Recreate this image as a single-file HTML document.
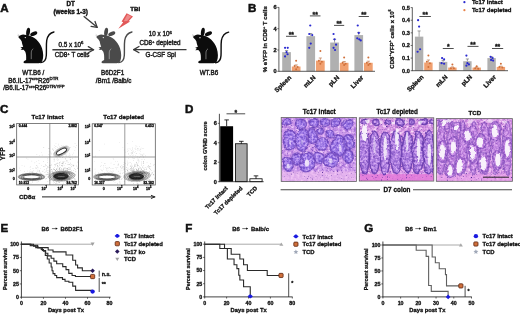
<!DOCTYPE html>
<html><head><meta charset="utf-8"><style>
html,body{margin:0;padding:0;background:#fff;width:520px;height:314px;overflow:hidden}
svg{display:block;filter:blur(0.3px)}
text{font-family:"Liberation Sans", sans-serif}
</style></head><body>
<svg width="520" height="314" viewBox="0 0 520 314">
<defs><filter id="blur05" x="-30%" y="-30%" width="160%" height="160%"><feGaussianBlur stdDeviation="0.6"/></filter><filter id="blur1" x="-20%" y="-20%" width="140%" height="140%"><feGaussianBlur stdDeviation="0.7"/></filter><filter id="blur2" x="-30%" y="-30%" width="160%" height="160%"><feGaussianBlur stdDeviation="0.9"/></filter><clipPath id="clip1"><rect x="281.2" y="117.5" width="75.30" height="63.90"/></clipPath><mask id="mask1" maskUnits="userSpaceOnUse" x="281.2" y="117.5" width="75.30" height="63.90"><g filter="url(#warp1)"><ellipse cx="287.00" cy="122.00" rx="4.59" ry="4.25" fill="#fff" fill-opacity="0.95"/><ellipse cx="301.00" cy="124.00" rx="5.94" ry="5.50" fill="#fff" fill-opacity="0.95"/><ellipse cx="314.00" cy="123.00" rx="5.40" ry="5.00" fill="#fff" fill-opacity="0.95"/><ellipse cx="325.00" cy="122.00" rx="5.40" ry="5.00" fill="#fff" fill-opacity="0.95"/><ellipse cx="336.00" cy="123.00" rx="5.40" ry="5.00" fill="#fff" fill-opacity="0.95"/><ellipse cx="348.00" cy="124.00" rx="5.94" ry="5.50" fill="#fff" fill-opacity="0.95"/><ellipse cx="290.00" cy="140.00" rx="7.29" ry="10.50" fill="#fff" fill-opacity="0.95"/><ellipse cx="302.00" cy="140.00" rx="7.29" ry="11.75" fill="#fff" fill-opacity="0.95"/><ellipse cx="312.00" cy="136.00" rx="5.94" ry="8.00" fill="#fff" fill-opacity="0.95"/><ellipse cx="322.00" cy="144.00" rx="7.29" ry="6.75" fill="#fff" fill-opacity="0.95"/><ellipse cx="339.00" cy="146.00" rx="8.64" ry="11.75" fill="#fff" fill-opacity="0.95"/><ellipse cx="349.00" cy="142.00" rx="5.94" ry="8.00" fill="#fff" fill-opacity="0.95"/><ellipse cx="288.00" cy="165.00" rx="5.94" ry="8.00" fill="#fff" fill-opacity="0.95"/><ellipse cx="297.00" cy="159.00" rx="5.94" ry="6.75" fill="#fff" fill-opacity="0.95"/><ellipse cx="307.00" cy="162.00" rx="8.64" ry="10.50" fill="#fff" fill-opacity="0.95"/><ellipse cx="319.00" cy="158.00" rx="5.94" ry="5.50" fill="#fff" fill-opacity="0.95"/><ellipse cx="331.00" cy="160.00" rx="7.29" ry="8.00" fill="#fff" fill-opacity="0.95"/><ellipse cx="348.00" cy="157.00" rx="5.94" ry="8.00" fill="#fff" fill-opacity="0.95"/><ellipse cx="320.00" cy="131.00" rx="4.05" ry="3.75" fill="#fff" fill-opacity="0.95"/><ellipse cx="330.00" cy="134.00" rx="4.59" ry="4.25" fill="#fff" fill-opacity="0.95"/></g></mask><filter id="warp1" x="-10%" y="-10%" width="120%" height="120%" color-interpolation-filters="sRGB"><feTurbulence type="fractalNoise" baseFrequency="0.09" numOctaves="2" seed="10" result="t"/><feDisplacementMap in="SourceGraphic" in2="t" scale="4.5" xChannelSelector="R" yChannelSelector="G"/><feGaussianBlur stdDeviation="0.55"/></filter><filter id="lwarp1" x="-30%" y="-30%" width="160%" height="160%" color-interpolation-filters="sRGB"><feTurbulence type="fractalNoise" baseFrequency="0.25" numOctaves="2" seed="14" result="t"/><feDisplacementMap in="SourceGraphic" in2="t" scale="2.5" xChannelSelector="R" yChannelSelector="G"/><feGaussianBlur stdDeviation="0.7"/></filter><filter id="hL1" x="0" y="0" width="100%" height="100%" color-interpolation-filters="sRGB"><feTurbulence type="fractalNoise" baseFrequency="0.35" numOctaves="3" seed="3"/><feColorMatrix type="matrix" values="1.7 0 0 0 -0.35  1.7 0 0 0 -0.35  1.7 0 0 0 -0.35  0 0 0 0 1"/><feComponentTransfer><feFuncR type="table" tableValues="0.64 0.73 0.80 0.87 0.94"/><feFuncG type="table" tableValues="0.44 0.52 0.60 0.69 0.82"/><feFuncB type="table" tableValues="0.84 0.88 0.92 0.95 0.98"/></feComponentTransfer></filter><filter id="hD1" x="0" y="0" width="100%" height="100%" color-interpolation-filters="sRGB"><feTurbulence type="fractalNoise" baseFrequency="0.45499999999999996" numOctaves="3" seed="23"/><feColorMatrix type="matrix" values="2.2 0 0 0 -0.6000000000000001  2.2 0 0 0 -0.6000000000000001  2.2 0 0 0 -0.6000000000000001  0 0 0 0 1"/><feComponentTransfer><feFuncR type="table" tableValues="0.46 0.54 0.62 0.70 0.80"/><feFuncG type="table" tableValues="0.32 0.40 0.48 0.56 0.66"/><feFuncB type="table" tableValues="0.80 0.86 0.90 0.94 0.97"/></feComponentTransfer></filter><filter id="hDots1" x="0" y="0" width="100%" height="100%" color-interpolation-filters="sRGB"><feTurbulence type="fractalNoise" baseFrequency="0.8" numOctaves="1" seed="53"/><feColorMatrix type="matrix" values="0 0 0 0 0.30  0 0 0 0 0.14  0 0 0 0 0.60  -5 0 0 0 1.75"/></filter><clipPath id="clip2"><rect x="359.3" y="117.8" width="74.50" height="63.30"/></clipPath><mask id="mask2" maskUnits="userSpaceOnUse" x="359.3" y="117.8" width="74.50" height="63.30"><g filter="url(#warp2)"><ellipse cx="364.00" cy="152.50" rx="6.20" ry="22.00" fill="#fff" fill-opacity="0.95"/><ellipse cx="374.50" cy="152.50" rx="6.20" ry="22.00" fill="#fff" fill-opacity="0.95"/><ellipse cx="385.00" cy="152.50" rx="6.20" ry="22.00" fill="#fff" fill-opacity="0.95"/><ellipse cx="396.00" cy="152.50" rx="6.20" ry="22.00" fill="#fff" fill-opacity="0.95"/><ellipse cx="407.00" cy="152.50" rx="6.20" ry="22.00" fill="#fff" fill-opacity="0.95"/><ellipse cx="418.00" cy="152.50" rx="6.20" ry="22.00" fill="#fff" fill-opacity="0.95"/><ellipse cx="428.50" cy="152.50" rx="6.20" ry="22.00" fill="#fff" fill-opacity="0.95"/><ellipse cx="364.00" cy="122.00" rx="4.00" ry="3.20" fill="#fff" fill-opacity="0.95"/><ellipse cx="376.00" cy="122.00" rx="4.00" ry="3.20" fill="#fff" fill-opacity="0.95"/><ellipse cx="388.00" cy="122.00" rx="4.00" ry="3.20" fill="#fff" fill-opacity="0.95"/><ellipse cx="400.00" cy="122.00" rx="4.00" ry="3.20" fill="#fff" fill-opacity="0.95"/><ellipse cx="412.00" cy="122.00" rx="4.00" ry="3.20" fill="#fff" fill-opacity="0.95"/><ellipse cx="424.00" cy="122.00" rx="4.00" ry="3.20" fill="#fff" fill-opacity="0.95"/><ellipse cx="433.00" cy="122.00" rx="4.00" ry="3.20" fill="#fff" fill-opacity="0.95"/></g></mask><filter id="warp2" x="-10%" y="-10%" width="120%" height="120%" color-interpolation-filters="sRGB"><feTurbulence type="fractalNoise" baseFrequency="0.09" numOctaves="2" seed="12" result="t"/><feDisplacementMap in="SourceGraphic" in2="t" scale="4.5" xChannelSelector="R" yChannelSelector="G"/><feGaussianBlur stdDeviation="0.55"/></filter><filter id="lwarp2" x="-30%" y="-30%" width="160%" height="160%" color-interpolation-filters="sRGB"><feTurbulence type="fractalNoise" baseFrequency="0.25" numOctaves="2" seed="16" result="t"/><feDisplacementMap in="SourceGraphic" in2="t" scale="2.5" xChannelSelector="R" yChannelSelector="G"/><feGaussianBlur stdDeviation="0.7"/></filter><filter id="hL2" x="0" y="0" width="100%" height="100%" color-interpolation-filters="sRGB"><feTurbulence type="fractalNoise" baseFrequency="0.35" numOctaves="3" seed="5"/><feColorMatrix type="matrix" values="1.7 0 0 0 -0.35  1.7 0 0 0 -0.35  1.7 0 0 0 -0.35  0 0 0 0 1"/><feComponentTransfer><feFuncR type="table" tableValues="0.68 0.78 0.85 0.92 0.97"/><feFuncG type="table" tableValues="0.42 0.52 0.61 0.72 0.86"/><feFuncB type="table" tableValues="0.80 0.86 0.90 0.94 0.98"/></feComponentTransfer></filter><filter id="hD2" x="0" y="0" width="100%" height="100%" color-interpolation-filters="sRGB"><feTurbulence type="fractalNoise" baseFrequency="0.45499999999999996" numOctaves="3" seed="25"/><feColorMatrix type="matrix" values="2.2 0 0 0 -0.6000000000000001  2.2 0 0 0 -0.6000000000000001  2.2 0 0 0 -0.6000000000000001  0 0 0 0 1"/><feComponentTransfer><feFuncR type="table" tableValues="0.52 0.60 0.68 0.76 0.84"/><feFuncG type="table" tableValues="0.34 0.42 0.50 0.58 0.68"/><feFuncB type="table" tableValues="0.76 0.83 0.88 0.92 0.95"/></feComponentTransfer></filter><filter id="hDots2" x="0" y="0" width="100%" height="100%" color-interpolation-filters="sRGB"><feTurbulence type="fractalNoise" baseFrequency="0.8" numOctaves="1" seed="55"/><feColorMatrix type="matrix" values="0 0 0 0 0.30  0 0 0 0 0.14  0 0 0 0 0.60  -5 0 0 0 1.85"/></filter><clipPath id="clip3"><rect x="436.3" y="118.6" width="76.20" height="62.70"/></clipPath><mask id="mask3" maskUnits="userSpaceOnUse" x="436.3" y="118.6" width="76.20" height="62.70"><g filter="url(#warp3)"><ellipse cx="443.90" cy="123.00" rx="6.10" ry="6.40" fill="#fff" fill-opacity="0.85"/><ellipse cx="456.60" cy="127.90" rx="5.60" ry="5.90" fill="#fff" fill-opacity="0.85"/><ellipse cx="467.70" cy="135.80" rx="6.40" ry="8.40" fill="#fff" fill-opacity="0.85"/><ellipse cx="480.40" cy="142.20" rx="6.20" ry="8.40" fill="#fff" fill-opacity="0.85"/><ellipse cx="494.70" cy="131.00" rx="6.40" ry="9.90" fill="#fff" fill-opacity="0.85"/><ellipse cx="442.30" cy="151.60" rx="6.20" ry="11.40" fill="#fff" fill-opacity="0.85"/><ellipse cx="453.40" cy="147.00" rx="6.10" ry="9.90" fill="#fff" fill-opacity="0.85"/><ellipse cx="472.50" cy="153.30" rx="6.10" ry="9.90" fill="#fff" fill-opacity="0.85"/><ellipse cx="459.80" cy="166.00" rx="6.40" ry="9.90" fill="#fff" fill-opacity="0.85"/><ellipse cx="483.60" cy="162.70" rx="6.40" ry="9.90" fill="#fff" fill-opacity="0.85"/><ellipse cx="497.90" cy="159.60" rx="6.20" ry="9.90" fill="#fff" fill-opacity="0.85"/><ellipse cx="507.40" cy="148.50" rx="6.00" ry="11.40" fill="#fff" fill-opacity="0.85"/><ellipse cx="450.20" cy="170.70" rx="5.80" ry="7.90" fill="#fff" fill-opacity="0.85"/><ellipse cx="441.00" cy="148.00" rx="5.20" ry="27.00" fill="#fff" fill-opacity="0.85"/><ellipse cx="452.00" cy="148.00" rx="5.20" ry="27.00" fill="#fff" fill-opacity="0.85"/><ellipse cx="463.00" cy="148.00" rx="5.20" ry="27.00" fill="#fff" fill-opacity="0.85"/><ellipse cx="474.00" cy="148.00" rx="5.20" ry="27.00" fill="#fff" fill-opacity="0.85"/><ellipse cx="485.00" cy="148.00" rx="5.20" ry="27.00" fill="#fff" fill-opacity="0.85"/><ellipse cx="496.00" cy="148.00" rx="5.20" ry="27.00" fill="#fff" fill-opacity="0.85"/><ellipse cx="507.00" cy="148.00" rx="5.20" ry="27.00" fill="#fff" fill-opacity="0.85"/></g></mask><filter id="warp3" x="-10%" y="-10%" width="120%" height="120%" color-interpolation-filters="sRGB"><feTurbulence type="fractalNoise" baseFrequency="0.09" numOctaves="2" seed="16" result="t"/><feDisplacementMap in="SourceGraphic" in2="t" scale="4.5" xChannelSelector="R" yChannelSelector="G"/><feGaussianBlur stdDeviation="0.55"/></filter><filter id="lwarp3" x="-30%" y="-30%" width="160%" height="160%" color-interpolation-filters="sRGB"><feTurbulence type="fractalNoise" baseFrequency="0.25" numOctaves="2" seed="20" result="t"/><feDisplacementMap in="SourceGraphic" in2="t" scale="3.5" xChannelSelector="R" yChannelSelector="G"/><feGaussianBlur stdDeviation="0.7"/></filter><filter id="hL3" x="0" y="0" width="100%" height="100%" color-interpolation-filters="sRGB"><feTurbulence type="fractalNoise" baseFrequency="0.35" numOctaves="3" seed="9"/><feColorMatrix type="matrix" values="1.7 0 0 0 -0.35  1.7 0 0 0 -0.35  1.7 0 0 0 -0.35  0 0 0 0 1"/><feComponentTransfer><feFuncR type="table" tableValues="0.68 0.78 0.85 0.92 0.97"/><feFuncG type="table" tableValues="0.42 0.52 0.61 0.72 0.86"/><feFuncB type="table" tableValues="0.80 0.86 0.90 0.94 0.98"/></feComponentTransfer></filter><filter id="hD3" x="0" y="0" width="100%" height="100%" color-interpolation-filters="sRGB"><feTurbulence type="fractalNoise" baseFrequency="0.45499999999999996" numOctaves="3" seed="29"/><feColorMatrix type="matrix" values="2.2 0 0 0 -0.6000000000000001  2.2 0 0 0 -0.6000000000000001  2.2 0 0 0 -0.6000000000000001  0 0 0 0 1"/><feComponentTransfer><feFuncR type="table" tableValues="0.60 0.68 0.75 0.82 0.89"/><feFuncG type="table" tableValues="0.36 0.44 0.52 0.60 0.70"/><feFuncB type="table" tableValues="0.77 0.83 0.88 0.92 0.95"/></feComponentTransfer></filter><filter id="hDots3" x="0" y="0" width="100%" height="100%" color-interpolation-filters="sRGB"><feTurbulence type="fractalNoise" baseFrequency="0.8" numOctaves="1" seed="59"/><feColorMatrix type="matrix" values="0 0 0 0 0.30  0 0 0 0 0.14  0 0 0 0 0.60  -5 0 0 0 1.85"/></filter></defs>
<rect width="520" height="314" fill="#fff"/>
<text x="0.20" y="11.80" font-size="11.6" font-weight="bold" text-anchor="start" fill="#111" stroke="#111" stroke-width="0.5">A</text>
<text x="70.60" y="6.10" font-size="6.3" font-weight="bold" text-anchor="middle" fill="#111" stroke="#111" stroke-width="0.4">DT</text>
<text x="70.70" y="14.00" font-size="6.4" font-weight="bold" text-anchor="middle" fill="#111" stroke="#111" stroke-width="0.4">(weeks 1-3)</text>
<line x1="83.70" y1="16.20" x2="96.90" y2="27.10" stroke="#3a3a3a" stroke-width="1.35" />
<line x1="91.07" y1="26.31" x2="97.13" y2="27.29" stroke="#3a3a3a" stroke-width="1.2825" stroke-linecap="round"/>
<line x1="95.02" y1="21.53" x2="97.13" y2="27.29" stroke="#3a3a3a" stroke-width="1.2825" stroke-linecap="round"/>
<text x="130.30" y="10.90" font-size="6.1" font-weight="bold" text-anchor="start" fill="#111" stroke="#111" stroke-width="0.4">TBI</text>
<polygon points="126.6,13.2 133,16.4 128.6,21.2 130.2,21.6 118.3,28.8 123.2,22.2 121.6,21.6" fill="#e25858"/>
<polygon points="127.4,14.4 131.2,16.4 127.2,21 123.8,21.2" fill="#f4a0a0" opacity="0.7"/>
<g transform="translate(18.4,36.7) scale(1.045)" fill="#0c0c0c">
<path d="M0,0 C1.2,-1 2.8,-2 4.6,-2.2 L8.7,-1.4 C15,-0.3 20.5,4.5 22.6,11 C24,15.5 24.2,20 22.8,23.4 C22,24.6 20.8,25.2 19.5,25.3 L6.2,25.3 C4.8,25.3 4.4,24 5.6,23.2 L7.4,22.4 C7.6,19 7.4,16.5 6.6,14.5 L5,12.6 L2,12.8 L3.6,11.5 L2,10.4 L4.6,9.6 C3.8,7.5 3.3,5.5 3.1,4.3 C2.5,3 1.6,2 0.8,1.4 C0.2,1 0,0.5 0,0 Z"/>
<ellipse cx="9.3" cy="-4.6" rx="1.8" ry="4.0" transform="rotate(9 9.3 -4.6)"/>
<ellipse cx="14.7" cy="-2.9" rx="3.6" ry="1.8" transform="rotate(-24 14.7 -2.9)"/>
<path d="M21.5,24.8 C24.6,24.5 26.4,22.5 26.7,18 C27,13 26.5,8 27.1,3.5 C27.9,-0.5 30.5,-3.8 34,-4.5" fill="none" stroke="#0c0c0c" stroke-width="1.35" stroke-linecap="round"/>
<circle cx="6.6" cy="0.8" r="0.6" fill="#fff"/>
<path d="M14.2,11.5 C12.8,12.5 12.3,14 12.3,15.5 L12.3,21.5" fill="none" stroke="#fff" stroke-width="0.5" opacity="0.8"/>
<path d="M1.5,-0.5 L-0.6,-2.2 M1.5,-0.2 L-0.8,-1" stroke="#0c0c0c" stroke-width="0.3" opacity="0.7"/>
</g>
<g transform="translate(96.4,36.7) scale(1.045)" fill="#4a4a4a">
<path d="M0,0 C1.2,-1 2.8,-2 4.6,-2.2 L8.7,-1.4 C15,-0.3 20.5,4.5 22.6,11 C24,15.5 24.2,20 22.8,23.4 C22,24.6 20.8,25.2 19.5,25.3 L6.2,25.3 C4.8,25.3 4.4,24 5.6,23.2 L7.4,22.4 C7.6,19 7.4,16.5 6.6,14.5 L5,12.6 L2,12.8 L3.6,11.5 L2,10.4 L4.6,9.6 C3.8,7.5 3.3,5.5 3.1,4.3 C2.5,3 1.6,2 0.8,1.4 C0.2,1 0,0.5 0,0 Z"/>
<ellipse cx="9.3" cy="-4.6" rx="1.8" ry="4.0" transform="rotate(9 9.3 -4.6)"/>
<ellipse cx="14.7" cy="-2.9" rx="3.6" ry="1.8" transform="rotate(-24 14.7 -2.9)"/>
<path d="M21.5,24.8 C24.6,24.5 26.4,22.5 26.7,18 C27,13 26.5,8 27.1,3.5 C27.9,-0.5 30.5,-3.8 34,-4.5" fill="none" stroke="#4a4a4a" stroke-width="1.35" stroke-linecap="round"/>
<circle cx="6.6" cy="0.8" r="0.6" fill="#fff"/>
<path d="M14.2,11.5 C12.8,12.5 12.3,14 12.3,15.5 L12.3,21.5" fill="none" stroke="#fff" stroke-width="0.5" opacity="0.8"/>
<path d="M1.5,-0.5 L-0.6,-2.2 M1.5,-0.2 L-0.8,-1" stroke="#4a4a4a" stroke-width="0.3" opacity="0.7"/>
</g>
<g transform="translate(193.1,36.8) scale(1.045)" fill="#0c0c0c">
<path d="M0,0 C1.2,-1 2.8,-2 4.6,-2.2 L8.7,-1.4 C15,-0.3 20.5,4.5 22.6,11 C24,15.5 24.2,20 22.8,23.4 C22,24.6 20.8,25.2 19.5,25.3 L6.2,25.3 C4.8,25.3 4.4,24 5.6,23.2 L7.4,22.4 C7.6,19 7.4,16.5 6.6,14.5 L5,12.6 L2,12.8 L3.6,11.5 L2,10.4 L4.6,9.6 C3.8,7.5 3.3,5.5 3.1,4.3 C2.5,3 1.6,2 0.8,1.4 C0.2,1 0,0.5 0,0 Z"/>
<ellipse cx="9.3" cy="-4.6" rx="1.8" ry="4.0" transform="rotate(9 9.3 -4.6)"/>
<ellipse cx="14.7" cy="-2.9" rx="3.6" ry="1.8" transform="rotate(-24 14.7 -2.9)"/>
<path d="M21.5,24.8 C24.6,24.5 26.4,22.5 26.7,18 C27,13 26.5,8 27.1,3.5 C27.9,-0.5 30.5,-3.8 34,-4.5" fill="none" stroke="#0c0c0c" stroke-width="1.35" stroke-linecap="round"/>
<circle cx="6.6" cy="0.8" r="0.6" fill="#fff"/>
<path d="M14.2,11.5 C12.8,12.5 12.3,14 12.3,15.5 L12.3,21.5" fill="none" stroke="#fff" stroke-width="0.5" opacity="0.8"/>
<path d="M1.5,-0.5 L-0.6,-2.2 M1.5,-0.2 L-0.8,-1" stroke="#0c0c0c" stroke-width="0.3" opacity="0.7"/>
</g>
<line x1="52.40" y1="49.70" x2="93.30" y2="49.70" stroke="#3a3a3a" stroke-width="1.35" />
<line x1="88.30" y1="52.80" x2="93.60" y2="49.70" stroke="#3a3a3a" stroke-width="1.2825" stroke-linecap="round"/>
<line x1="88.30" y1="46.60" x2="93.60" y2="49.70" stroke="#3a3a3a" stroke-width="1.2825" stroke-linecap="round"/>
<line x1="186.50" y1="49.60" x2="134.00" y2="49.60" stroke="#3a3a3a" stroke-width="1.35" />
<line x1="139.00" y1="46.50" x2="133.70" y2="49.60" stroke="#3a3a3a" stroke-width="1.2825" stroke-linecap="round"/>
<line x1="139.00" y1="52.70" x2="133.70" y2="49.60" stroke="#3a3a3a" stroke-width="1.2825" stroke-linecap="round"/>
<text x="71.00" y="46.50" font-size="6.3" font-weight="400" text-anchor="middle" fill="#222"  stroke="#222" stroke-width="0.42">0.5 x 10<tspan font-size="4.3" dy="-2.2">6</tspan></text>
<text x="72.10" y="57.40" font-size="6.3" font-weight="400" text-anchor="middle" fill="#222"  stroke="#222" stroke-width="0.42">CD8<tspan font-size="4.3" dy="-2.2">+</tspan><tspan dy="2.2"> T cells</tspan></text>
<text x="160.30" y="36.30" font-size="6.3" font-weight="400" text-anchor="middle" fill="#222"  stroke="#222" stroke-width="0.42">10 x 10<tspan font-size="4.3" dy="-2.2">6</tspan></text>
<text x="160.00" y="45.00" font-size="6.3" font-weight="400" text-anchor="middle" fill="#222"  stroke="#222" stroke-width="0.42">CD8<tspan font-size="4.3" dy="-2.2">+</tspan><tspan dy="2.2"> depleted</tspan></text>
<text x="160.80" y="57.10" font-size="6.3" font-weight="400" text-anchor="middle" fill="#222"  stroke="#222" stroke-width="0.42">G-CSF Spl</text>
<text x="33.30" y="74.80" font-size="6.3" font-weight="400" text-anchor="middle" fill="#222"  stroke="#222" stroke-width="0.42">WT.B6 /</text>
<text x="33.30" y="82.50" font-size="6.3" font-weight="400" text-anchor="middle" fill="#222"  stroke="#222" stroke-width="0.42">B6.IL-17<tspan font-size="4.3" dy="-2.3">cre</tspan><tspan dy="2.3">R26</tspan><tspan font-size="4.3" dy="-2.3">DTR</tspan></text>
<text x="34.00" y="90.00" font-size="6.3" font-weight="400" text-anchor="middle" fill="#222"  stroke="#222" stroke-width="0.42">/B6.IL-17<tspan font-size="4.3" dy="-2.3">cre</tspan><tspan dy="2.3">R26</tspan><tspan font-size="4.3" dy="-2.3">DTR/YFP</tspan></text>
<text x="112.60" y="74.80" font-size="6.3" font-weight="400" text-anchor="middle" fill="#222"  stroke="#222" stroke-width="0.42">B6D2F1</text>
<text x="113.60" y="82.80" font-size="6.3" font-weight="400" text-anchor="middle" fill="#222"  stroke="#222" stroke-width="0.42">/Bm1 /Balb/c</text>
<text x="208.90" y="74.80" font-size="6.3" font-weight="400" text-anchor="middle" fill="#222"  stroke="#222" stroke-width="0.42">WT.B6</text>
<text x="248.00" y="11.80" font-size="11.6" font-weight="bold" text-anchor="start" fill="#111" stroke="#111" stroke-width="0.5">B</text>
<rect x="282.20" y="52.13" width="8.7" height="19.17" fill="#b0b0b0"/>
<rect x="291.80" y="66.51" width="8.7" height="4.79" fill="#f0a070"/>
<line x1="286.55" y1="52.13" x2="286.55" y2="50.53" stroke="#666" stroke-width="0.6" />
<line x1="284.95" y1="50.53" x2="288.15" y2="50.53" stroke="#666" stroke-width="0.6" />
<line x1="296.15" y1="66.51" x2="296.15" y2="64.91" stroke="#b86a3a" stroke-width="0.6" />
<line x1="294.55" y1="64.91" x2="297.75" y2="64.91" stroke="#b86a3a" stroke-width="0.6" />
<circle cx="285.05" cy="47.87" r="1.1" fill="#2a2ad0"/>
<circle cx="287.75" cy="47.87" r="1.1" fill="#2a2ad0"/>
<circle cx="286.55" cy="52.13" r="1.1" fill="#2a2ad0"/>
<circle cx="287.55" cy="54.26" r="1.1" fill="#2a2ad0"/>
<circle cx="285.05" cy="56.39" r="1.1" fill="#2a2ad0"/>
<circle cx="296.15" cy="60.65" r="1.0" fill="#d0703a"/>
<circle cx="294.65" cy="65.97" r="1.0" fill="#d0703a"/>
<circle cx="297.65" cy="67.04" r="1.0" fill="#d0703a"/>
<circle cx="296.15" cy="69.17" r="1.0" fill="#d0703a"/>
<line x1="286.00" y1="36.30" x2="296.70" y2="36.30" stroke="#222" stroke-width="0.8" />
<text x="291.35" y="37.20" font-size="6.8" font-weight="bold" text-anchor="middle" fill="#111"  stroke="#111" stroke-width="0.3">**</text>
<text transform="translate(291.65,78.10) rotate(-45)" font-size="6.3" font-weight="bold" text-anchor="end" fill="#111" stroke="#111" stroke-width="0.3">Spleen</text>
<rect x="306.40" y="36.16" width="8.7" height="35.14" fill="#b0b0b0"/>
<rect x="316.00" y="60.65" width="8.7" height="10.65" fill="#f0a070"/>
<line x1="310.75" y1="36.16" x2="310.75" y2="33.49" stroke="#666" stroke-width="0.6" />
<line x1="309.15" y1="33.49" x2="312.35" y2="33.49" stroke="#666" stroke-width="0.6" />
<line x1="320.35" y1="60.65" x2="320.35" y2="57.99" stroke="#b86a3a" stroke-width="0.6" />
<line x1="318.75" y1="57.99" x2="321.95" y2="57.99" stroke="#b86a3a" stroke-width="0.6" />
<circle cx="310.25" cy="25.50" r="1.1" fill="#2a2ad0"/>
<circle cx="309.25" cy="34.02" r="1.1" fill="#2a2ad0"/>
<circle cx="312.25" cy="35.09" r="1.1" fill="#2a2ad0"/>
<circle cx="310.75" cy="43.61" r="1.1" fill="#2a2ad0"/>
<circle cx="309.25" cy="47.87" r="1.1" fill="#2a2ad0"/>
<circle cx="320.35" cy="51.06" r="1.0" fill="#d0703a"/>
<circle cx="318.85" cy="60.65" r="1.0" fill="#d0703a"/>
<circle cx="321.85" cy="61.71" r="1.0" fill="#d0703a"/>
<circle cx="320.35" cy="63.84" r="1.0" fill="#d0703a"/>
<line x1="309.90" y1="15.90" x2="320.50" y2="15.90" stroke="#222" stroke-width="0.8" />
<text x="315.20" y="16.80" font-size="6.8" font-weight="bold" text-anchor="middle" fill="#111"  stroke="#111" stroke-width="0.3">**</text>
<text transform="translate(315.85,78.10) rotate(-45)" font-size="6.3" font-weight="bold" text-anchor="end" fill="#111" stroke="#111" stroke-width="0.3">mLN</text>
<rect x="330.20" y="42.54" width="8.7" height="28.76" fill="#b0b0b0"/>
<rect x="339.80" y="62.78" width="8.7" height="8.52" fill="#f0a070"/>
<line x1="334.55" y1="42.54" x2="334.55" y2="39.35" stroke="#666" stroke-width="0.6" />
<line x1="332.95" y1="39.35" x2="336.15" y2="39.35" stroke="#666" stroke-width="0.6" />
<line x1="344.15" y1="62.78" x2="344.15" y2="61.50" stroke="#b86a3a" stroke-width="0.6" />
<line x1="342.55" y1="61.50" x2="345.75" y2="61.50" stroke="#b86a3a" stroke-width="0.6" />
<circle cx="333.55" cy="34.02" r="1.1" fill="#2a2ad0"/>
<circle cx="334.55" cy="39.35" r="1.1" fill="#2a2ad0"/>
<circle cx="336.05" cy="44.67" r="1.1" fill="#2a2ad0"/>
<circle cx="333.55" cy="47.87" r="1.1" fill="#2a2ad0"/>
<circle cx="335.05" cy="50.00" r="1.1" fill="#2a2ad0"/>
<circle cx="344.15" cy="57.45" r="1.0" fill="#d0703a"/>
<circle cx="342.65" cy="62.78" r="1.0" fill="#d0703a"/>
<circle cx="345.65" cy="63.84" r="1.0" fill="#d0703a"/>
<circle cx="344.15" cy="64.91" r="1.0" fill="#d0703a"/>
<line x1="334.00" y1="25.40" x2="344.20" y2="25.40" stroke="#222" stroke-width="0.8" />
<text x="339.10" y="26.30" font-size="6.8" font-weight="bold" text-anchor="middle" fill="#111"  stroke="#111" stroke-width="0.3">**</text>
<text transform="translate(339.65,78.10) rotate(-45)" font-size="6.3" font-weight="bold" text-anchor="end" fill="#111" stroke="#111" stroke-width="0.3">pLN</text>
<rect x="354.40" y="35.09" width="8.7" height="36.21" fill="#b0b0b0"/>
<rect x="364.00" y="62.78" width="8.7" height="8.52" fill="#f0a070"/>
<line x1="358.75" y1="35.09" x2="358.75" y2="32.43" stroke="#666" stroke-width="0.6" />
<line x1="357.15" y1="32.43" x2="360.35" y2="32.43" stroke="#666" stroke-width="0.6" />
<line x1="368.35" y1="62.78" x2="368.35" y2="61.18" stroke="#b86a3a" stroke-width="0.6" />
<line x1="366.75" y1="61.18" x2="369.95" y2="61.18" stroke="#b86a3a" stroke-width="0.6" />
<circle cx="357.75" cy="25.50" r="1.1" fill="#2a2ad0"/>
<circle cx="358.75" cy="32.96" r="1.1" fill="#2a2ad0"/>
<circle cx="357.25" cy="38.28" r="1.1" fill="#2a2ad0"/>
<circle cx="359.25" cy="39.35" r="1.1" fill="#2a2ad0"/>
<circle cx="360.75" cy="40.41" r="1.1" fill="#2a2ad0"/>
<circle cx="368.35" cy="57.45" r="1.0" fill="#d0703a"/>
<circle cx="366.85" cy="62.78" r="1.0" fill="#d0703a"/>
<circle cx="369.85" cy="63.84" r="1.0" fill="#d0703a"/>
<circle cx="368.35" cy="64.91" r="1.0" fill="#d0703a"/>
<line x1="358.70" y1="16.50" x2="368.90" y2="16.50" stroke="#222" stroke-width="0.8" />
<text x="363.80" y="17.40" font-size="6.8" font-weight="bold" text-anchor="middle" fill="#111"  stroke="#111" stroke-width="0.3">**</text>
<text transform="translate(363.85,78.10) rotate(-45)" font-size="6.3" font-weight="bold" text-anchor="end" fill="#111" stroke="#111" stroke-width="0.3">Liver</text>
<line x1="278.90" y1="7.20" x2="278.90" y2="71.70" stroke="#333" stroke-width="0.8" />
<line x1="278.90" y1="71.30" x2="375.00" y2="71.30" stroke="#333" stroke-width="0.8" />
<line x1="277.30" y1="71.30" x2="278.90" y2="71.30" stroke="#333" stroke-width="0.7" />
<text x="276.50" y="73.30" font-size="5.6" font-weight="bold" text-anchor="end" fill="#111"  stroke="#111" stroke-width="0.3">0</text>
<line x1="277.30" y1="50.00" x2="278.90" y2="50.00" stroke="#333" stroke-width="0.7" />
<text x="276.50" y="52.00" font-size="5.6" font-weight="bold" text-anchor="end" fill="#111"  stroke="#111" stroke-width="0.3">2</text>
<line x1="277.30" y1="28.70" x2="278.90" y2="28.70" stroke="#333" stroke-width="0.7" />
<text x="276.50" y="30.70" font-size="5.6" font-weight="bold" text-anchor="end" fill="#111"  stroke="#111" stroke-width="0.3">4</text>
<line x1="277.30" y1="7.40" x2="278.90" y2="7.40" stroke="#333" stroke-width="0.7" />
<text x="276.50" y="9.40" font-size="5.6" font-weight="bold" text-anchor="end" fill="#111"  stroke="#111" stroke-width="0.3">6</text>
<text transform="translate(266.80,39.25) rotate(-90)" font-size="6.1" font-weight="bold" text-anchor="middle" fill="#111" stroke="#111" stroke-width="0.25">% eYFP in CD8<tspan font-size="3.8" dy="-2.2">+</tspan><tspan dy="2.2"> T cells</tspan></text>
<rect x="414.90" y="36.63" width="8.4" height="34.07" fill="#b0b0b0"/>
<rect x="424.20" y="62.50" width="8.4" height="8.20" fill="#f0a070"/>
<line x1="419.10" y1="36.63" x2="419.10" y2="30.95" stroke="#666" stroke-width="0.6" />
<line x1="417.50" y1="30.95" x2="420.70" y2="30.95" stroke="#666" stroke-width="0.6" />
<line x1="428.40" y1="62.50" x2="428.40" y2="59.97" stroke="#b86a3a" stroke-width="0.6" />
<line x1="426.80" y1="59.97" x2="430.00" y2="59.97" stroke="#b86a3a" stroke-width="0.6" />
<circle cx="418.10" cy="20.22" r="1.1" fill="#2a2ad0"/>
<circle cx="419.10" cy="26.53" r="1.1" fill="#2a2ad0"/>
<circle cx="420.10" cy="49.25" r="1.1" fill="#2a2ad0"/>
<circle cx="417.60" cy="51.77" r="1.1" fill="#2a2ad0"/>
<circle cx="428.40" cy="55.56" r="1.0" fill="#d0703a"/>
<circle cx="426.90" cy="61.87" r="1.0" fill="#d0703a"/>
<circle cx="429.90" cy="63.13" r="1.0" fill="#d0703a"/>
<circle cx="428.40" cy="66.91" r="1.0" fill="#d0703a"/>
<line x1="419.40" y1="16.50" x2="430.90" y2="16.50" stroke="#222" stroke-width="0.8" />
<text x="425.15" y="17.40" font-size="6.8" font-weight="bold" text-anchor="middle" fill="#111"  stroke="#111" stroke-width="0.3">**</text>
<text transform="translate(424.05,77.50) rotate(-45)" font-size="6.3" font-weight="bold" text-anchor="end" fill="#111" stroke="#111" stroke-width="0.3">Spleen</text>
<rect x="438.90" y="61.87" width="8.4" height="8.83" fill="#b0b0b0"/>
<rect x="448.20" y="67.55" width="8.4" height="3.16" fill="#f0a070"/>
<line x1="443.10" y1="61.87" x2="443.10" y2="60.35" stroke="#666" stroke-width="0.6" />
<line x1="441.50" y1="60.35" x2="444.70" y2="60.35" stroke="#666" stroke-width="0.6" />
<line x1="452.40" y1="67.55" x2="452.40" y2="66.91" stroke="#b86a3a" stroke-width="0.6" />
<line x1="450.80" y1="66.91" x2="454.00" y2="66.91" stroke="#b86a3a" stroke-width="0.6" />
<circle cx="442.10" cy="58.08" r="1.1" fill="#2a2ad0"/>
<circle cx="444.10" cy="59.34" r="1.1" fill="#2a2ad0"/>
<circle cx="441.60" cy="63.13" r="1.1" fill="#2a2ad0"/>
<circle cx="444.10" cy="63.76" r="1.1" fill="#2a2ad0"/>
<circle cx="452.40" cy="64.39" r="1.0" fill="#d0703a"/>
<circle cx="450.90" cy="68.18" r="1.0" fill="#d0703a"/>
<circle cx="453.90" cy="68.18" r="1.0" fill="#d0703a"/>
<line x1="442.80" y1="48.50" x2="453.70" y2="48.50" stroke="#222" stroke-width="0.8" />
<text x="448.25" y="49.40" font-size="6.8" font-weight="bold" text-anchor="middle" fill="#111"  stroke="#111" stroke-width="0.3">*</text>
<text transform="translate(448.05,77.50) rotate(-45)" font-size="6.3" font-weight="bold" text-anchor="end" fill="#111" stroke="#111" stroke-width="0.3">mLN</text>
<rect x="463.20" y="61.23" width="8.4" height="9.47" fill="#b0b0b0"/>
<rect x="472.50" y="67.55" width="8.4" height="3.16" fill="#f0a070"/>
<line x1="467.40" y1="61.23" x2="467.40" y2="58.96" stroke="#666" stroke-width="0.6" />
<line x1="465.80" y1="58.96" x2="469.00" y2="58.96" stroke="#666" stroke-width="0.6" />
<line x1="476.70" y1="67.55" x2="476.70" y2="67.04" stroke="#b86a3a" stroke-width="0.6" />
<line x1="475.10" y1="67.04" x2="478.30" y2="67.04" stroke="#b86a3a" stroke-width="0.6" />
<circle cx="466.40" cy="55.56" r="1.1" fill="#2a2ad0"/>
<circle cx="467.40" cy="63.13" r="1.1" fill="#2a2ad0"/>
<circle cx="468.90" cy="64.39" r="1.1" fill="#2a2ad0"/>
<circle cx="466.40" cy="65.65" r="1.1" fill="#2a2ad0"/>
<circle cx="476.70" cy="66.28" r="1.0" fill="#d0703a"/>
<circle cx="475.20" cy="68.18" r="1.0" fill="#d0703a"/>
<circle cx="478.20" cy="68.81" r="1.0" fill="#d0703a"/>
<line x1="467.50" y1="46.40" x2="478.50" y2="46.40" stroke="#222" stroke-width="0.8" />
<text x="473.00" y="47.30" font-size="6.8" font-weight="bold" text-anchor="middle" fill="#111"  stroke="#111" stroke-width="0.3">**</text>
<text transform="translate(472.35,77.50) rotate(-45)" font-size="6.3" font-weight="bold" text-anchor="end" fill="#111" stroke="#111" stroke-width="0.3">pLN</text>
<rect x="487.40" y="58.08" width="8.4" height="12.62" fill="#b0b0b0"/>
<rect x="496.70" y="66.91" width="8.4" height="3.79" fill="#f0a070"/>
<line x1="491.60" y1="58.08" x2="491.60" y2="56.82" stroke="#666" stroke-width="0.6" />
<line x1="490.00" y1="56.82" x2="493.20" y2="56.82" stroke="#666" stroke-width="0.6" />
<line x1="500.90" y1="66.91" x2="500.90" y2="66.16" stroke="#b86a3a" stroke-width="0.6" />
<line x1="499.30" y1="66.16" x2="502.50" y2="66.16" stroke="#b86a3a" stroke-width="0.6" />
<circle cx="490.60" cy="56.82" r="1.1" fill="#2a2ad0"/>
<circle cx="492.60" cy="58.08" r="1.1" fill="#2a2ad0"/>
<circle cx="491.10" cy="59.97" r="1.1" fill="#2a2ad0"/>
<circle cx="493.10" cy="60.60" r="1.1" fill="#2a2ad0"/>
<circle cx="500.90" cy="63.76" r="1.0" fill="#d0703a"/>
<circle cx="499.40" cy="66.91" r="1.0" fill="#d0703a"/>
<circle cx="502.40" cy="67.55" r="1.0" fill="#d0703a"/>
<line x1="492.00" y1="48.50" x2="503.20" y2="48.50" stroke="#222" stroke-width="0.8" />
<text x="497.60" y="49.40" font-size="6.8" font-weight="bold" text-anchor="middle" fill="#111"  stroke="#111" stroke-width="0.3">**</text>
<text transform="translate(496.55,77.50) rotate(-45)" font-size="6.3" font-weight="bold" text-anchor="end" fill="#111" stroke="#111" stroke-width="0.3">Liver</text>
<line x1="412.30" y1="7.40" x2="412.30" y2="71.10" stroke="#333" stroke-width="0.8" />
<line x1="412.30" y1="70.70" x2="508.00" y2="70.70" stroke="#333" stroke-width="0.8" />
<line x1="410.70" y1="70.70" x2="412.30" y2="70.70" stroke="#333" stroke-width="0.7" />
<text x="409.90" y="72.70" font-size="5.6" font-weight="bold" text-anchor="end" fill="#111"  stroke="#111" stroke-width="0.3">0.0</text>
<line x1="410.70" y1="58.08" x2="412.30" y2="58.08" stroke="#333" stroke-width="0.7" />
<text x="409.90" y="60.08" font-size="5.6" font-weight="bold" text-anchor="end" fill="#111"  stroke="#111" stroke-width="0.3">0.1</text>
<line x1="410.70" y1="45.46" x2="412.30" y2="45.46" stroke="#333" stroke-width="0.7" />
<text x="409.90" y="47.46" font-size="5.6" font-weight="bold" text-anchor="end" fill="#111"  stroke="#111" stroke-width="0.3">0.2</text>
<line x1="410.70" y1="32.84" x2="412.30" y2="32.84" stroke="#333" stroke-width="0.7" />
<text x="409.90" y="34.84" font-size="5.6" font-weight="bold" text-anchor="end" fill="#111"  stroke="#111" stroke-width="0.3">0.3</text>
<line x1="410.70" y1="20.22" x2="412.30" y2="20.22" stroke="#333" stroke-width="0.7" />
<text x="409.90" y="22.22" font-size="5.6" font-weight="bold" text-anchor="end" fill="#111"  stroke="#111" stroke-width="0.3">0.4</text>
<line x1="410.70" y1="7.60" x2="412.30" y2="7.60" stroke="#333" stroke-width="0.7" />
<text x="409.90" y="9.60" font-size="5.6" font-weight="bold" text-anchor="end" fill="#111"  stroke="#111" stroke-width="0.3">0.5</text>
<text transform="translate(393.50,39.05) rotate(-90)" font-size="6.1" font-weight="bold" text-anchor="middle" fill="#111" stroke="#111" stroke-width="0.25">CD8<tspan font-size="3.8" dy="-2.2">+</tspan><tspan dy="2.2">YFP</tspan><tspan font-size="3.8" dy="-2.2">+</tspan><tspan dy="2.2"> cells x 10</tspan><tspan font-size="3.8" dy="-2.2">6</tspan></text>
<circle cx="464.4" cy="2.2" r="1.1" fill="#2a2ad0"/>
<text x="471.90" y="4.40" font-size="6" font-weight="bold" text-anchor="start" fill="#111"  stroke="#111" stroke-width="0.3">Tc17 intact</text>
<circle cx="464.4" cy="10.2" r="1.1" fill="#e8834a"/>
<text x="471.90" y="12.30" font-size="6" font-weight="bold" text-anchor="start" fill="#111"  stroke="#111" stroke-width="0.3">Tc17 depleted</text>
<text x="0.10" y="113.40" font-size="11.6" font-weight="bold" text-anchor="start" fill="#111" stroke="#111" stroke-width="0.5">C</text>
<text x="47.55" y="119.10" font-size="6.2" font-weight="bold" text-anchor="middle" fill="#111"  stroke="#111" stroke-width="0.3">Tc17 intact</text>
<circle cx="20.68" cy="177.41" r="0.28" fill="#777" opacity="0.55"/>
<circle cx="40.65" cy="173.85" r="0.28" fill="#777" opacity="0.55"/>
<circle cx="19.74" cy="175.64" r="0.28" fill="#777" opacity="0.55"/>
<circle cx="36.00" cy="180.29" r="0.28" fill="#777" opacity="0.55"/>
<circle cx="20.76" cy="170.73" r="0.28" fill="#777" opacity="0.55"/>
<circle cx="38.05" cy="177.80" r="0.28" fill="#777" opacity="0.55"/>
<circle cx="45.50" cy="179.83" r="0.28" fill="#777" opacity="0.55"/>
<circle cx="30.78" cy="174.80" r="0.28" fill="#777" opacity="0.55"/>
<circle cx="54.83" cy="174.74" r="0.28" fill="#777" opacity="0.55"/>
<circle cx="24.64" cy="171.35" r="0.28" fill="#777" opacity="0.55"/>
<circle cx="32.56" cy="176.48" r="0.28" fill="#777" opacity="0.55"/>
<circle cx="28.60" cy="175.65" r="0.28" fill="#777" opacity="0.55"/>
<circle cx="34.16" cy="178.67" r="0.28" fill="#777" opacity="0.55"/>
<circle cx="41.57" cy="176.74" r="0.28" fill="#777" opacity="0.55"/>
<circle cx="18.92" cy="175.21" r="0.28" fill="#777" opacity="0.55"/>
<circle cx="18.44" cy="175.91" r="0.28" fill="#777" opacity="0.55"/>
<circle cx="24.69" cy="176.76" r="0.28" fill="#777" opacity="0.55"/>
<circle cx="61.40" cy="175.71" r="0.28" fill="#777" opacity="0.55"/>
<circle cx="39.28" cy="170.61" r="0.28" fill="#777" opacity="0.55"/>
<circle cx="29.11" cy="178.55" r="0.28" fill="#777" opacity="0.55"/>
<circle cx="30.87" cy="177.38" r="0.28" fill="#777" opacity="0.55"/>
<circle cx="32.63" cy="171.88" r="0.28" fill="#777" opacity="0.55"/>
<circle cx="36.77" cy="172.65" r="0.28" fill="#777" opacity="0.55"/>
<circle cx="48.55" cy="173.88" r="0.28" fill="#777" opacity="0.55"/>
<circle cx="37.87" cy="175.91" r="0.28" fill="#777" opacity="0.55"/>
<circle cx="40.27" cy="173.49" r="0.28" fill="#777" opacity="0.55"/>
<circle cx="40.69" cy="175.40" r="0.28" fill="#777" opacity="0.55"/>
<circle cx="43.07" cy="178.40" r="0.28" fill="#777" opacity="0.55"/>
<circle cx="32.97" cy="172.78" r="0.28" fill="#777" opacity="0.55"/>
<circle cx="38.61" cy="177.77" r="0.28" fill="#777" opacity="0.55"/>
<circle cx="46.48" cy="174.39" r="0.28" fill="#777" opacity="0.55"/>
<circle cx="36.69" cy="177.93" r="0.28" fill="#777" opacity="0.55"/>
<circle cx="34.25" cy="176.73" r="0.28" fill="#777" opacity="0.55"/>
<circle cx="33.34" cy="173.51" r="0.28" fill="#777" opacity="0.55"/>
<circle cx="22.57" cy="174.31" r="0.28" fill="#777" opacity="0.55"/>
<circle cx="37.02" cy="181.94" r="0.28" fill="#777" opacity="0.55"/>
<circle cx="40.49" cy="180.11" r="0.28" fill="#777" opacity="0.55"/>
<circle cx="38.70" cy="178.69" r="0.28" fill="#777" opacity="0.55"/>
<circle cx="33.35" cy="178.99" r="0.28" fill="#777" opacity="0.55"/>
<circle cx="47.66" cy="174.59" r="0.28" fill="#777" opacity="0.55"/>
<circle cx="25.46" cy="183.74" r="0.28" fill="#777" opacity="0.55"/>
<circle cx="33.90" cy="179.78" r="0.28" fill="#777" opacity="0.55"/>
<circle cx="39.56" cy="171.36" r="0.28" fill="#777" opacity="0.55"/>
<circle cx="53.60" cy="183.00" r="0.28" fill="#777" opacity="0.55"/>
<circle cx="33.29" cy="178.91" r="0.28" fill="#777" opacity="0.55"/>
<circle cx="32.84" cy="172.36" r="0.28" fill="#777" opacity="0.55"/>
<circle cx="30.69" cy="177.40" r="0.28" fill="#777" opacity="0.55"/>
<circle cx="41.74" cy="178.74" r="0.28" fill="#777" opacity="0.55"/>
<circle cx="32.24" cy="181.32" r="0.28" fill="#777" opacity="0.55"/>
<circle cx="24.85" cy="179.07" r="0.28" fill="#777" opacity="0.55"/>
<circle cx="41.71" cy="174.73" r="0.28" fill="#777" opacity="0.55"/>
<circle cx="33.83" cy="178.01" r="0.28" fill="#777" opacity="0.55"/>
<circle cx="45.63" cy="171.88" r="0.28" fill="#777" opacity="0.55"/>
<circle cx="31.72" cy="178.50" r="0.28" fill="#777" opacity="0.55"/>
<circle cx="30.28" cy="166.42" r="0.28" fill="#777" opacity="0.55"/>
<circle cx="40.74" cy="172.23" r="0.28" fill="#777" opacity="0.55"/>
<circle cx="27.99" cy="176.79" r="0.28" fill="#777" opacity="0.55"/>
<circle cx="54.10" cy="178.37" r="0.28" fill="#777" opacity="0.55"/>
<circle cx="32.72" cy="182.13" r="0.28" fill="#777" opacity="0.55"/>
<circle cx="30.96" cy="183.35" r="0.28" fill="#777" opacity="0.55"/>
<circle cx="25.53" cy="174.00" r="0.28" fill="#777" opacity="0.55"/>
<circle cx="38.19" cy="181.60" r="0.28" fill="#777" opacity="0.55"/>
<circle cx="37.59" cy="177.11" r="0.28" fill="#777" opacity="0.55"/>
<circle cx="26.20" cy="173.77" r="0.28" fill="#777" opacity="0.55"/>
<circle cx="36.98" cy="174.56" r="0.28" fill="#777" opacity="0.55"/>
<circle cx="38.79" cy="176.23" r="0.28" fill="#777" opacity="0.55"/>
<circle cx="28.70" cy="176.37" r="0.28" fill="#777" opacity="0.55"/>
<circle cx="35.56" cy="179.33" r="0.28" fill="#777" opacity="0.55"/>
<circle cx="27.40" cy="174.97" r="0.28" fill="#777" opacity="0.55"/>
<circle cx="19.43" cy="182.32" r="0.28" fill="#777" opacity="0.55"/>
<circle cx="44.77" cy="175.18" r="0.28" fill="#777" opacity="0.55"/>
<circle cx="27.39" cy="170.96" r="0.28" fill="#777" opacity="0.55"/>
<circle cx="33.23" cy="176.73" r="0.28" fill="#777" opacity="0.55"/>
<circle cx="51.34" cy="176.89" r="0.28" fill="#777" opacity="0.55"/>
<circle cx="24.70" cy="166.12" r="0.28" fill="#777" opacity="0.55"/>
<circle cx="44.38" cy="176.66" r="0.28" fill="#777" opacity="0.55"/>
<circle cx="41.77" cy="178.19" r="0.28" fill="#777" opacity="0.55"/>
<circle cx="30.12" cy="167.34" r="0.28" fill="#777" opacity="0.55"/>
<circle cx="30.56" cy="169.68" r="0.28" fill="#777" opacity="0.55"/>
<circle cx="37.07" cy="167.34" r="0.28" fill="#777" opacity="0.55"/>
<circle cx="23.53" cy="180.78" r="0.28" fill="#777" opacity="0.55"/>
<circle cx="46.49" cy="171.18" r="0.28" fill="#777" opacity="0.55"/>
<circle cx="17.89" cy="179.42" r="0.28" fill="#777" opacity="0.55"/>
<circle cx="39.38" cy="171.95" r="0.28" fill="#777" opacity="0.55"/>
<circle cx="56.45" cy="171.43" r="0.3" fill="#444" opacity="0.6"/>
<circle cx="52.00" cy="171.50" r="0.3" fill="#444" opacity="0.6"/>
<circle cx="73.96" cy="178.35" r="0.3" fill="#444" opacity="0.6"/>
<circle cx="61.48" cy="169.99" r="0.3" fill="#444" opacity="0.6"/>
<circle cx="61.59" cy="168.33" r="0.3" fill="#444" opacity="0.6"/>
<circle cx="46.70" cy="178.38" r="0.3" fill="#444" opacity="0.6"/>
<circle cx="75.66" cy="179.08" r="0.3" fill="#444" opacity="0.6"/>
<circle cx="74.69" cy="176.16" r="0.3" fill="#444" opacity="0.6"/>
<circle cx="56.24" cy="175.33" r="0.3" fill="#444" opacity="0.6"/>
<circle cx="59.33" cy="169.34" r="0.3" fill="#444" opacity="0.6"/>
<circle cx="47.47" cy="167.49" r="0.3" fill="#444" opacity="0.6"/>
<circle cx="62.65" cy="175.65" r="0.3" fill="#444" opacity="0.6"/>
<circle cx="58.43" cy="182.04" r="0.3" fill="#444" opacity="0.6"/>
<circle cx="64.31" cy="177.81" r="0.3" fill="#444" opacity="0.6"/>
<circle cx="73.67" cy="170.80" r="0.3" fill="#444" opacity="0.6"/>
<circle cx="44.97" cy="178.66" r="0.3" fill="#444" opacity="0.6"/>
<circle cx="56.50" cy="181.45" r="0.3" fill="#444" opacity="0.6"/>
<circle cx="65.74" cy="179.93" r="0.3" fill="#444" opacity="0.6"/>
<circle cx="69.57" cy="164.50" r="0.3" fill="#444" opacity="0.6"/>
<circle cx="69.17" cy="171.53" r="0.3" fill="#444" opacity="0.6"/>
<circle cx="55.90" cy="172.72" r="0.3" fill="#444" opacity="0.6"/>
<circle cx="69.61" cy="179.32" r="0.3" fill="#444" opacity="0.6"/>
<circle cx="71.80" cy="166.60" r="0.3" fill="#444" opacity="0.6"/>
<circle cx="57.38" cy="163.02" r="0.3" fill="#444" opacity="0.6"/>
<circle cx="61.78" cy="177.90" r="0.3" fill="#444" opacity="0.6"/>
<circle cx="55.82" cy="176.12" r="0.3" fill="#444" opacity="0.6"/>
<circle cx="64.78" cy="179.94" r="0.3" fill="#444" opacity="0.6"/>
<circle cx="55.31" cy="170.75" r="0.3" fill="#444" opacity="0.6"/>
<circle cx="55.83" cy="183.66" r="0.3" fill="#444" opacity="0.6"/>
<circle cx="72.52" cy="174.28" r="0.3" fill="#444" opacity="0.6"/>
<circle cx="64.73" cy="175.47" r="0.3" fill="#444" opacity="0.6"/>
<circle cx="64.53" cy="173.86" r="0.3" fill="#444" opacity="0.6"/>
<circle cx="59.69" cy="168.62" r="0.3" fill="#444" opacity="0.6"/>
<circle cx="56.92" cy="183.15" r="0.3" fill="#444" opacity="0.6"/>
<circle cx="67.53" cy="175.22" r="0.3" fill="#444" opacity="0.6"/>
<circle cx="60.77" cy="175.21" r="0.3" fill="#444" opacity="0.6"/>
<circle cx="65.88" cy="171.67" r="0.3" fill="#444" opacity="0.6"/>
<circle cx="64.47" cy="176.10" r="0.3" fill="#444" opacity="0.6"/>
<circle cx="55.96" cy="170.96" r="0.3" fill="#444" opacity="0.6"/>
<circle cx="53.71" cy="169.58" r="0.3" fill="#444" opacity="0.6"/>
<circle cx="70.71" cy="163.10" r="0.3" fill="#444" opacity="0.6"/>
<circle cx="60.30" cy="171.84" r="0.3" fill="#444" opacity="0.6"/>
<circle cx="57.12" cy="175.39" r="0.3" fill="#444" opacity="0.6"/>
<circle cx="72.85" cy="175.28" r="0.3" fill="#444" opacity="0.6"/>
<circle cx="61.44" cy="171.84" r="0.3" fill="#444" opacity="0.6"/>
<circle cx="61.54" cy="179.46" r="0.3" fill="#444" opacity="0.6"/>
<circle cx="59.15" cy="169.17" r="0.3" fill="#444" opacity="0.6"/>
<circle cx="51.32" cy="169.37" r="0.3" fill="#444" opacity="0.6"/>
<circle cx="50.19" cy="180.40" r="0.3" fill="#444" opacity="0.6"/>
<circle cx="65.90" cy="173.71" r="0.3" fill="#444" opacity="0.6"/>
<circle cx="75.84" cy="171.61" r="0.3" fill="#444" opacity="0.6"/>
<circle cx="69.48" cy="178.90" r="0.3" fill="#444" opacity="0.6"/>
<circle cx="48.78" cy="167.12" r="0.3" fill="#444" opacity="0.6"/>
<circle cx="54.35" cy="179.43" r="0.3" fill="#444" opacity="0.6"/>
<circle cx="74.36" cy="168.76" r="0.3" fill="#444" opacity="0.6"/>
<circle cx="72.14" cy="172.98" r="0.3" fill="#444" opacity="0.6"/>
<circle cx="59.16" cy="172.14" r="0.3" fill="#444" opacity="0.6"/>
<circle cx="59.78" cy="165.81" r="0.3" fill="#444" opacity="0.6"/>
<circle cx="53.69" cy="168.72" r="0.3" fill="#444" opacity="0.6"/>
<circle cx="47.21" cy="172.86" r="0.3" fill="#444" opacity="0.6"/>
<circle cx="67.84" cy="171.26" r="0.3" fill="#444" opacity="0.6"/>
<circle cx="71.12" cy="177.58" r="0.3" fill="#444" opacity="0.6"/>
<circle cx="48.07" cy="172.24" r="0.3" fill="#444" opacity="0.6"/>
<circle cx="60.55" cy="174.99" r="0.3" fill="#444" opacity="0.6"/>
<circle cx="63.89" cy="173.20" r="0.3" fill="#444" opacity="0.6"/>
<circle cx="64.41" cy="171.97" r="0.3" fill="#444" opacity="0.6"/>
<circle cx="54.63" cy="182.48" r="0.3" fill="#444" opacity="0.6"/>
<circle cx="65.94" cy="177.09" r="0.3" fill="#444" opacity="0.6"/>
<circle cx="48.35" cy="174.07" r="0.3" fill="#444" opacity="0.6"/>
<circle cx="70.07" cy="168.44" r="0.3" fill="#444" opacity="0.6"/>
<circle cx="72.58" cy="172.95" r="0.3" fill="#444" opacity="0.6"/>
<circle cx="66.32" cy="174.23" r="0.3" fill="#444" opacity="0.6"/>
<circle cx="64.67" cy="180.92" r="0.3" fill="#444" opacity="0.6"/>
<circle cx="59.07" cy="182.72" r="0.3" fill="#444" opacity="0.6"/>
<circle cx="55.66" cy="170.24" r="0.3" fill="#444" opacity="0.6"/>
<circle cx="69.10" cy="169.57" r="0.3" fill="#444" opacity="0.6"/>
<circle cx="59.37" cy="179.44" r="0.3" fill="#444" opacity="0.6"/>
<circle cx="73.59" cy="166.03" r="0.3" fill="#444" opacity="0.6"/>
<circle cx="73.45" cy="173.70" r="0.3" fill="#444" opacity="0.6"/>
<circle cx="57.29" cy="173.42" r="0.3" fill="#444" opacity="0.6"/>
<circle cx="52.32" cy="173.58" r="0.3" fill="#444" opacity="0.6"/>
<circle cx="61.01" cy="174.17" r="0.3" fill="#444" opacity="0.6"/>
<circle cx="73.34" cy="173.75" r="0.3" fill="#444" opacity="0.6"/>
<circle cx="49.58" cy="180.15" r="0.3" fill="#444" opacity="0.6"/>
<circle cx="53.05" cy="172.66" r="0.3" fill="#444" opacity="0.6"/>
<circle cx="61.50" cy="173.18" r="0.3" fill="#444" opacity="0.6"/>
<circle cx="53.67" cy="173.66" r="0.3" fill="#444" opacity="0.6"/>
<circle cx="61.47" cy="180.52" r="0.3" fill="#444" opacity="0.6"/>
<circle cx="69.40" cy="178.72" r="0.3" fill="#444" opacity="0.6"/>
<circle cx="70.46" cy="165.06" r="0.3" fill="#444" opacity="0.6"/>
<circle cx="54.92" cy="175.54" r="0.3" fill="#444" opacity="0.6"/>
<circle cx="67.19" cy="181.37" r="0.3" fill="#444" opacity="0.6"/>
<circle cx="66.93" cy="173.71" r="0.3" fill="#444" opacity="0.6"/>
<circle cx="63.05" cy="173.84" r="0.3" fill="#444" opacity="0.6"/>
<circle cx="64.92" cy="178.27" r="0.3" fill="#444" opacity="0.6"/>
<circle cx="59.64" cy="170.83" r="0.3" fill="#444" opacity="0.6"/>
<circle cx="55.01" cy="180.38" r="0.3" fill="#444" opacity="0.6"/>
<circle cx="74.23" cy="179.86" r="0.3" fill="#444" opacity="0.6"/>
<circle cx="70.41" cy="179.07" r="0.3" fill="#444" opacity="0.6"/>
<circle cx="62.68" cy="178.22" r="0.3" fill="#444" opacity="0.6"/>
<circle cx="53.23" cy="173.88" r="0.3" fill="#444" opacity="0.6"/>
<circle cx="56.10" cy="178.53" r="0.3" fill="#444" opacity="0.6"/>
<circle cx="57.48" cy="174.36" r="0.3" fill="#444" opacity="0.6"/>
<circle cx="66.30" cy="181.67" r="0.3" fill="#444" opacity="0.6"/>
<circle cx="55.57" cy="170.21" r="0.3" fill="#444" opacity="0.6"/>
<circle cx="70.06" cy="169.37" r="0.3" fill="#444" opacity="0.6"/>
<circle cx="66.77" cy="172.05" r="0.3" fill="#444" opacity="0.6"/>
<circle cx="61.75" cy="165.80" r="0.3" fill="#444" opacity="0.6"/>
<circle cx="69.12" cy="172.40" r="0.3" fill="#444" opacity="0.6"/>
<circle cx="66.37" cy="173.16" r="0.3" fill="#444" opacity="0.6"/>
<circle cx="63.67" cy="182.93" r="0.3" fill="#444" opacity="0.6"/>
<circle cx="62.46" cy="177.15" r="0.3" fill="#444" opacity="0.6"/>
<circle cx="67.35" cy="170.35" r="0.3" fill="#444" opacity="0.6"/>
<circle cx="63.86" cy="172.39" r="0.3" fill="#444" opacity="0.6"/>
<circle cx="51.49" cy="179.26" r="0.3" fill="#444" opacity="0.6"/>
<circle cx="68.69" cy="175.27" r="0.3" fill="#444" opacity="0.6"/>
<circle cx="54.53" cy="164.87" r="0.3" fill="#444" opacity="0.6"/>
<circle cx="67.07" cy="174.41" r="0.3" fill="#444" opacity="0.6"/>
<circle cx="47.55" cy="174.60" r="0.3" fill="#444" opacity="0.6"/>
<circle cx="49.01" cy="174.77" r="0.3" fill="#444" opacity="0.6"/>
<circle cx="63.99" cy="176.67" r="0.3" fill="#444" opacity="0.6"/>
<circle cx="64.65" cy="175.75" r="0.3" fill="#444" opacity="0.6"/>
<circle cx="52.44" cy="172.98" r="0.3" fill="#444" opacity="0.6"/>
<circle cx="58.10" cy="173.72" r="0.3" fill="#444" opacity="0.6"/>
<circle cx="65.13" cy="178.00" r="0.3" fill="#444" opacity="0.6"/>
<circle cx="77.42" cy="162.06" r="0.3" fill="#444" opacity="0.6"/>
<circle cx="66.31" cy="173.91" r="0.3" fill="#444" opacity="0.6"/>
<circle cx="47.82" cy="176.91" r="0.3" fill="#444" opacity="0.6"/>
<circle cx="58.01" cy="179.87" r="0.3" fill="#444" opacity="0.6"/>
<circle cx="53.20" cy="174.39" r="0.3" fill="#444" opacity="0.6"/>
<circle cx="61.52" cy="174.42" r="0.3" fill="#444" opacity="0.6"/>
<circle cx="57.44" cy="165.71" r="0.3" fill="#444" opacity="0.6"/>
<circle cx="66.84" cy="179.90" r="0.3" fill="#444" opacity="0.6"/>
<circle cx="62.09" cy="169.81" r="0.3" fill="#444" opacity="0.6"/>
<circle cx="64.53" cy="177.73" r="0.3" fill="#444" opacity="0.6"/>
<circle cx="61.12" cy="174.83" r="0.3" fill="#444" opacity="0.6"/>
<circle cx="75.38" cy="169.31" r="0.3" fill="#444" opacity="0.6"/>
<circle cx="57.68" cy="165.37" r="0.3" fill="#444" opacity="0.6"/>
<circle cx="56.40" cy="171.20" r="0.3" fill="#444" opacity="0.6"/>
<circle cx="54.06" cy="171.43" r="0.3" fill="#444" opacity="0.6"/>
<circle cx="62.15" cy="166.23" r="0.3" fill="#444" opacity="0.6"/>
<circle cx="66.33" cy="170.21" r="0.3" fill="#444" opacity="0.6"/>
<circle cx="77.45" cy="168.67" r="0.3" fill="#444" opacity="0.6"/>
<circle cx="57.48" cy="166.87" r="0.3" fill="#444" opacity="0.6"/>
<circle cx="63.58" cy="169.82" r="0.3" fill="#444" opacity="0.6"/>
<circle cx="62.11" cy="173.02" r="0.3" fill="#444" opacity="0.6"/>
<circle cx="57.18" cy="179.62" r="0.3" fill="#444" opacity="0.6"/>
<circle cx="71.12" cy="175.21" r="0.3" fill="#444" opacity="0.6"/>
<circle cx="54.60" cy="169.55" r="0.3" fill="#444" opacity="0.6"/>
<circle cx="58.59" cy="170.98" r="0.3" fill="#444" opacity="0.6"/>
<circle cx="56.42" cy="169.42" r="0.3" fill="#444" opacity="0.6"/>
<circle cx="53.95" cy="173.87" r="0.3" fill="#444" opacity="0.6"/>
<circle cx="75.60" cy="174.89" r="0.3" fill="#444" opacity="0.6"/>
<circle cx="58.10" cy="166.83" r="0.3" fill="#444" opacity="0.6"/>
<circle cx="64.62" cy="174.77" r="0.3" fill="#444" opacity="0.6"/>
<circle cx="51.66" cy="169.47" r="0.3" fill="#444" opacity="0.6"/>
<circle cx="62.32" cy="179.96" r="0.3" fill="#444" opacity="0.6"/>
<circle cx="68.34" cy="175.93" r="0.3" fill="#444" opacity="0.6"/>
<circle cx="59.79" cy="176.50" r="0.3" fill="#444" opacity="0.6"/>
<circle cx="52.51" cy="173.06" r="0.3" fill="#444" opacity="0.6"/>
<circle cx="74.11" cy="173.57" r="0.3" fill="#444" opacity="0.6"/>
<circle cx="75.52" cy="174.68" r="0.3" fill="#444" opacity="0.6"/>
<circle cx="64.01" cy="173.05" r="0.3" fill="#444" opacity="0.6"/>
<circle cx="50.28" cy="170.05" r="0.3" fill="#444" opacity="0.6"/>
<circle cx="68.15" cy="179.67" r="0.3" fill="#444" opacity="0.6"/>
<circle cx="67.82" cy="180.01" r="0.3" fill="#444" opacity="0.6"/>
<circle cx="60.31" cy="173.78" r="0.3" fill="#444" opacity="0.6"/>
<circle cx="71.55" cy="173.14" r="0.3" fill="#444" opacity="0.6"/>
<circle cx="50.72" cy="173.77" r="0.3" fill="#444" opacity="0.6"/>
<circle cx="57.80" cy="177.97" r="0.3" fill="#444" opacity="0.6"/>
<circle cx="56.22" cy="169.59" r="0.3" fill="#444" opacity="0.6"/>
<circle cx="59.71" cy="182.66" r="0.3" fill="#444" opacity="0.6"/>
<circle cx="62.27" cy="175.71" r="0.3" fill="#444" opacity="0.6"/>
<circle cx="62.78" cy="176.38" r="0.3" fill="#444" opacity="0.6"/>
<circle cx="71.06" cy="181.88" r="0.3" fill="#444" opacity="0.6"/>
<circle cx="47.90" cy="181.71" r="0.3" fill="#444" opacity="0.6"/>
<circle cx="62.67" cy="173.30" r="0.3" fill="#444" opacity="0.6"/>
<circle cx="53.43" cy="177.34" r="0.3" fill="#444" opacity="0.6"/>
<circle cx="69.33" cy="174.27" r="0.3" fill="#444" opacity="0.6"/>
<circle cx="41.75" cy="173.18" r="0.3" fill="#444" opacity="0.6"/>
<circle cx="60.98" cy="169.36" r="0.3" fill="#444" opacity="0.6"/>
<circle cx="59.16" cy="173.40" r="0.3" fill="#444" opacity="0.6"/>
<circle cx="55.65" cy="171.02" r="0.3" fill="#444" opacity="0.6"/>
<circle cx="63.54" cy="176.47" r="0.3" fill="#444" opacity="0.6"/>
<circle cx="58.13" cy="174.45" r="0.3" fill="#444" opacity="0.6"/>
<circle cx="50.19" cy="177.51" r="0.3" fill="#444" opacity="0.6"/>
<circle cx="55.95" cy="175.97" r="0.3" fill="#444" opacity="0.6"/>
<circle cx="54.54" cy="172.32" r="0.3" fill="#444" opacity="0.6"/>
<circle cx="64.64" cy="168.84" r="0.3" fill="#444" opacity="0.6"/>
<circle cx="62.05" cy="171.23" r="0.3" fill="#444" opacity="0.6"/>
<circle cx="77.05" cy="181.83" r="0.3" fill="#444" opacity="0.6"/>
<circle cx="65.40" cy="168.06" r="0.3" fill="#444" opacity="0.6"/>
<circle cx="58.16" cy="177.98" r="0.3" fill="#444" opacity="0.6"/>
<circle cx="58.09" cy="168.98" r="0.3" fill="#444" opacity="0.6"/>
<circle cx="52.01" cy="171.04" r="0.3" fill="#444" opacity="0.6"/>
<circle cx="62.82" cy="171.66" r="0.3" fill="#444" opacity="0.6"/>
<circle cx="65.79" cy="175.34" r="0.3" fill="#444" opacity="0.6"/>
<circle cx="61.46" cy="180.12" r="0.3" fill="#444" opacity="0.6"/>
<circle cx="59.71" cy="173.27" r="0.3" fill="#444" opacity="0.6"/>
<circle cx="59.33" cy="174.40" r="0.3" fill="#444" opacity="0.6"/>
<circle cx="74.27" cy="178.78" r="0.3" fill="#444" opacity="0.6"/>
<circle cx="50.63" cy="172.69" r="0.3" fill="#444" opacity="0.6"/>
<circle cx="55.52" cy="178.98" r="0.3" fill="#444" opacity="0.6"/>
<circle cx="64.72" cy="179.35" r="0.3" fill="#444" opacity="0.6"/>
<circle cx="62.14" cy="165.36" r="0.3" fill="#444" opacity="0.6"/>
<circle cx="66.76" cy="176.04" r="0.3" fill="#444" opacity="0.6"/>
<circle cx="67.27" cy="168.39" r="0.3" fill="#444" opacity="0.6"/>
<circle cx="63.43" cy="171.46" r="0.3" fill="#444" opacity="0.6"/>
<circle cx="56.52" cy="176.67" r="0.3" fill="#444" opacity="0.6"/>
<circle cx="65.87" cy="170.44" r="0.3" fill="#444" opacity="0.6"/>
<circle cx="47.29" cy="162.53" r="0.3" fill="#444" opacity="0.6"/>
<circle cx="57.52" cy="180.51" r="0.3" fill="#444" opacity="0.6"/>
<circle cx="62.20" cy="163.64" r="0.3" fill="#444" opacity="0.6"/>
<circle cx="54.94" cy="177.01" r="0.3" fill="#444" opacity="0.6"/>
<circle cx="66.00" cy="175.89" r="0.3" fill="#444" opacity="0.6"/>
<circle cx="53.17" cy="172.64" r="0.3" fill="#444" opacity="0.6"/>
<circle cx="59.70" cy="171.03" r="0.3" fill="#444" opacity="0.6"/>
<circle cx="63.27" cy="172.94" r="0.3" fill="#444" opacity="0.6"/>
<circle cx="65.73" cy="182.07" r="0.3" fill="#444" opacity="0.6"/>
<circle cx="69.37" cy="176.99" r="0.3" fill="#444" opacity="0.6"/>
<circle cx="60.53" cy="167.30" r="0.3" fill="#444" opacity="0.6"/>
<circle cx="61.67" cy="177.62" r="0.3" fill="#444" opacity="0.6"/>
<circle cx="53.62" cy="181.17" r="0.3" fill="#444" opacity="0.6"/>
<circle cx="59.70" cy="176.76" r="0.3" fill="#444" opacity="0.6"/>
<circle cx="59.74" cy="168.62" r="0.3" fill="#444" opacity="0.6"/>
<circle cx="70.97" cy="172.12" r="0.3" fill="#444" opacity="0.6"/>
<circle cx="65.21" cy="170.87" r="0.3" fill="#444" opacity="0.6"/>
<circle cx="58.95" cy="179.50" r="0.3" fill="#444" opacity="0.6"/>
<circle cx="62.79" cy="179.64" r="0.3" fill="#444" opacity="0.6"/>
<circle cx="57.02" cy="178.45" r="0.3" fill="#444" opacity="0.6"/>
<circle cx="55.64" cy="177.92" r="0.3" fill="#444" opacity="0.6"/>
<circle cx="66.63" cy="180.96" r="0.3" fill="#444" opacity="0.6"/>
<circle cx="65.97" cy="168.93" r="0.3" fill="#444" opacity="0.6"/>
<circle cx="68.68" cy="169.39" r="0.3" fill="#444" opacity="0.6"/>
<circle cx="69.46" cy="182.45" r="0.3" fill="#444" opacity="0.6"/>
<circle cx="68.06" cy="172.13" r="0.3" fill="#444" opacity="0.6"/>
<circle cx="73.43" cy="175.74" r="0.3" fill="#444" opacity="0.6"/>
<circle cx="49.49" cy="165.13" r="0.3" fill="#555" opacity="0.55"/>
<circle cx="73.47" cy="165.38" r="0.3" fill="#555" opacity="0.55"/>
<circle cx="61.80" cy="165.19" r="0.3" fill="#555" opacity="0.55"/>
<circle cx="45.53" cy="164.35" r="0.3" fill="#555" opacity="0.55"/>
<circle cx="63.91" cy="167.94" r="0.3" fill="#555" opacity="0.55"/>
<circle cx="59.13" cy="156.23" r="0.3" fill="#555" opacity="0.55"/>
<circle cx="71.70" cy="170.50" r="0.3" fill="#555" opacity="0.55"/>
<circle cx="69.91" cy="173.40" r="0.3" fill="#555" opacity="0.55"/>
<circle cx="56.70" cy="163.88" r="0.3" fill="#555" opacity="0.55"/>
<circle cx="63.53" cy="175.27" r="0.3" fill="#555" opacity="0.55"/>
<circle cx="45.53" cy="165.75" r="0.3" fill="#555" opacity="0.55"/>
<circle cx="54.26" cy="169.70" r="0.3" fill="#555" opacity="0.55"/>
<circle cx="73.88" cy="165.42" r="0.3" fill="#555" opacity="0.55"/>
<circle cx="49.53" cy="167.15" r="0.3" fill="#555" opacity="0.55"/>
<circle cx="58.13" cy="159.18" r="0.3" fill="#555" opacity="0.55"/>
<circle cx="68.66" cy="164.28" r="0.3" fill="#555" opacity="0.55"/>
<circle cx="66.85" cy="160.32" r="0.3" fill="#555" opacity="0.55"/>
<circle cx="70.57" cy="159.69" r="0.3" fill="#555" opacity="0.55"/>
<circle cx="70.18" cy="157.84" r="0.3" fill="#555" opacity="0.55"/>
<circle cx="73.12" cy="165.03" r="0.3" fill="#555" opacity="0.55"/>
<circle cx="46.70" cy="165.73" r="0.3" fill="#555" opacity="0.55"/>
<circle cx="63.74" cy="161.95" r="0.3" fill="#555" opacity="0.55"/>
<circle cx="56.26" cy="168.25" r="0.3" fill="#555" opacity="0.55"/>
<circle cx="59.18" cy="151.57" r="0.3" fill="#555" opacity="0.55"/>
<circle cx="56.83" cy="169.03" r="0.3" fill="#555" opacity="0.55"/>
<circle cx="63.38" cy="171.94" r="0.3" fill="#555" opacity="0.55"/>
<circle cx="54.49" cy="179.67" r="0.3" fill="#555" opacity="0.55"/>
<circle cx="67.90" cy="168.46" r="0.3" fill="#555" opacity="0.55"/>
<circle cx="70.47" cy="171.67" r="0.3" fill="#555" opacity="0.55"/>
<circle cx="61.62" cy="163.80" r="0.3" fill="#555" opacity="0.55"/>
<circle cx="69.92" cy="169.02" r="0.3" fill="#555" opacity="0.55"/>
<circle cx="43.67" cy="161.38" r="0.3" fill="#555" opacity="0.55"/>
<circle cx="64.90" cy="167.44" r="0.3" fill="#555" opacity="0.55"/>
<circle cx="63.22" cy="170.11" r="0.3" fill="#555" opacity="0.55"/>
<circle cx="62.01" cy="174.81" r="0.3" fill="#555" opacity="0.55"/>
<circle cx="55.39" cy="164.90" r="0.3" fill="#555" opacity="0.55"/>
<circle cx="63.60" cy="170.63" r="0.3" fill="#555" opacity="0.55"/>
<circle cx="67.79" cy="174.34" r="0.3" fill="#555" opacity="0.55"/>
<circle cx="56.41" cy="172.73" r="0.3" fill="#555" opacity="0.55"/>
<circle cx="64.91" cy="161.69" r="0.3" fill="#555" opacity="0.55"/>
<circle cx="59.46" cy="177.33" r="0.3" fill="#555" opacity="0.55"/>
<circle cx="67.77" cy="164.55" r="0.3" fill="#555" opacity="0.55"/>
<circle cx="39.11" cy="163.22" r="0.3" fill="#555" opacity="0.55"/>
<circle cx="54.38" cy="167.29" r="0.3" fill="#555" opacity="0.55"/>
<circle cx="63.52" cy="162.23" r="0.3" fill="#555" opacity="0.55"/>
<circle cx="50.02" cy="165.86" r="0.3" fill="#555" opacity="0.55"/>
<circle cx="56.49" cy="181.93" r="0.3" fill="#555" opacity="0.55"/>
<circle cx="57.06" cy="163.82" r="0.3" fill="#555" opacity="0.55"/>
<circle cx="70.86" cy="167.29" r="0.3" fill="#555" opacity="0.55"/>
<circle cx="49.59" cy="173.35" r="0.3" fill="#555" opacity="0.55"/>
<circle cx="57.89" cy="160.26" r="0.3" fill="#555" opacity="0.55"/>
<circle cx="63.59" cy="169.34" r="0.3" fill="#555" opacity="0.55"/>
<circle cx="57.66" cy="170.39" r="0.3" fill="#555" opacity="0.55"/>
<circle cx="68.09" cy="162.49" r="0.3" fill="#555" opacity="0.55"/>
<circle cx="42.18" cy="154.94" r="0.3" fill="#555" opacity="0.55"/>
<circle cx="59.55" cy="173.05" r="0.3" fill="#555" opacity="0.55"/>
<circle cx="69.72" cy="173.86" r="0.3" fill="#555" opacity="0.55"/>
<circle cx="77.41" cy="166.98" r="0.3" fill="#555" opacity="0.55"/>
<circle cx="70.20" cy="159.25" r="0.3" fill="#555" opacity="0.55"/>
<circle cx="66.90" cy="168.86" r="0.3" fill="#555" opacity="0.55"/>
<circle cx="59.85" cy="164.69" r="0.3" fill="#555" opacity="0.55"/>
<circle cx="50.66" cy="167.60" r="0.3" fill="#555" opacity="0.55"/>
<circle cx="72.20" cy="165.07" r="0.3" fill="#555" opacity="0.55"/>
<circle cx="65.48" cy="163.58" r="0.3" fill="#555" opacity="0.55"/>
<circle cx="62.99" cy="161.86" r="0.3" fill="#555" opacity="0.55"/>
<circle cx="64.10" cy="165.81" r="0.3" fill="#555" opacity="0.55"/>
<circle cx="63.54" cy="163.87" r="0.3" fill="#555" opacity="0.55"/>
<circle cx="50.11" cy="165.26" r="0.3" fill="#555" opacity="0.55"/>
<circle cx="70.03" cy="174.80" r="0.3" fill="#555" opacity="0.55"/>
<circle cx="57.78" cy="170.90" r="0.3" fill="#555" opacity="0.55"/>
<circle cx="67.53" cy="168.86" r="0.3" fill="#555" opacity="0.55"/>
<circle cx="46.74" cy="168.52" r="0.3" fill="#555" opacity="0.55"/>
<circle cx="51.97" cy="172.78" r="0.3" fill="#555" opacity="0.55"/>
<circle cx="67.79" cy="169.99" r="0.3" fill="#555" opacity="0.55"/>
<circle cx="37.88" cy="170.01" r="0.3" fill="#555" opacity="0.55"/>
<circle cx="67.00" cy="160.51" r="0.3" fill="#555" opacity="0.55"/>
<circle cx="69.43" cy="167.28" r="0.3" fill="#555" opacity="0.55"/>
<circle cx="59.05" cy="163.33" r="0.3" fill="#555" opacity="0.55"/>
<circle cx="51.54" cy="164.73" r="0.3" fill="#555" opacity="0.55"/>
<circle cx="62.57" cy="163.66" r="0.3" fill="#555" opacity="0.55"/>
<circle cx="55.14" cy="164.14" r="0.3" fill="#555" opacity="0.55"/>
<circle cx="52.72" cy="171.28" r="0.3" fill="#555" opacity="0.55"/>
<circle cx="58.26" cy="171.23" r="0.3" fill="#555" opacity="0.55"/>
<circle cx="50.30" cy="171.55" r="0.3" fill="#555" opacity="0.55"/>
<circle cx="60.46" cy="170.24" r="0.3" fill="#555" opacity="0.55"/>
<circle cx="59.76" cy="162.46" r="0.3" fill="#555" opacity="0.55"/>
<circle cx="71.59" cy="164.72" r="0.3" fill="#555" opacity="0.55"/>
<circle cx="59.38" cy="162.47" r="0.3" fill="#555" opacity="0.55"/>
<circle cx="62.54" cy="164.95" r="0.3" fill="#555" opacity="0.55"/>
<circle cx="63.24" cy="168.62" r="0.3" fill="#555" opacity="0.55"/>
<circle cx="54.50" cy="159.85" r="0.3" fill="#555" opacity="0.55"/>
<circle cx="64.59" cy="171.49" r="0.3" fill="#555" opacity="0.55"/>
<circle cx="66.97" cy="161.17" r="0.3" fill="#555" opacity="0.55"/>
<circle cx="66.15" cy="168.82" r="0.3" fill="#555" opacity="0.55"/>
<circle cx="63.25" cy="169.05" r="0.3" fill="#555" opacity="0.55"/>
<circle cx="57.79" cy="167.97" r="0.3" fill="#555" opacity="0.55"/>
<circle cx="69.04" cy="164.38" r="0.3" fill="#555" opacity="0.55"/>
<circle cx="47.74" cy="166.38" r="0.3" fill="#555" opacity="0.55"/>
<circle cx="62.47" cy="157.68" r="0.3" fill="#555" opacity="0.55"/>
<circle cx="54.61" cy="169.85" r="0.3" fill="#555" opacity="0.55"/>
<circle cx="59.35" cy="167.36" r="0.3" fill="#555" opacity="0.55"/>
<circle cx="49.37" cy="171.43" r="0.3" fill="#555" opacity="0.55"/>
<circle cx="76.49" cy="165.90" r="0.3" fill="#555" opacity="0.55"/>
<circle cx="54.11" cy="161.11" r="0.3" fill="#555" opacity="0.55"/>
<circle cx="68.72" cy="167.42" r="0.3" fill="#555" opacity="0.55"/>
<circle cx="53.55" cy="172.97" r="0.3" fill="#555" opacity="0.55"/>
<circle cx="67.58" cy="169.92" r="0.3" fill="#555" opacity="0.55"/>
<circle cx="44.86" cy="166.38" r="0.3" fill="#555" opacity="0.55"/>
<circle cx="64.45" cy="147.21" r="0.28" fill="#777" opacity="0.55"/>
<circle cx="66.27" cy="156.51" r="0.28" fill="#777" opacity="0.55"/>
<circle cx="66.90" cy="148.97" r="0.28" fill="#777" opacity="0.55"/>
<circle cx="56.45" cy="154.80" r="0.28" fill="#777" opacity="0.55"/>
<circle cx="66.67" cy="155.80" r="0.28" fill="#777" opacity="0.55"/>
<circle cx="67.90" cy="151.15" r="0.28" fill="#777" opacity="0.55"/>
<circle cx="58.24" cy="145.01" r="0.28" fill="#777" opacity="0.55"/>
<circle cx="65.40" cy="159.47" r="0.28" fill="#777" opacity="0.55"/>
<circle cx="57.92" cy="149.83" r="0.28" fill="#777" opacity="0.55"/>
<circle cx="64.59" cy="152.81" r="0.28" fill="#777" opacity="0.55"/>
<circle cx="52.48" cy="149.00" r="0.28" fill="#777" opacity="0.55"/>
<circle cx="54.11" cy="158.58" r="0.28" fill="#777" opacity="0.55"/>
<circle cx="56.40" cy="154.49" r="0.28" fill="#777" opacity="0.55"/>
<circle cx="72.21" cy="158.13" r="0.28" fill="#777" opacity="0.55"/>
<circle cx="69.25" cy="157.20" r="0.28" fill="#777" opacity="0.55"/>
<circle cx="53.29" cy="150.29" r="0.28" fill="#777" opacity="0.55"/>
<circle cx="56.33" cy="150.48" r="0.28" fill="#777" opacity="0.55"/>
<circle cx="76.43" cy="145.62" r="0.28" fill="#777" opacity="0.55"/>
<circle cx="64.05" cy="147.17" r="0.28" fill="#777" opacity="0.55"/>
<circle cx="68.73" cy="156.05" r="0.28" fill="#777" opacity="0.55"/>
<circle cx="57.63" cy="158.74" r="0.28" fill="#777" opacity="0.55"/>
<circle cx="61.15" cy="156.06" r="0.28" fill="#777" opacity="0.55"/>
<circle cx="62.57" cy="149.54" r="0.28" fill="#777" opacity="0.55"/>
<circle cx="58.42" cy="151.09" r="0.28" fill="#777" opacity="0.55"/>
<circle cx="64.40" cy="151.94" r="0.28" fill="#777" opacity="0.55"/>
<circle cx="74.86" cy="150.82" r="0.28" fill="#777" opacity="0.55"/>
<circle cx="57.90" cy="148.98" r="0.28" fill="#777" opacity="0.55"/>
<circle cx="56.04" cy="146.46" r="0.28" fill="#777" opacity="0.55"/>
<circle cx="54.79" cy="154.67" r="0.28" fill="#777" opacity="0.55"/>
<circle cx="61.06" cy="150.90" r="0.28" fill="#777" opacity="0.55"/>
<circle cx="62.80" cy="155.24" r="0.28" fill="#777" opacity="0.55"/>
<circle cx="64.39" cy="154.21" r="0.28" fill="#777" opacity="0.55"/>
<circle cx="57.34" cy="150.59" r="0.28" fill="#777" opacity="0.55"/>
<circle cx="56.04" cy="151.16" r="0.28" fill="#777" opacity="0.55"/>
<circle cx="55.79" cy="150.20" r="0.28" fill="#777" opacity="0.55"/>
<circle cx="59.65" cy="150.74" r="0.28" fill="#777" opacity="0.55"/>
<circle cx="59.10" cy="149.78" r="0.28" fill="#777" opacity="0.55"/>
<circle cx="68.56" cy="150.30" r="0.28" fill="#777" opacity="0.55"/>
<circle cx="54.63" cy="152.18" r="0.28" fill="#777" opacity="0.55"/>
<circle cx="54.16" cy="147.74" r="0.28" fill="#777" opacity="0.55"/>
<circle cx="61.21" cy="145.67" r="0.28" fill="#777" opacity="0.55"/>
<circle cx="41.38" cy="152.51" r="0.28" fill="#777" opacity="0.55"/>
<circle cx="66.91" cy="145.65" r="0.28" fill="#777" opacity="0.55"/>
<circle cx="55.32" cy="153.52" r="0.28" fill="#777" opacity="0.55"/>
<circle cx="48.78" cy="148.44" r="0.28" fill="#777" opacity="0.55"/>
<circle cx="53.48" cy="150.81" r="0.28" fill="#777" opacity="0.55"/>
<circle cx="48.86" cy="154.63" r="0.28" fill="#777" opacity="0.55"/>
<circle cx="59.84" cy="152.56" r="0.28" fill="#777" opacity="0.55"/>
<circle cx="58.73" cy="144.08" r="0.28" fill="#777" opacity="0.55"/>
<circle cx="59.79" cy="146.81" r="0.28" fill="#777" opacity="0.55"/>
<circle cx="60.76" cy="148.52" r="0.28" fill="#777" opacity="0.55"/>
<circle cx="58.80" cy="150.76" r="0.28" fill="#777" opacity="0.55"/>
<circle cx="65.33" cy="154.18" r="0.28" fill="#777" opacity="0.55"/>
<circle cx="54.67" cy="151.44" r="0.28" fill="#777" opacity="0.55"/>
<circle cx="69.46" cy="153.23" r="0.28" fill="#777" opacity="0.55"/>
<circle cx="56.32" cy="151.08" r="0.28" fill="#777" opacity="0.55"/>
<circle cx="58.61" cy="154.79" r="0.28" fill="#777" opacity="0.55"/>
<circle cx="60.90" cy="152.81" r="0.28" fill="#777" opacity="0.55"/>
<circle cx="73.97" cy="146.68" r="0.28" fill="#777" opacity="0.55"/>
<circle cx="54.62" cy="145.44" r="0.28" fill="#777" opacity="0.55"/>
<circle cx="51.14" cy="154.50" r="0.28" fill="#777" opacity="0.55"/>
<circle cx="62.45" cy="157.21" r="0.28" fill="#777" opacity="0.55"/>
<circle cx="48.85" cy="148.42" r="0.28" fill="#777" opacity="0.55"/>
<circle cx="69.36" cy="155.10" r="0.28" fill="#777" opacity="0.55"/>
<circle cx="66.01" cy="154.55" r="0.28" fill="#777" opacity="0.55"/>
<circle cx="60.89" cy="151.46" r="0.28" fill="#777" opacity="0.55"/>
<circle cx="60.89" cy="154.45" r="0.28" fill="#777" opacity="0.55"/>
<circle cx="59.72" cy="152.62" r="0.28" fill="#777" opacity="0.55"/>
<circle cx="69.42" cy="147.56" r="0.28" fill="#777" opacity="0.55"/>
<circle cx="56.20" cy="153.48" r="0.28" fill="#777" opacity="0.55"/>
<circle cx="59.12" cy="150.95" r="0.28" fill="#777" opacity="0.55"/>
<circle cx="73.29" cy="152.96" r="0.28" fill="#777" opacity="0.55"/>
<circle cx="58.19" cy="155.34" r="0.28" fill="#777" opacity="0.55"/>
<circle cx="75.81" cy="147.62" r="0.28" fill="#777" opacity="0.55"/>
<circle cx="56.68" cy="151.91" r="0.28" fill="#777" opacity="0.55"/>
<circle cx="56.88" cy="159.10" r="0.28" fill="#777" opacity="0.55"/>
<circle cx="63.85" cy="150.11" r="0.28" fill="#777" opacity="0.55"/>
<circle cx="63.64" cy="148.71" r="0.28" fill="#777" opacity="0.55"/>
<circle cx="57.07" cy="151.87" r="0.28" fill="#777" opacity="0.55"/>
<circle cx="75.03" cy="143.62" r="0.28" fill="#777" opacity="0.55"/>
<circle cx="63.22" cy="156.23" r="0.28" fill="#777" opacity="0.55"/>
<circle cx="65.14" cy="158.23" r="0.28" fill="#777" opacity="0.55"/>
<circle cx="63.40" cy="152.01" r="0.28" fill="#777" opacity="0.55"/>
<circle cx="59.91" cy="148.50" r="0.28" fill="#777" opacity="0.55"/>
<circle cx="70.51" cy="147.36" r="0.28" fill="#777" opacity="0.55"/>
<circle cx="59.96" cy="149.67" r="0.28" fill="#777" opacity="0.55"/>
<circle cx="55.99" cy="143.72" r="0.28" fill="#777" opacity="0.55"/>
<circle cx="58.41" cy="151.98" r="0.28" fill="#777" opacity="0.55"/>
<circle cx="61.56" cy="154.46" r="0.28" fill="#777" opacity="0.55"/>
<circle cx="59.73" cy="149.26" r="0.28" fill="#777" opacity="0.55"/>
<circle cx="62.55" cy="153.83" r="0.28" fill="#777" opacity="0.55"/>
<circle cx="55.28" cy="146.18" r="0.28" fill="#777" opacity="0.55"/>
<circle cx="54.55" cy="155.20" r="0.28" fill="#777" opacity="0.55"/>
<circle cx="66.69" cy="148.40" r="0.28" fill="#777" opacity="0.55"/>
<circle cx="61.37" cy="154.44" r="0.28" fill="#777" opacity="0.55"/>
<circle cx="68.67" cy="149.19" r="0.28" fill="#777" opacity="0.55"/>
<circle cx="59.26" cy="156.43" r="0.28" fill="#777" opacity="0.55"/>
<circle cx="75.17" cy="156.85" r="0.28" fill="#777" opacity="0.55"/>
<circle cx="53.86" cy="153.07" r="0.28" fill="#777" opacity="0.55"/>
<circle cx="58.91" cy="151.29" r="0.28" fill="#777" opacity="0.55"/>
<circle cx="56.72" cy="149.82" r="0.28" fill="#777" opacity="0.55"/>
<circle cx="60.64" cy="157.81" r="0.28" fill="#777" opacity="0.55"/>
<circle cx="64.90" cy="152.99" r="0.28" fill="#777" opacity="0.55"/>
<circle cx="60.86" cy="148.87" r="0.28" fill="#777" opacity="0.55"/>
<circle cx="59.32" cy="155.84" r="0.28" fill="#777" opacity="0.55"/>
<circle cx="65.68" cy="158.37" r="0.28" fill="#777" opacity="0.55"/>
<circle cx="62.26" cy="151.43" r="0.28" fill="#777" opacity="0.55"/>
<circle cx="50.99" cy="152.89" r="0.28" fill="#777" opacity="0.55"/>
<circle cx="50.36" cy="156.84" r="0.28" fill="#777" opacity="0.55"/>
<circle cx="56.92" cy="151.50" r="0.28" fill="#777" opacity="0.55"/>
<circle cx="52.59" cy="149.76" r="0.28" fill="#777" opacity="0.55"/>
<circle cx="55.11" cy="155.46" r="0.28" fill="#777" opacity="0.55"/>
<circle cx="62.19" cy="147.37" r="0.28" fill="#777" opacity="0.55"/>
<circle cx="49.11" cy="151.26" r="0.28" fill="#777" opacity="0.55"/>
<circle cx="57.78" cy="147.61" r="0.28" fill="#777" opacity="0.55"/>
<circle cx="64.24" cy="150.85" r="0.28" fill="#777" opacity="0.55"/>
<circle cx="61.37" cy="149.43" r="0.28" fill="#777" opacity="0.55"/>
<circle cx="57.28" cy="149.89" r="0.28" fill="#777" opacity="0.55"/>
<circle cx="51.08" cy="153.70" r="0.28" fill="#777" opacity="0.55"/>
<circle cx="63.12" cy="145.47" r="0.28" fill="#777" opacity="0.55"/>
<circle cx="61.31" cy="155.54" r="0.28" fill="#777" opacity="0.55"/>
<circle cx="62.12" cy="156.04" r="0.28" fill="#777" opacity="0.55"/>
<circle cx="59.09" cy="151.51" r="0.28" fill="#777" opacity="0.55"/>
<circle cx="52.90" cy="148.33" r="0.28" fill="#777" opacity="0.55"/>
<circle cx="49.76" cy="148.37" r="0.28" fill="#777" opacity="0.55"/>
<circle cx="62.17" cy="153.32" r="0.28" fill="#777" opacity="0.55"/>
<circle cx="67.68" cy="151.96" r="0.28" fill="#777" opacity="0.55"/>
<circle cx="54.76" cy="153.01" r="0.28" fill="#777" opacity="0.55"/>
<circle cx="59.83" cy="157.74" r="0.28" fill="#777" opacity="0.55"/>
<circle cx="72.45" cy="154.86" r="0.28" fill="#777" opacity="0.55"/>
<circle cx="53.88" cy="149.66" r="0.28" fill="#777" opacity="0.55"/>
<circle cx="61.84" cy="149.01" r="0.28" fill="#777" opacity="0.55"/>
<circle cx="63.84" cy="153.90" r="0.28" fill="#777" opacity="0.55"/>
<circle cx="65.73" cy="152.30" r="0.28" fill="#777" opacity="0.55"/>
<circle cx="55.40" cy="148.55" r="0.28" fill="#777" opacity="0.55"/>
<circle cx="59.96" cy="156.15" r="0.28" fill="#777" opacity="0.55"/>
<circle cx="70.15" cy="154.92" r="0.28" fill="#777" opacity="0.55"/>
<circle cx="62.88" cy="153.87" r="0.28" fill="#777" opacity="0.55"/>
<circle cx="65.63" cy="156.02" r="0.28" fill="#777" opacity="0.55"/>
<circle cx="65.83" cy="146.13" r="0.28" fill="#777" opacity="0.55"/>
<circle cx="66.42" cy="152.85" r="0.28" fill="#777" opacity="0.55"/>
<circle cx="57.94" cy="153.34" r="0.28" fill="#777" opacity="0.55"/>
<circle cx="62.43" cy="151.31" r="0.28" fill="#777" opacity="0.55"/>
<circle cx="50.57" cy="151.89" r="0.28" fill="#777" opacity="0.55"/>
<circle cx="64.04" cy="151.33" r="0.28" fill="#777" opacity="0.55"/>
<circle cx="19.46" cy="168.08" r="0.28" fill="#777" opacity="0.55"/>
<circle cx="51.77" cy="165.31" r="0.28" fill="#777" opacity="0.55"/>
<circle cx="47.66" cy="159.98" r="0.28" fill="#777" opacity="0.55"/>
<circle cx="32.49" cy="168.74" r="0.28" fill="#777" opacity="0.55"/>
<circle cx="36.73" cy="165.32" r="0.28" fill="#777" opacity="0.55"/>
<circle cx="43.60" cy="147.28" r="0.28" fill="#777" opacity="0.55"/>
<circle cx="43.05" cy="171.08" r="0.28" fill="#777" opacity="0.55"/>
<circle cx="31.83" cy="161.12" r="0.28" fill="#777" opacity="0.55"/>
<circle cx="33.37" cy="170.34" r="0.28" fill="#777" opacity="0.55"/>
<circle cx="60.80" cy="161.89" r="0.28" fill="#777" opacity="0.55"/>
<circle cx="55.48" cy="166.01" r="0.28" fill="#777" opacity="0.55"/>
<circle cx="38.84" cy="160.69" r="0.28" fill="#777" opacity="0.55"/>
<circle cx="29.78" cy="176.34" r="0.28" fill="#777" opacity="0.55"/>
<circle cx="54.02" cy="153.44" r="0.28" fill="#777" opacity="0.55"/>
<circle cx="53.49" cy="156.20" r="0.28" fill="#777" opacity="0.55"/>
<circle cx="20.63" cy="175.49" r="0.28" fill="#777" opacity="0.55"/>
<circle cx="23.79" cy="175.35" r="0.28" fill="#777" opacity="0.55"/>
<circle cx="44.49" cy="172.52" r="0.28" fill="#777" opacity="0.55"/>
<circle cx="48.86" cy="175.05" r="0.28" fill="#777" opacity="0.55"/>
<circle cx="46.57" cy="169.28" r="0.28" fill="#777" opacity="0.55"/>
<circle cx="45.18" cy="174.45" r="0.28" fill="#777" opacity="0.55"/>
<circle cx="36.22" cy="173.66" r="0.28" fill="#777" opacity="0.55"/>
<circle cx="62.79" cy="162.87" r="0.28" fill="#777" opacity="0.55"/>
<circle cx="47.86" cy="158.36" r="0.28" fill="#777" opacity="0.55"/>
<circle cx="37.66" cy="166.11" r="0.28" fill="#777" opacity="0.55"/>
<circle cx="36.91" cy="154.64" r="0.28" fill="#777" opacity="0.55"/>
<circle cx="41.28" cy="165.41" r="0.28" fill="#777" opacity="0.55"/>
<circle cx="46.22" cy="170.60" r="0.28" fill="#777" opacity="0.55"/>
<circle cx="39.30" cy="155.78" r="0.28" fill="#777" opacity="0.55"/>
<circle cx="36.50" cy="167.92" r="0.28" fill="#777" opacity="0.55"/>
<circle cx="53.89" cy="159.84" r="0.28" fill="#777" opacity="0.55"/>
<circle cx="43.91" cy="147.54" r="0.28" fill="#777" opacity="0.55"/>
<circle cx="40.39" cy="168.34" r="0.28" fill="#777" opacity="0.55"/>
<circle cx="34.39" cy="173.33" r="0.28" fill="#777" opacity="0.55"/>
<circle cx="56.63" cy="174.06" r="0.28" fill="#777" opacity="0.55"/>
<circle cx="30.88" cy="176.54" r="0.28" fill="#777" opacity="0.55"/>
<circle cx="35.36" cy="168.70" r="0.28" fill="#777" opacity="0.55"/>
<circle cx="32.90" cy="171.18" r="0.28" fill="#777" opacity="0.55"/>
<circle cx="44.23" cy="169.63" r="0.28" fill="#777" opacity="0.55"/>
<circle cx="36.60" cy="168.18" r="0.28" fill="#777" opacity="0.55"/>
<circle cx="34.69" cy="173.76" r="0.28" fill="#777" opacity="0.55"/>
<circle cx="33.50" cy="168.16" r="0.28" fill="#777" opacity="0.55"/>
<circle cx="36.61" cy="165.16" r="0.28" fill="#777" opacity="0.55"/>
<circle cx="36.43" cy="161.58" r="0.28" fill="#777" opacity="0.55"/>
<circle cx="42.78" cy="171.60" r="0.28" fill="#777" opacity="0.55"/>
<circle cx="35.71" cy="176.65" r="0.28" fill="#777" opacity="0.55"/>
<circle cx="30.51" cy="171.67" r="0.28" fill="#777" opacity="0.55"/>
<circle cx="43.47" cy="166.23" r="0.28" fill="#777" opacity="0.55"/>
<circle cx="36.30" cy="173.34" r="0.28" fill="#777" opacity="0.55"/>
<circle cx="39.32" cy="170.31" r="0.28" fill="#777" opacity="0.55"/>
<circle cx="52.64" cy="169.98" r="0.28" fill="#777" opacity="0.55"/>
<circle cx="22.05" cy="165.24" r="0.28" fill="#777" opacity="0.55"/>
<circle cx="47.02" cy="168.26" r="0.28" fill="#777" opacity="0.55"/>
<circle cx="27.96" cy="159.06" r="0.28" fill="#777" opacity="0.55"/>
<circle cx="41.92" cy="176.37" r="0.28" fill="#777" opacity="0.55"/>
<circle cx="26.23" cy="158.11" r="0.28" fill="#777" opacity="0.55"/>
<circle cx="43.65" cy="166.21" r="0.28" fill="#777" opacity="0.55"/>
<circle cx="35.78" cy="167.29" r="0.28" fill="#777" opacity="0.55"/>
<circle cx="29.73" cy="171.09" r="0.28" fill="#777" opacity="0.55"/>
<circle cx="47.84" cy="170.71" r="0.28" fill="#777" opacity="0.55"/>
<circle cx="33.17" cy="174.07" r="0.28" fill="#777" opacity="0.55"/>
<circle cx="37.61" cy="171.79" r="0.28" fill="#777" opacity="0.55"/>
<circle cx="29.41" cy="172.17" r="0.28" fill="#777" opacity="0.55"/>
<circle cx="46.09" cy="175.31" r="0.28" fill="#777" opacity="0.55"/>
<circle cx="38.98" cy="171.11" r="0.28" fill="#777" opacity="0.55"/>
<circle cx="32.99" cy="173.29" r="0.28" fill="#777" opacity="0.55"/>
<circle cx="46.42" cy="174.27" r="0.28" fill="#777" opacity="0.55"/>
<circle cx="34.88" cy="162.85" r="0.28" fill="#777" opacity="0.55"/>
<circle cx="38.04" cy="167.87" r="0.28" fill="#777" opacity="0.55"/>
<circle cx="31.31" cy="171.90" r="0.28" fill="#777" opacity="0.55"/>
<circle cx="48.09" cy="170.86" r="0.28" fill="#777" opacity="0.55"/>
<circle cx="49.72" cy="170.87" r="0.28" fill="#777" opacity="0.55"/>
<ellipse cx="31.50" cy="176.90" rx="13.4" ry="3.6" fill="none" stroke="#555" stroke-width="0.6"/>
<ellipse cx="31.50" cy="176.90" rx="12.2" ry="3.0" fill="none" stroke="#222" stroke-width="0.6"/>
<ellipse cx="31.50" cy="176.90" rx="10.6" ry="2.4" fill="none" stroke="#111" stroke-width="0.6"/>
<ellipse cx="31.50" cy="176.90" rx="9.0" ry="1.9" fill="none" stroke="#111" stroke-width="0.6"/>
<ellipse cx="31.50" cy="176.90" rx="6.5" ry="1.0" fill="#fff"/>
<ellipse cx="61.70" cy="176.10" rx="13.2" ry="5.0" fill="none" stroke="#666" stroke-width="0.5" transform="rotate(-4 61.70 176.10)"/>
<ellipse cx="61.70" cy="176.10" rx="11.6" ry="4.3" fill="none" stroke="#444" stroke-width="0.5" transform="rotate(-4 61.70 176.10)"/>
<ellipse cx="61.70" cy="176.10" rx="10" ry="3.7" fill="none" stroke="#333" stroke-width="0.5" transform="rotate(-4 61.70 176.10)"/>
<ellipse cx="61.70" cy="176.10" rx="8.6" ry="3.2" fill="none" stroke="#222" stroke-width="0.5" transform="rotate(-4 61.70 176.10)"/>
<ellipse cx="61.70" cy="176.10" rx="7" ry="2.6" fill="none" stroke="#111" stroke-width="0.5" transform="rotate(-4 61.70 176.10)"/>
<ellipse cx="60.90" cy="176.30" rx="7.6" ry="3.2" fill="#111" opacity="0.85" filter="url(#blur05)"/>
<line x1="58.20" y1="176.70" x2="64.70" y2="176.30" stroke="#fff" stroke-width="0.4" opacity="0.7"/>
<ellipse cx="61.50" cy="151.50" rx="8.6" ry="3.8" fill="none" stroke="#999" stroke-width="0.5" transform="rotate(-28 61.50 151.50)"/>
<ellipse cx="61.50" cy="151.50" rx="7.2" ry="3.0" fill="none" stroke="#555" stroke-width="0.5" transform="rotate(-28 61.50 151.50)"/>
<ellipse cx="61.50" cy="151.50" rx="5.6" ry="2.2" fill="#fff" stroke="#222" stroke-width="0.9" transform="rotate(-28 61.50 151.50)"/>
<ellipse cx="61.50" cy="151.50" rx="3.6" ry="1.0" fill="#fff" transform="rotate(-28 61.50 151.50)"/>
<rect x="16.7" y="123.5" width="61.70" height="61.40" fill="none" stroke="#555" stroke-width="0.75"/>
<line x1="49.80" y1="123.50" x2="49.80" y2="184.90" stroke="#666" stroke-width="0.65" />
<line x1="16.70" y1="157.00" x2="78.40" y2="157.00" stroke="#666" stroke-width="0.65" />
<text x="18.70" y="126.70" font-size="3.4" font-weight="bold" text-anchor="start" fill="#111"  stroke="#111" stroke-width="0.3">0.444</text>
<text x="76.90" y="126.70" font-size="3.4" font-weight="bold" text-anchor="end" fill="#111"  stroke="#111" stroke-width="0.3">2.882</text>
<text x="18.70" y="183.70" font-size="3.4" font-weight="bold" text-anchor="start" fill="#111"  stroke="#111" stroke-width="0.3">10.812</text>
<text x="76.90" y="183.70" font-size="3.4" font-weight="bold" text-anchor="end" fill="#111"  stroke="#111" stroke-width="0.3">84.762</text>
<text x="14.70" y="128.00" font-size="3.6" font-weight="bold" text-anchor="end" fill="#111"  stroke="#111" stroke-width="0.3">10<tspan font-size="2.6" dy="-1.5">5</tspan></text>
<text x="14.70" y="143.60" font-size="3.6" font-weight="bold" text-anchor="end" fill="#111"  stroke="#111" stroke-width="0.3">10<tspan font-size="2.6" dy="-1.5">4</tspan></text>
<text x="14.70" y="157.00" font-size="3.6" font-weight="bold" text-anchor="end" fill="#111"  stroke="#111" stroke-width="0.3">10<tspan font-size="2.6" dy="-1.5">3</tspan></text>
<text x="14.70" y="172.30" font-size="3.6" font-weight="bold" text-anchor="end" fill="#111"  stroke="#111" stroke-width="0.3">10<tspan font-size="2.6" dy="-1.5">2</tspan></text>
<text x="14.70" y="179.80" font-size="3.6" font-weight="bold" text-anchor="end" fill="#111"  stroke="#111" stroke-width="0.3">0</text>
<text x="28.20" y="189.50" font-size="3.6" font-weight="bold" text-anchor="middle" fill="#111"  stroke="#111" stroke-width="0.3">0</text>
<text x="44.20" y="189.50" font-size="3.6" font-weight="bold" text-anchor="middle" fill="#111"  stroke="#111" stroke-width="0.3">10<tspan font-size="2.6" dy="-1.5">3</tspan></text>
<text x="60.20" y="189.50" font-size="3.6" font-weight="bold" text-anchor="middle" fill="#111"  stroke="#111" stroke-width="0.3">10<tspan font-size="2.6" dy="-1.5">4</tspan></text>
<text x="73.20" y="189.50" font-size="3.6" font-weight="bold" text-anchor="middle" fill="#111"  stroke="#111" stroke-width="0.3">10<tspan font-size="2.6" dy="-1.5">5</tspan></text>
<text x="123.75" y="119.10" font-size="6.2" font-weight="bold" text-anchor="middle" fill="#111"  stroke="#111" stroke-width="0.3">Tc17 depleted</text>
<circle cx="94.19" cy="176.93" r="0.28" fill="#777" opacity="0.55"/>
<circle cx="104.70" cy="174.08" r="0.28" fill="#777" opacity="0.55"/>
<circle cx="115.90" cy="176.26" r="0.28" fill="#777" opacity="0.55"/>
<circle cx="104.73" cy="183.21" r="0.28" fill="#777" opacity="0.55"/>
<circle cx="102.75" cy="170.95" r="0.28" fill="#777" opacity="0.55"/>
<circle cx="94.83" cy="173.90" r="0.28" fill="#777" opacity="0.55"/>
<circle cx="113.13" cy="179.41" r="0.28" fill="#777" opacity="0.55"/>
<circle cx="117.45" cy="183.41" r="0.28" fill="#777" opacity="0.55"/>
<circle cx="122.71" cy="178.67" r="0.28" fill="#777" opacity="0.55"/>
<circle cx="119.44" cy="178.75" r="0.28" fill="#777" opacity="0.55"/>
<circle cx="102.44" cy="179.48" r="0.28" fill="#777" opacity="0.55"/>
<circle cx="108.16" cy="175.35" r="0.28" fill="#777" opacity="0.55"/>
<circle cx="125.75" cy="179.31" r="0.28" fill="#777" opacity="0.55"/>
<circle cx="103.28" cy="175.90" r="0.28" fill="#777" opacity="0.55"/>
<circle cx="128.92" cy="175.22" r="0.28" fill="#777" opacity="0.55"/>
<circle cx="114.38" cy="178.73" r="0.28" fill="#777" opacity="0.55"/>
<circle cx="112.35" cy="178.60" r="0.28" fill="#777" opacity="0.55"/>
<circle cx="103.31" cy="174.35" r="0.28" fill="#777" opacity="0.55"/>
<circle cx="106.24" cy="174.77" r="0.28" fill="#777" opacity="0.55"/>
<circle cx="115.06" cy="182.47" r="0.28" fill="#777" opacity="0.55"/>
<circle cx="99.60" cy="178.44" r="0.28" fill="#777" opacity="0.55"/>
<circle cx="98.76" cy="173.42" r="0.28" fill="#777" opacity="0.55"/>
<circle cx="105.52" cy="176.66" r="0.28" fill="#777" opacity="0.55"/>
<circle cx="103.71" cy="165.65" r="0.28" fill="#777" opacity="0.55"/>
<circle cx="120.34" cy="175.12" r="0.28" fill="#777" opacity="0.55"/>
<circle cx="101.90" cy="178.98" r="0.28" fill="#777" opacity="0.55"/>
<circle cx="102.25" cy="170.43" r="0.28" fill="#777" opacity="0.55"/>
<circle cx="112.17" cy="177.92" r="0.28" fill="#777" opacity="0.55"/>
<circle cx="100.16" cy="179.62" r="0.28" fill="#777" opacity="0.55"/>
<circle cx="111.11" cy="171.62" r="0.28" fill="#777" opacity="0.55"/>
<circle cx="123.68" cy="177.31" r="0.28" fill="#777" opacity="0.55"/>
<circle cx="97.34" cy="178.06" r="0.28" fill="#777" opacity="0.55"/>
<circle cx="108.85" cy="180.16" r="0.28" fill="#777" opacity="0.55"/>
<circle cx="95.39" cy="180.44" r="0.28" fill="#777" opacity="0.55"/>
<circle cx="116.29" cy="179.04" r="0.28" fill="#777" opacity="0.55"/>
<circle cx="113.27" cy="181.55" r="0.28" fill="#777" opacity="0.55"/>
<circle cx="114.25" cy="176.74" r="0.28" fill="#777" opacity="0.55"/>
<circle cx="100.05" cy="180.73" r="0.28" fill="#777" opacity="0.55"/>
<circle cx="116.65" cy="177.43" r="0.28" fill="#777" opacity="0.55"/>
<circle cx="109.08" cy="179.15" r="0.28" fill="#777" opacity="0.55"/>
<circle cx="117.32" cy="183.89" r="0.28" fill="#777" opacity="0.55"/>
<circle cx="103.37" cy="177.95" r="0.28" fill="#777" opacity="0.55"/>
<circle cx="107.02" cy="167.18" r="0.28" fill="#777" opacity="0.55"/>
<circle cx="114.31" cy="176.13" r="0.28" fill="#777" opacity="0.55"/>
<circle cx="108.27" cy="172.37" r="0.28" fill="#777" opacity="0.55"/>
<circle cx="107.26" cy="176.53" r="0.28" fill="#777" opacity="0.55"/>
<circle cx="119.31" cy="177.38" r="0.28" fill="#777" opacity="0.55"/>
<circle cx="139.48" cy="174.54" r="0.28" fill="#777" opacity="0.55"/>
<circle cx="105.22" cy="175.98" r="0.28" fill="#777" opacity="0.55"/>
<circle cx="100.24" cy="182.32" r="0.28" fill="#777" opacity="0.55"/>
<circle cx="113.53" cy="171.03" r="0.28" fill="#777" opacity="0.55"/>
<circle cx="108.61" cy="180.86" r="0.28" fill="#777" opacity="0.55"/>
<circle cx="94.69" cy="176.80" r="0.28" fill="#777" opacity="0.55"/>
<circle cx="111.42" cy="174.53" r="0.28" fill="#777" opacity="0.55"/>
<circle cx="102.50" cy="183.86" r="0.28" fill="#777" opacity="0.55"/>
<circle cx="93.37" cy="175.41" r="0.28" fill="#777" opacity="0.55"/>
<circle cx="105.45" cy="173.34" r="0.28" fill="#777" opacity="0.55"/>
<circle cx="105.69" cy="178.99" r="0.28" fill="#777" opacity="0.55"/>
<circle cx="101.56" cy="170.38" r="0.28" fill="#777" opacity="0.55"/>
<circle cx="119.90" cy="182.14" r="0.28" fill="#777" opacity="0.55"/>
<circle cx="101.33" cy="177.43" r="0.28" fill="#777" opacity="0.55"/>
<circle cx="95.48" cy="173.94" r="0.28" fill="#777" opacity="0.55"/>
<circle cx="127.36" cy="171.07" r="0.28" fill="#777" opacity="0.55"/>
<circle cx="107.81" cy="171.85" r="0.28" fill="#777" opacity="0.55"/>
<circle cx="110.09" cy="170.89" r="0.28" fill="#777" opacity="0.55"/>
<circle cx="102.24" cy="179.14" r="0.28" fill="#777" opacity="0.55"/>
<circle cx="106.17" cy="170.87" r="0.28" fill="#777" opacity="0.55"/>
<circle cx="121.28" cy="176.68" r="0.28" fill="#777" opacity="0.55"/>
<circle cx="120.44" cy="171.94" r="0.28" fill="#777" opacity="0.55"/>
<circle cx="123.01" cy="170.72" r="0.28" fill="#777" opacity="0.55"/>
<circle cx="104.22" cy="177.25" r="0.28" fill="#777" opacity="0.55"/>
<circle cx="102.50" cy="178.76" r="0.28" fill="#777" opacity="0.55"/>
<circle cx="119.79" cy="173.54" r="0.28" fill="#777" opacity="0.55"/>
<circle cx="95.07" cy="174.56" r="0.28" fill="#777" opacity="0.55"/>
<circle cx="115.08" cy="179.49" r="0.28" fill="#777" opacity="0.55"/>
<circle cx="104.45" cy="172.19" r="0.28" fill="#777" opacity="0.55"/>
<circle cx="107.45" cy="180.09" r="0.28" fill="#777" opacity="0.55"/>
<circle cx="101.10" cy="181.44" r="0.28" fill="#777" opacity="0.55"/>
<circle cx="109.66" cy="177.36" r="0.28" fill="#777" opacity="0.55"/>
<circle cx="101.89" cy="181.70" r="0.28" fill="#777" opacity="0.55"/>
<circle cx="108.00" cy="170.14" r="0.28" fill="#777" opacity="0.55"/>
<circle cx="115.07" cy="174.48" r="0.28" fill="#777" opacity="0.55"/>
<circle cx="117.43" cy="176.86" r="0.28" fill="#777" opacity="0.55"/>
<circle cx="132.89" cy="176.09" r="0.3" fill="#444" opacity="0.6"/>
<circle cx="134.12" cy="171.03" r="0.3" fill="#444" opacity="0.6"/>
<circle cx="138.79" cy="179.44" r="0.3" fill="#444" opacity="0.6"/>
<circle cx="139.25" cy="174.78" r="0.3" fill="#444" opacity="0.6"/>
<circle cx="133.54" cy="178.12" r="0.3" fill="#444" opacity="0.6"/>
<circle cx="141.08" cy="180.07" r="0.3" fill="#444" opacity="0.6"/>
<circle cx="124.27" cy="174.95" r="0.3" fill="#444" opacity="0.6"/>
<circle cx="143.46" cy="179.76" r="0.3" fill="#444" opacity="0.6"/>
<circle cx="124.62" cy="169.03" r="0.3" fill="#444" opacity="0.6"/>
<circle cx="138.21" cy="180.55" r="0.3" fill="#444" opacity="0.6"/>
<circle cx="148.60" cy="167.54" r="0.3" fill="#444" opacity="0.6"/>
<circle cx="139.78" cy="181.15" r="0.3" fill="#444" opacity="0.6"/>
<circle cx="138.84" cy="170.00" r="0.3" fill="#444" opacity="0.6"/>
<circle cx="132.05" cy="168.46" r="0.3" fill="#444" opacity="0.6"/>
<circle cx="149.46" cy="173.91" r="0.3" fill="#444" opacity="0.6"/>
<circle cx="134.68" cy="170.79" r="0.3" fill="#444" opacity="0.6"/>
<circle cx="137.32" cy="170.62" r="0.3" fill="#444" opacity="0.6"/>
<circle cx="129.68" cy="175.00" r="0.3" fill="#444" opacity="0.6"/>
<circle cx="136.49" cy="177.53" r="0.3" fill="#444" opacity="0.6"/>
<circle cx="139.92" cy="181.20" r="0.3" fill="#444" opacity="0.6"/>
<circle cx="138.17" cy="176.53" r="0.3" fill="#444" opacity="0.6"/>
<circle cx="140.64" cy="171.13" r="0.3" fill="#444" opacity="0.6"/>
<circle cx="149.40" cy="172.36" r="0.3" fill="#444" opacity="0.6"/>
<circle cx="124.18" cy="181.52" r="0.3" fill="#444" opacity="0.6"/>
<circle cx="144.52" cy="172.35" r="0.3" fill="#444" opacity="0.6"/>
<circle cx="147.26" cy="180.09" r="0.3" fill="#444" opacity="0.6"/>
<circle cx="144.98" cy="169.28" r="0.3" fill="#444" opacity="0.6"/>
<circle cx="140.19" cy="169.96" r="0.3" fill="#444" opacity="0.6"/>
<circle cx="133.01" cy="172.36" r="0.3" fill="#444" opacity="0.6"/>
<circle cx="130.87" cy="177.70" r="0.3" fill="#444" opacity="0.6"/>
<circle cx="131.39" cy="178.35" r="0.3" fill="#444" opacity="0.6"/>
<circle cx="140.13" cy="172.14" r="0.3" fill="#444" opacity="0.6"/>
<circle cx="140.12" cy="178.68" r="0.3" fill="#444" opacity="0.6"/>
<circle cx="148.97" cy="173.90" r="0.3" fill="#444" opacity="0.6"/>
<circle cx="154.36" cy="178.10" r="0.3" fill="#444" opacity="0.6"/>
<circle cx="149.90" cy="168.38" r="0.3" fill="#444" opacity="0.6"/>
<circle cx="128.94" cy="181.31" r="0.3" fill="#444" opacity="0.6"/>
<circle cx="136.53" cy="177.55" r="0.3" fill="#444" opacity="0.6"/>
<circle cx="149.48" cy="167.91" r="0.3" fill="#444" opacity="0.6"/>
<circle cx="145.84" cy="175.66" r="0.3" fill="#444" opacity="0.6"/>
<circle cx="143.69" cy="175.25" r="0.3" fill="#444" opacity="0.6"/>
<circle cx="145.60" cy="181.78" r="0.3" fill="#444" opacity="0.6"/>
<circle cx="136.51" cy="178.11" r="0.3" fill="#444" opacity="0.6"/>
<circle cx="141.33" cy="178.96" r="0.3" fill="#444" opacity="0.6"/>
<circle cx="146.17" cy="169.80" r="0.3" fill="#444" opacity="0.6"/>
<circle cx="149.15" cy="179.56" r="0.3" fill="#444" opacity="0.6"/>
<circle cx="128.64" cy="173.77" r="0.3" fill="#444" opacity="0.6"/>
<circle cx="125.33" cy="173.75" r="0.3" fill="#444" opacity="0.6"/>
<circle cx="141.54" cy="169.37" r="0.3" fill="#444" opacity="0.6"/>
<circle cx="131.55" cy="170.78" r="0.3" fill="#444" opacity="0.6"/>
<circle cx="132.26" cy="171.30" r="0.3" fill="#444" opacity="0.6"/>
<circle cx="128.86" cy="178.07" r="0.3" fill="#444" opacity="0.6"/>
<circle cx="136.61" cy="171.06" r="0.3" fill="#444" opacity="0.6"/>
<circle cx="147.52" cy="172.36" r="0.3" fill="#444" opacity="0.6"/>
<circle cx="146.68" cy="168.97" r="0.3" fill="#444" opacity="0.6"/>
<circle cx="151.32" cy="172.95" r="0.3" fill="#444" opacity="0.6"/>
<circle cx="129.97" cy="177.26" r="0.3" fill="#444" opacity="0.6"/>
<circle cx="126.45" cy="169.76" r="0.3" fill="#444" opacity="0.6"/>
<circle cx="140.71" cy="172.77" r="0.3" fill="#444" opacity="0.6"/>
<circle cx="142.18" cy="175.91" r="0.3" fill="#444" opacity="0.6"/>
<circle cx="140.85" cy="175.86" r="0.3" fill="#444" opacity="0.6"/>
<circle cx="145.01" cy="175.20" r="0.3" fill="#444" opacity="0.6"/>
<circle cx="148.57" cy="179.96" r="0.3" fill="#444" opacity="0.6"/>
<circle cx="120.75" cy="166.36" r="0.3" fill="#444" opacity="0.6"/>
<circle cx="152.66" cy="172.97" r="0.3" fill="#444" opacity="0.6"/>
<circle cx="140.24" cy="174.63" r="0.3" fill="#444" opacity="0.6"/>
<circle cx="132.15" cy="175.52" r="0.3" fill="#444" opacity="0.6"/>
<circle cx="138.60" cy="169.76" r="0.3" fill="#444" opacity="0.6"/>
<circle cx="130.64" cy="173.83" r="0.3" fill="#444" opacity="0.6"/>
<circle cx="138.40" cy="177.13" r="0.3" fill="#444" opacity="0.6"/>
<circle cx="120.79" cy="167.32" r="0.3" fill="#444" opacity="0.6"/>
<circle cx="153.47" cy="174.29" r="0.3" fill="#444" opacity="0.6"/>
<circle cx="146.00" cy="173.07" r="0.3" fill="#444" opacity="0.6"/>
<circle cx="127.38" cy="170.62" r="0.3" fill="#444" opacity="0.6"/>
<circle cx="144.66" cy="175.28" r="0.3" fill="#444" opacity="0.6"/>
<circle cx="123.70" cy="175.89" r="0.3" fill="#444" opacity="0.6"/>
<circle cx="145.14" cy="167.52" r="0.3" fill="#444" opacity="0.6"/>
<circle cx="133.49" cy="179.14" r="0.3" fill="#444" opacity="0.6"/>
<circle cx="132.30" cy="175.31" r="0.3" fill="#444" opacity="0.6"/>
<circle cx="130.29" cy="170.63" r="0.3" fill="#444" opacity="0.6"/>
<circle cx="133.99" cy="177.76" r="0.3" fill="#444" opacity="0.6"/>
<circle cx="128.89" cy="179.54" r="0.3" fill="#444" opacity="0.6"/>
<circle cx="146.05" cy="179.46" r="0.3" fill="#444" opacity="0.6"/>
<circle cx="152.41" cy="172.56" r="0.3" fill="#444" opacity="0.6"/>
<circle cx="138.07" cy="180.21" r="0.3" fill="#444" opacity="0.6"/>
<circle cx="149.97" cy="179.90" r="0.3" fill="#444" opacity="0.6"/>
<circle cx="134.45" cy="172.73" r="0.3" fill="#444" opacity="0.6"/>
<circle cx="126.63" cy="173.00" r="0.3" fill="#444" opacity="0.6"/>
<circle cx="130.44" cy="172.73" r="0.3" fill="#444" opacity="0.6"/>
<circle cx="135.11" cy="179.35" r="0.3" fill="#444" opacity="0.6"/>
<circle cx="146.26" cy="174.93" r="0.3" fill="#444" opacity="0.6"/>
<circle cx="128.21" cy="174.91" r="0.3" fill="#444" opacity="0.6"/>
<circle cx="142.43" cy="179.47" r="0.3" fill="#444" opacity="0.6"/>
<circle cx="140.42" cy="179.24" r="0.3" fill="#444" opacity="0.6"/>
<circle cx="132.59" cy="178.44" r="0.3" fill="#444" opacity="0.6"/>
<circle cx="145.19" cy="173.40" r="0.3" fill="#444" opacity="0.6"/>
<circle cx="131.68" cy="181.36" r="0.3" fill="#444" opacity="0.6"/>
<circle cx="129.54" cy="178.62" r="0.3" fill="#444" opacity="0.6"/>
<circle cx="136.09" cy="173.44" r="0.3" fill="#444" opacity="0.6"/>
<circle cx="136.23" cy="172.97" r="0.3" fill="#444" opacity="0.6"/>
<circle cx="138.18" cy="184.11" r="0.3" fill="#444" opacity="0.6"/>
<circle cx="151.64" cy="174.51" r="0.3" fill="#444" opacity="0.6"/>
<circle cx="142.77" cy="179.73" r="0.3" fill="#444" opacity="0.6"/>
<circle cx="138.83" cy="178.29" r="0.3" fill="#444" opacity="0.6"/>
<circle cx="129.91" cy="169.57" r="0.3" fill="#444" opacity="0.6"/>
<circle cx="129.52" cy="171.95" r="0.3" fill="#444" opacity="0.6"/>
<circle cx="147.84" cy="173.59" r="0.3" fill="#444" opacity="0.6"/>
<circle cx="146.48" cy="173.08" r="0.3" fill="#444" opacity="0.6"/>
<circle cx="129.91" cy="176.02" r="0.3" fill="#444" opacity="0.6"/>
<circle cx="134.93" cy="166.86" r="0.3" fill="#444" opacity="0.6"/>
<circle cx="138.95" cy="181.10" r="0.3" fill="#444" opacity="0.6"/>
<circle cx="136.64" cy="169.16" r="0.3" fill="#444" opacity="0.6"/>
<circle cx="131.68" cy="169.10" r="0.3" fill="#444" opacity="0.6"/>
<circle cx="136.33" cy="170.43" r="0.3" fill="#444" opacity="0.6"/>
<circle cx="137.50" cy="176.05" r="0.3" fill="#444" opacity="0.6"/>
<circle cx="150.47" cy="169.38" r="0.3" fill="#444" opacity="0.6"/>
<circle cx="120.04" cy="183.31" r="0.3" fill="#444" opacity="0.6"/>
<circle cx="142.42" cy="173.35" r="0.3" fill="#444" opacity="0.6"/>
<circle cx="143.07" cy="170.53" r="0.3" fill="#444" opacity="0.6"/>
<circle cx="135.46" cy="178.56" r="0.3" fill="#444" opacity="0.6"/>
<circle cx="135.68" cy="175.84" r="0.3" fill="#444" opacity="0.6"/>
<circle cx="142.46" cy="175.78" r="0.3" fill="#444" opacity="0.6"/>
<circle cx="136.34" cy="177.75" r="0.3" fill="#444" opacity="0.6"/>
<circle cx="150.46" cy="181.54" r="0.3" fill="#444" opacity="0.6"/>
<circle cx="130.60" cy="178.98" r="0.3" fill="#444" opacity="0.6"/>
<circle cx="121.37" cy="168.09" r="0.3" fill="#444" opacity="0.6"/>
<circle cx="142.13" cy="177.86" r="0.3" fill="#444" opacity="0.6"/>
<circle cx="150.81" cy="166.57" r="0.3" fill="#444" opacity="0.6"/>
<circle cx="148.24" cy="172.45" r="0.3" fill="#444" opacity="0.6"/>
<circle cx="134.30" cy="177.40" r="0.3" fill="#444" opacity="0.6"/>
<circle cx="151.17" cy="170.47" r="0.3" fill="#444" opacity="0.6"/>
<circle cx="123.10" cy="172.18" r="0.3" fill="#444" opacity="0.6"/>
<circle cx="137.45" cy="181.16" r="0.3" fill="#444" opacity="0.6"/>
<circle cx="141.79" cy="173.67" r="0.3" fill="#444" opacity="0.6"/>
<circle cx="133.93" cy="172.85" r="0.3" fill="#444" opacity="0.6"/>
<circle cx="147.22" cy="166.86" r="0.3" fill="#444" opacity="0.6"/>
<circle cx="132.25" cy="170.79" r="0.3" fill="#444" opacity="0.6"/>
<circle cx="148.61" cy="175.79" r="0.3" fill="#444" opacity="0.6"/>
<circle cx="132.44" cy="178.91" r="0.3" fill="#444" opacity="0.6"/>
<circle cx="126.75" cy="174.11" r="0.3" fill="#444" opacity="0.6"/>
<circle cx="148.70" cy="166.10" r="0.3" fill="#444" opacity="0.6"/>
<circle cx="127.47" cy="173.08" r="0.3" fill="#444" opacity="0.6"/>
<circle cx="143.18" cy="171.04" r="0.3" fill="#444" opacity="0.6"/>
<circle cx="139.82" cy="174.35" r="0.3" fill="#444" opacity="0.6"/>
<circle cx="141.35" cy="169.13" r="0.3" fill="#444" opacity="0.6"/>
<circle cx="118.48" cy="164.40" r="0.3" fill="#444" opacity="0.6"/>
<circle cx="139.93" cy="180.02" r="0.3" fill="#444" opacity="0.6"/>
<circle cx="142.77" cy="167.11" r="0.3" fill="#444" opacity="0.6"/>
<circle cx="122.79" cy="173.69" r="0.3" fill="#444" opacity="0.6"/>
<circle cx="130.19" cy="165.95" r="0.3" fill="#444" opacity="0.6"/>
<circle cx="133.18" cy="171.15" r="0.3" fill="#444" opacity="0.6"/>
<circle cx="137.35" cy="177.01" r="0.3" fill="#444" opacity="0.6"/>
<circle cx="140.10" cy="176.03" r="0.3" fill="#444" opacity="0.6"/>
<circle cx="143.10" cy="174.58" r="0.3" fill="#444" opacity="0.6"/>
<circle cx="134.34" cy="173.38" r="0.3" fill="#444" opacity="0.6"/>
<circle cx="149.05" cy="173.70" r="0.3" fill="#444" opacity="0.6"/>
<circle cx="145.66" cy="183.39" r="0.3" fill="#444" opacity="0.6"/>
<circle cx="154.05" cy="164.37" r="0.3" fill="#444" opacity="0.6"/>
<circle cx="139.72" cy="180.00" r="0.3" fill="#444" opacity="0.6"/>
<circle cx="134.30" cy="171.55" r="0.3" fill="#444" opacity="0.6"/>
<circle cx="125.52" cy="171.72" r="0.3" fill="#444" opacity="0.6"/>
<circle cx="138.36" cy="165.68" r="0.3" fill="#444" opacity="0.6"/>
<circle cx="138.24" cy="170.90" r="0.3" fill="#444" opacity="0.6"/>
<circle cx="138.53" cy="169.67" r="0.3" fill="#444" opacity="0.6"/>
<circle cx="139.09" cy="175.89" r="0.3" fill="#444" opacity="0.6"/>
<circle cx="132.11" cy="171.73" r="0.3" fill="#444" opacity="0.6"/>
<circle cx="146.88" cy="178.23" r="0.3" fill="#444" opacity="0.6"/>
<circle cx="131.33" cy="177.26" r="0.3" fill="#444" opacity="0.6"/>
<circle cx="127.96" cy="172.48" r="0.3" fill="#444" opacity="0.6"/>
<circle cx="112.08" cy="172.25" r="0.3" fill="#444" opacity="0.6"/>
<circle cx="144.46" cy="172.63" r="0.3" fill="#444" opacity="0.6"/>
<circle cx="143.63" cy="171.87" r="0.3" fill="#444" opacity="0.6"/>
<circle cx="141.06" cy="174.34" r="0.3" fill="#444" opacity="0.6"/>
<circle cx="130.76" cy="168.35" r="0.3" fill="#444" opacity="0.6"/>
<circle cx="139.49" cy="177.44" r="0.3" fill="#444" opacity="0.6"/>
<circle cx="141.42" cy="174.54" r="0.3" fill="#444" opacity="0.6"/>
<circle cx="142.52" cy="179.74" r="0.3" fill="#444" opacity="0.6"/>
<circle cx="143.92" cy="168.16" r="0.3" fill="#444" opacity="0.6"/>
<circle cx="153.84" cy="174.91" r="0.3" fill="#444" opacity="0.6"/>
<circle cx="119.90" cy="179.23" r="0.3" fill="#444" opacity="0.6"/>
<circle cx="137.01" cy="176.49" r="0.3" fill="#444" opacity="0.6"/>
<circle cx="132.70" cy="170.17" r="0.3" fill="#444" opacity="0.6"/>
<circle cx="140.01" cy="178.37" r="0.3" fill="#444" opacity="0.6"/>
<circle cx="141.84" cy="175.91" r="0.3" fill="#444" opacity="0.6"/>
<circle cx="119.21" cy="176.39" r="0.3" fill="#444" opacity="0.6"/>
<circle cx="148.05" cy="172.52" r="0.3" fill="#444" opacity="0.6"/>
<circle cx="133.53" cy="170.02" r="0.3" fill="#444" opacity="0.6"/>
<circle cx="140.51" cy="167.28" r="0.3" fill="#444" opacity="0.6"/>
<circle cx="132.94" cy="168.99" r="0.3" fill="#444" opacity="0.6"/>
<circle cx="143.17" cy="179.93" r="0.3" fill="#444" opacity="0.6"/>
<circle cx="133.27" cy="175.94" r="0.3" fill="#444" opacity="0.6"/>
<circle cx="140.97" cy="179.91" r="0.3" fill="#444" opacity="0.6"/>
<circle cx="143.86" cy="181.25" r="0.3" fill="#444" opacity="0.6"/>
<circle cx="133.83" cy="169.48" r="0.3" fill="#444" opacity="0.6"/>
<circle cx="129.99" cy="177.01" r="0.3" fill="#444" opacity="0.6"/>
<circle cx="149.37" cy="171.26" r="0.3" fill="#444" opacity="0.6"/>
<circle cx="135.25" cy="172.74" r="0.3" fill="#444" opacity="0.6"/>
<circle cx="132.94" cy="174.22" r="0.3" fill="#444" opacity="0.6"/>
<circle cx="132.81" cy="180.94" r="0.3" fill="#444" opacity="0.6"/>
<circle cx="141.35" cy="178.19" r="0.3" fill="#444" opacity="0.6"/>
<circle cx="136.93" cy="169.29" r="0.3" fill="#444" opacity="0.6"/>
<circle cx="142.28" cy="173.12" r="0.3" fill="#444" opacity="0.6"/>
<circle cx="127.47" cy="170.14" r="0.3" fill="#444" opacity="0.6"/>
<circle cx="133.41" cy="174.02" r="0.3" fill="#444" opacity="0.6"/>
<circle cx="148.63" cy="174.19" r="0.3" fill="#444" opacity="0.6"/>
<circle cx="142.46" cy="173.48" r="0.3" fill="#444" opacity="0.6"/>
<circle cx="136.41" cy="181.23" r="0.3" fill="#444" opacity="0.6"/>
<circle cx="137.95" cy="177.02" r="0.3" fill="#444" opacity="0.6"/>
<circle cx="141.93" cy="178.40" r="0.3" fill="#444" opacity="0.6"/>
<circle cx="133.61" cy="170.39" r="0.3" fill="#444" opacity="0.6"/>
<circle cx="142.43" cy="177.38" r="0.3" fill="#444" opacity="0.6"/>
<circle cx="121.74" cy="178.95" r="0.3" fill="#444" opacity="0.6"/>
<circle cx="139.52" cy="176.64" r="0.3" fill="#444" opacity="0.6"/>
<circle cx="139.17" cy="174.64" r="0.3" fill="#444" opacity="0.6"/>
<circle cx="137.71" cy="172.26" r="0.3" fill="#444" opacity="0.6"/>
<circle cx="136.34" cy="178.25" r="0.3" fill="#444" opacity="0.6"/>
<circle cx="119.38" cy="179.22" r="0.3" fill="#444" opacity="0.6"/>
<circle cx="144.17" cy="169.77" r="0.3" fill="#444" opacity="0.6"/>
<circle cx="142.97" cy="176.63" r="0.3" fill="#444" opacity="0.6"/>
<circle cx="133.70" cy="183.53" r="0.3" fill="#444" opacity="0.6"/>
<circle cx="139.97" cy="174.43" r="0.3" fill="#444" opacity="0.6"/>
<circle cx="140.34" cy="176.66" r="0.3" fill="#444" opacity="0.6"/>
<circle cx="137.01" cy="182.96" r="0.3" fill="#444" opacity="0.6"/>
<circle cx="147.87" cy="179.98" r="0.3" fill="#444" opacity="0.6"/>
<circle cx="144.09" cy="180.87" r="0.3" fill="#444" opacity="0.6"/>
<circle cx="137.33" cy="164.74" r="0.3" fill="#444" opacity="0.6"/>
<circle cx="114.22" cy="180.66" r="0.3" fill="#444" opacity="0.6"/>
<circle cx="119.91" cy="181.79" r="0.3" fill="#444" opacity="0.6"/>
<circle cx="143.86" cy="177.47" r="0.3" fill="#444" opacity="0.6"/>
<circle cx="131.98" cy="165.18" r="0.3" fill="#444" opacity="0.6"/>
<circle cx="137.55" cy="183.54" r="0.3" fill="#444" opacity="0.6"/>
<circle cx="137.40" cy="175.06" r="0.3" fill="#444" opacity="0.6"/>
<circle cx="139.14" cy="175.31" r="0.3" fill="#444" opacity="0.6"/>
<circle cx="130.50" cy="165.99" r="0.3" fill="#444" opacity="0.6"/>
<circle cx="145.97" cy="172.49" r="0.3" fill="#444" opacity="0.6"/>
<circle cx="133.85" cy="168.12" r="0.3" fill="#444" opacity="0.6"/>
<circle cx="136.78" cy="172.94" r="0.3" fill="#444" opacity="0.6"/>
<circle cx="142.22" cy="173.12" r="0.3" fill="#444" opacity="0.6"/>
<circle cx="125.27" cy="177.57" r="0.3" fill="#444" opacity="0.6"/>
<circle cx="137.63" cy="165.65" r="0.3" fill="#444" opacity="0.6"/>
<circle cx="133.31" cy="170.89" r="0.3" fill="#555" opacity="0.55"/>
<circle cx="135.81" cy="165.46" r="0.3" fill="#555" opacity="0.55"/>
<circle cx="141.69" cy="163.89" r="0.3" fill="#555" opacity="0.55"/>
<circle cx="130.12" cy="169.71" r="0.3" fill="#555" opacity="0.55"/>
<circle cx="134.94" cy="163.99" r="0.3" fill="#555" opacity="0.55"/>
<circle cx="138.40" cy="168.39" r="0.3" fill="#555" opacity="0.55"/>
<circle cx="144.75" cy="172.12" r="0.3" fill="#555" opacity="0.55"/>
<circle cx="137.18" cy="166.96" r="0.3" fill="#555" opacity="0.55"/>
<circle cx="128.00" cy="168.10" r="0.3" fill="#555" opacity="0.55"/>
<circle cx="133.16" cy="171.27" r="0.3" fill="#555" opacity="0.55"/>
<circle cx="143.56" cy="170.30" r="0.3" fill="#555" opacity="0.55"/>
<circle cx="135.88" cy="168.74" r="0.3" fill="#555" opacity="0.55"/>
<circle cx="149.87" cy="175.60" r="0.3" fill="#555" opacity="0.55"/>
<circle cx="131.11" cy="153.01" r="0.3" fill="#555" opacity="0.55"/>
<circle cx="141.96" cy="159.46" r="0.3" fill="#555" opacity="0.55"/>
<circle cx="136.83" cy="169.37" r="0.3" fill="#555" opacity="0.55"/>
<circle cx="149.80" cy="166.25" r="0.3" fill="#555" opacity="0.55"/>
<circle cx="135.35" cy="164.26" r="0.3" fill="#555" opacity="0.55"/>
<circle cx="139.09" cy="161.02" r="0.3" fill="#555" opacity="0.55"/>
<circle cx="141.47" cy="168.80" r="0.3" fill="#555" opacity="0.55"/>
<circle cx="148.51" cy="165.59" r="0.3" fill="#555" opacity="0.55"/>
<circle cx="139.31" cy="168.11" r="0.3" fill="#555" opacity="0.55"/>
<circle cx="136.22" cy="162.34" r="0.3" fill="#555" opacity="0.55"/>
<circle cx="131.36" cy="167.37" r="0.3" fill="#555" opacity="0.55"/>
<circle cx="140.80" cy="172.28" r="0.3" fill="#555" opacity="0.55"/>
<circle cx="131.02" cy="168.41" r="0.3" fill="#555" opacity="0.55"/>
<circle cx="141.91" cy="171.40" r="0.3" fill="#555" opacity="0.55"/>
<circle cx="138.64" cy="168.17" r="0.3" fill="#555" opacity="0.55"/>
<circle cx="133.32" cy="167.27" r="0.3" fill="#555" opacity="0.55"/>
<circle cx="134.68" cy="158.50" r="0.3" fill="#555" opacity="0.55"/>
<circle cx="130.08" cy="155.18" r="0.3" fill="#555" opacity="0.55"/>
<circle cx="140.96" cy="171.52" r="0.3" fill="#555" opacity="0.55"/>
<circle cx="133.20" cy="167.99" r="0.3" fill="#555" opacity="0.55"/>
<circle cx="137.85" cy="165.89" r="0.3" fill="#555" opacity="0.55"/>
<circle cx="149.63" cy="166.20" r="0.3" fill="#555" opacity="0.55"/>
<circle cx="139.35" cy="166.83" r="0.3" fill="#555" opacity="0.55"/>
<circle cx="154.38" cy="159.01" r="0.3" fill="#555" opacity="0.55"/>
<circle cx="138.29" cy="160.52" r="0.3" fill="#555" opacity="0.55"/>
<circle cx="130.04" cy="162.40" r="0.3" fill="#555" opacity="0.55"/>
<circle cx="143.34" cy="161.76" r="0.3" fill="#555" opacity="0.55"/>
<circle cx="127.43" cy="165.50" r="0.3" fill="#555" opacity="0.55"/>
<circle cx="127.91" cy="162.21" r="0.3" fill="#555" opacity="0.55"/>
<circle cx="150.62" cy="163.84" r="0.3" fill="#555" opacity="0.55"/>
<circle cx="129.29" cy="173.99" r="0.3" fill="#555" opacity="0.55"/>
<circle cx="137.26" cy="172.70" r="0.3" fill="#555" opacity="0.55"/>
<circle cx="121.89" cy="165.69" r="0.3" fill="#555" opacity="0.55"/>
<circle cx="140.75" cy="168.24" r="0.3" fill="#555" opacity="0.55"/>
<circle cx="141.34" cy="173.34" r="0.3" fill="#555" opacity="0.55"/>
<circle cx="141.72" cy="172.62" r="0.3" fill="#555" opacity="0.55"/>
<circle cx="143.20" cy="163.43" r="0.3" fill="#555" opacity="0.55"/>
<circle cx="138.21" cy="173.65" r="0.3" fill="#555" opacity="0.55"/>
<circle cx="128.01" cy="169.83" r="0.3" fill="#555" opacity="0.55"/>
<circle cx="142.14" cy="173.82" r="0.3" fill="#555" opacity="0.55"/>
<circle cx="121.53" cy="179.00" r="0.3" fill="#555" opacity="0.55"/>
<circle cx="122.58" cy="167.17" r="0.3" fill="#555" opacity="0.55"/>
<circle cx="153.67" cy="174.38" r="0.3" fill="#555" opacity="0.55"/>
<circle cx="137.87" cy="163.26" r="0.3" fill="#555" opacity="0.55"/>
<circle cx="133.70" cy="160.72" r="0.3" fill="#555" opacity="0.55"/>
<circle cx="124.13" cy="169.07" r="0.3" fill="#555" opacity="0.55"/>
<circle cx="123.52" cy="168.97" r="0.3" fill="#555" opacity="0.55"/>
<circle cx="135.88" cy="166.50" r="0.3" fill="#555" opacity="0.55"/>
<circle cx="127.18" cy="161.01" r="0.3" fill="#555" opacity="0.55"/>
<circle cx="143.66" cy="162.39" r="0.3" fill="#555" opacity="0.55"/>
<circle cx="131.33" cy="166.28" r="0.3" fill="#555" opacity="0.55"/>
<circle cx="142.59" cy="177.02" r="0.3" fill="#555" opacity="0.55"/>
<circle cx="154.09" cy="171.09" r="0.3" fill="#555" opacity="0.55"/>
<circle cx="142.52" cy="170.45" r="0.3" fill="#555" opacity="0.55"/>
<circle cx="134.61" cy="166.14" r="0.3" fill="#555" opacity="0.55"/>
<circle cx="120.98" cy="169.93" r="0.3" fill="#555" opacity="0.55"/>
<circle cx="132.02" cy="169.07" r="0.3" fill="#555" opacity="0.55"/>
<circle cx="146.81" cy="171.54" r="0.3" fill="#555" opacity="0.55"/>
<circle cx="131.47" cy="163.92" r="0.3" fill="#555" opacity="0.55"/>
<circle cx="123.39" cy="164.30" r="0.3" fill="#555" opacity="0.55"/>
<circle cx="137.96" cy="170.62" r="0.3" fill="#555" opacity="0.55"/>
<circle cx="141.66" cy="165.43" r="0.3" fill="#555" opacity="0.55"/>
<circle cx="126.31" cy="167.39" r="0.3" fill="#555" opacity="0.55"/>
<circle cx="139.29" cy="157.29" r="0.3" fill="#555" opacity="0.55"/>
<circle cx="137.29" cy="160.01" r="0.3" fill="#555" opacity="0.55"/>
<circle cx="132.38" cy="166.45" r="0.3" fill="#555" opacity="0.55"/>
<circle cx="127.63" cy="164.61" r="0.3" fill="#555" opacity="0.55"/>
<circle cx="136.52" cy="162.15" r="0.3" fill="#555" opacity="0.55"/>
<circle cx="142.57" cy="170.41" r="0.3" fill="#555" opacity="0.55"/>
<circle cx="141.35" cy="161.89" r="0.3" fill="#555" opacity="0.55"/>
<circle cx="134.70" cy="165.51" r="0.3" fill="#555" opacity="0.55"/>
<circle cx="137.46" cy="170.87" r="0.3" fill="#555" opacity="0.55"/>
<circle cx="131.69" cy="167.25" r="0.3" fill="#555" opacity="0.55"/>
<circle cx="143.80" cy="165.49" r="0.3" fill="#555" opacity="0.55"/>
<circle cx="142.86" cy="167.02" r="0.3" fill="#555" opacity="0.55"/>
<circle cx="123.75" cy="166.93" r="0.3" fill="#555" opacity="0.55"/>
<circle cx="137.71" cy="165.04" r="0.3" fill="#555" opacity="0.55"/>
<circle cx="153.60" cy="165.19" r="0.3" fill="#555" opacity="0.55"/>
<circle cx="123.26" cy="166.34" r="0.3" fill="#555" opacity="0.55"/>
<circle cx="134.42" cy="169.66" r="0.3" fill="#555" opacity="0.55"/>
<circle cx="143.75" cy="163.54" r="0.3" fill="#555" opacity="0.55"/>
<circle cx="127.98" cy="163.60" r="0.3" fill="#555" opacity="0.55"/>
<circle cx="134.65" cy="164.88" r="0.3" fill="#555" opacity="0.55"/>
<circle cx="136.34" cy="163.90" r="0.3" fill="#555" opacity="0.55"/>
<circle cx="125.64" cy="163.22" r="0.3" fill="#555" opacity="0.55"/>
<circle cx="143.37" cy="161.36" r="0.3" fill="#555" opacity="0.55"/>
<circle cx="143.41" cy="175.27" r="0.3" fill="#555" opacity="0.55"/>
<circle cx="128.06" cy="171.58" r="0.3" fill="#555" opacity="0.55"/>
<circle cx="143.91" cy="153.92" r="0.3" fill="#555" opacity="0.55"/>
<circle cx="144.06" cy="170.35" r="0.3" fill="#555" opacity="0.55"/>
<circle cx="129.34" cy="175.91" r="0.3" fill="#555" opacity="0.55"/>
<circle cx="120.37" cy="173.58" r="0.3" fill="#555" opacity="0.55"/>
<circle cx="138.74" cy="161.98" r="0.3" fill="#555" opacity="0.55"/>
<circle cx="136.95" cy="146.54" r="0.28" fill="#777" opacity="0.55"/>
<circle cx="139.93" cy="153.77" r="0.28" fill="#777" opacity="0.55"/>
<circle cx="143.66" cy="156.78" r="0.28" fill="#777" opacity="0.55"/>
<circle cx="132.18" cy="153.61" r="0.28" fill="#777" opacity="0.55"/>
<circle cx="132.60" cy="141.75" r="0.28" fill="#777" opacity="0.55"/>
<circle cx="142.01" cy="155.96" r="0.28" fill="#777" opacity="0.55"/>
<circle cx="137.63" cy="157.94" r="0.28" fill="#777" opacity="0.55"/>
<circle cx="135.95" cy="145.81" r="0.28" fill="#777" opacity="0.55"/>
<circle cx="133.54" cy="150.91" r="0.28" fill="#777" opacity="0.55"/>
<circle cx="137.93" cy="150.44" r="0.28" fill="#777" opacity="0.55"/>
<circle cx="122.91" cy="147.53" r="0.28" fill="#777" opacity="0.55"/>
<circle cx="135.41" cy="155.78" r="0.28" fill="#777" opacity="0.55"/>
<circle cx="132.32" cy="147.29" r="0.28" fill="#777" opacity="0.55"/>
<circle cx="133.42" cy="155.05" r="0.28" fill="#777" opacity="0.55"/>
<circle cx="143.76" cy="148.42" r="0.28" fill="#777" opacity="0.55"/>
<circle cx="140.37" cy="156.49" r="0.28" fill="#777" opacity="0.55"/>
<circle cx="141.07" cy="147.99" r="0.28" fill="#777" opacity="0.55"/>
<circle cx="139.91" cy="150.11" r="0.28" fill="#777" opacity="0.55"/>
<circle cx="133.24" cy="158.60" r="0.28" fill="#777" opacity="0.55"/>
<circle cx="136.07" cy="153.62" r="0.28" fill="#777" opacity="0.55"/>
<circle cx="143.60" cy="157.61" r="0.28" fill="#777" opacity="0.55"/>
<circle cx="137.96" cy="149.71" r="0.28" fill="#777" opacity="0.55"/>
<circle cx="135.99" cy="149.48" r="0.28" fill="#777" opacity="0.55"/>
<circle cx="135.57" cy="151.45" r="0.28" fill="#777" opacity="0.55"/>
<circle cx="127.34" cy="149.09" r="0.28" fill="#777" opacity="0.55"/>
<circle cx="127.77" cy="151.65" r="0.28" fill="#777" opacity="0.55"/>
<circle cx="141.10" cy="154.41" r="0.28" fill="#777" opacity="0.55"/>
<circle cx="137.41" cy="148.49" r="0.28" fill="#777" opacity="0.55"/>
<circle cx="135.88" cy="147.07" r="0.28" fill="#777" opacity="0.55"/>
<circle cx="139.70" cy="146.44" r="0.28" fill="#777" opacity="0.55"/>
<circle cx="132.44" cy="157.89" r="0.28" fill="#777" opacity="0.55"/>
<circle cx="138.78" cy="148.43" r="0.28" fill="#777" opacity="0.55"/>
<circle cx="134.99" cy="148.25" r="0.28" fill="#777" opacity="0.55"/>
<circle cx="131.48" cy="150.37" r="0.28" fill="#777" opacity="0.55"/>
<circle cx="131.20" cy="152.51" r="0.28" fill="#777" opacity="0.55"/>
<circle cx="142.72" cy="148.83" r="0.28" fill="#777" opacity="0.55"/>
<circle cx="130.69" cy="149.01" r="0.28" fill="#777" opacity="0.55"/>
<circle cx="132.58" cy="152.28" r="0.28" fill="#777" opacity="0.55"/>
<circle cx="132.26" cy="148.77" r="0.28" fill="#777" opacity="0.55"/>
<circle cx="132.20" cy="155.29" r="0.28" fill="#777" opacity="0.55"/>
<circle cx="142.11" cy="155.50" r="0.28" fill="#777" opacity="0.55"/>
<circle cx="137.38" cy="148.53" r="0.28" fill="#777" opacity="0.55"/>
<circle cx="144.52" cy="159.61" r="0.28" fill="#777" opacity="0.55"/>
<circle cx="132.36" cy="149.71" r="0.28" fill="#777" opacity="0.55"/>
<circle cx="142.81" cy="154.25" r="0.28" fill="#777" opacity="0.55"/>
<circle cx="138.67" cy="159.15" r="0.28" fill="#777" opacity="0.55"/>
<circle cx="135.19" cy="149.04" r="0.28" fill="#777" opacity="0.55"/>
<circle cx="134.07" cy="152.62" r="0.28" fill="#777" opacity="0.55"/>
<circle cx="137.42" cy="156.22" r="0.28" fill="#777" opacity="0.55"/>
<circle cx="140.88" cy="149.32" r="0.28" fill="#777" opacity="0.55"/>
<circle cx="140.69" cy="151.17" r="0.28" fill="#777" opacity="0.55"/>
<circle cx="145.34" cy="155.85" r="0.28" fill="#777" opacity="0.55"/>
<circle cx="132.70" cy="153.77" r="0.28" fill="#777" opacity="0.55"/>
<circle cx="128.45" cy="153.45" r="0.28" fill="#777" opacity="0.55"/>
<circle cx="136.73" cy="153.43" r="0.28" fill="#777" opacity="0.55"/>
<circle cx="129.01" cy="148.86" r="0.28" fill="#777" opacity="0.55"/>
<circle cx="132.91" cy="151.03" r="0.28" fill="#777" opacity="0.55"/>
<circle cx="140.28" cy="148.95" r="0.28" fill="#777" opacity="0.55"/>
<circle cx="124.15" cy="149.90" r="0.28" fill="#777" opacity="0.55"/>
<circle cx="140.89" cy="154.85" r="0.28" fill="#777" opacity="0.55"/>
<circle cx="128.60" cy="154.10" r="0.28" fill="#777" opacity="0.55"/>
<circle cx="118.80" cy="171.14" r="0.28" fill="#777" opacity="0.55"/>
<circle cx="119.78" cy="176.45" r="0.28" fill="#777" opacity="0.55"/>
<circle cx="132.75" cy="152.12" r="0.28" fill="#777" opacity="0.55"/>
<circle cx="95.45" cy="174.13" r="0.28" fill="#777" opacity="0.55"/>
<circle cx="95.34" cy="155.96" r="0.28" fill="#777" opacity="0.55"/>
<circle cx="124.03" cy="162.38" r="0.28" fill="#777" opacity="0.55"/>
<circle cx="119.37" cy="142.21" r="0.28" fill="#777" opacity="0.55"/>
<circle cx="106.61" cy="168.94" r="0.28" fill="#777" opacity="0.55"/>
<circle cx="146.40" cy="167.99" r="0.28" fill="#777" opacity="0.55"/>
<circle cx="117.69" cy="165.06" r="0.28" fill="#777" opacity="0.55"/>
<circle cx="131.48" cy="170.19" r="0.28" fill="#777" opacity="0.55"/>
<circle cx="104.73" cy="143.98" r="0.28" fill="#777" opacity="0.55"/>
<circle cx="113.87" cy="159.83" r="0.28" fill="#777" opacity="0.55"/>
<circle cx="142.86" cy="155.18" r="0.28" fill="#777" opacity="0.55"/>
<circle cx="127.76" cy="143.70" r="0.28" fill="#777" opacity="0.55"/>
<circle cx="128.07" cy="150.76" r="0.28" fill="#777" opacity="0.55"/>
<circle cx="117.52" cy="161.66" r="0.28" fill="#777" opacity="0.55"/>
<circle cx="118.51" cy="163.74" r="0.28" fill="#777" opacity="0.55"/>
<circle cx="100.98" cy="169.66" r="0.28" fill="#777" opacity="0.55"/>
<circle cx="104.49" cy="163.21" r="0.28" fill="#777" opacity="0.55"/>
<circle cx="105.02" cy="163.36" r="0.28" fill="#777" opacity="0.55"/>
<circle cx="115.38" cy="161.70" r="0.28" fill="#777" opacity="0.55"/>
<circle cx="105.81" cy="175.82" r="0.28" fill="#777" opacity="0.55"/>
<circle cx="114.50" cy="164.34" r="0.28" fill="#777" opacity="0.55"/>
<circle cx="94.75" cy="161.53" r="0.28" fill="#777" opacity="0.55"/>
<circle cx="99.17" cy="150.76" r="0.28" fill="#777" opacity="0.55"/>
<circle cx="147.04" cy="162.21" r="0.28" fill="#777" opacity="0.55"/>
<circle cx="128.34" cy="158.58" r="0.28" fill="#777" opacity="0.55"/>
<circle cx="101.58" cy="181.73" r="0.28" fill="#777" opacity="0.55"/>
<circle cx="125.78" cy="151.91" r="0.28" fill="#777" opacity="0.55"/>
<circle cx="112.77" cy="168.72" r="0.28" fill="#777" opacity="0.55"/>
<circle cx="110.97" cy="168.37" r="0.28" fill="#777" opacity="0.55"/>
<circle cx="107.19" cy="168.41" r="0.28" fill="#777" opacity="0.55"/>
<circle cx="109.63" cy="167.17" r="0.28" fill="#777" opacity="0.55"/>
<circle cx="106.18" cy="176.58" r="0.28" fill="#777" opacity="0.55"/>
<circle cx="109.51" cy="167.72" r="0.28" fill="#777" opacity="0.55"/>
<circle cx="116.28" cy="168.90" r="0.28" fill="#777" opacity="0.55"/>
<circle cx="100.70" cy="173.12" r="0.28" fill="#777" opacity="0.55"/>
<circle cx="101.51" cy="165.45" r="0.28" fill="#777" opacity="0.55"/>
<circle cx="117.89" cy="167.72" r="0.28" fill="#777" opacity="0.55"/>
<circle cx="106.59" cy="168.80" r="0.28" fill="#777" opacity="0.55"/>
<circle cx="105.13" cy="165.73" r="0.28" fill="#777" opacity="0.55"/>
<circle cx="101.84" cy="162.49" r="0.28" fill="#777" opacity="0.55"/>
<circle cx="103.71" cy="168.94" r="0.28" fill="#777" opacity="0.55"/>
<circle cx="108.51" cy="167.95" r="0.28" fill="#777" opacity="0.55"/>
<circle cx="122.69" cy="166.41" r="0.28" fill="#777" opacity="0.55"/>
<circle cx="95.04" cy="169.08" r="0.28" fill="#777" opacity="0.55"/>
<circle cx="131.43" cy="154.09" r="0.28" fill="#777" opacity="0.55"/>
<circle cx="111.01" cy="163.05" r="0.28" fill="#777" opacity="0.55"/>
<circle cx="98.52" cy="172.71" r="0.28" fill="#777" opacity="0.55"/>
<circle cx="113.15" cy="168.50" r="0.28" fill="#777" opacity="0.55"/>
<circle cx="100.48" cy="166.13" r="0.28" fill="#777" opacity="0.55"/>
<circle cx="102.31" cy="176.30" r="0.28" fill="#777" opacity="0.55"/>
<circle cx="113.09" cy="158.60" r="0.28" fill="#777" opacity="0.55"/>
<circle cx="110.35" cy="176.11" r="0.28" fill="#777" opacity="0.55"/>
<circle cx="105.73" cy="167.29" r="0.28" fill="#777" opacity="0.55"/>
<circle cx="112.93" cy="171.05" r="0.28" fill="#777" opacity="0.55"/>
<circle cx="118.34" cy="165.56" r="0.28" fill="#777" opacity="0.55"/>
<circle cx="109.83" cy="172.15" r="0.28" fill="#777" opacity="0.55"/>
<circle cx="103.25" cy="166.96" r="0.28" fill="#777" opacity="0.55"/>
<circle cx="116.92" cy="167.49" r="0.28" fill="#777" opacity="0.55"/>
<circle cx="103.71" cy="176.92" r="0.28" fill="#777" opacity="0.55"/>
<circle cx="115.19" cy="167.25" r="0.28" fill="#777" opacity="0.55"/>
<circle cx="122.88" cy="168.44" r="0.28" fill="#777" opacity="0.55"/>
<circle cx="113.87" cy="164.52" r="0.28" fill="#777" opacity="0.55"/>
<circle cx="133.79" cy="173.21" r="0.28" fill="#777" opacity="0.55"/>
<circle cx="136.18" cy="180.04" r="0.28" fill="#777" opacity="0.55"/>
<circle cx="95.53" cy="171.93" r="0.28" fill="#777" opacity="0.55"/>
<ellipse cx="107.00" cy="177.00" rx="13.4" ry="3.6" fill="none" stroke="#555" stroke-width="0.6"/>
<ellipse cx="107.00" cy="177.00" rx="12.2" ry="3.0" fill="none" stroke="#222" stroke-width="0.6"/>
<ellipse cx="107.00" cy="177.00" rx="10.6" ry="2.4" fill="none" stroke="#111" stroke-width="0.6"/>
<ellipse cx="107.00" cy="177.00" rx="9.0" ry="1.9" fill="none" stroke="#111" stroke-width="0.6"/>
<ellipse cx="107.00" cy="177.00" rx="6.5" ry="1.0" fill="#fff"/>
<ellipse cx="137.20" cy="176.20" rx="13.2" ry="5.0" fill="none" stroke="#666" stroke-width="0.5" transform="rotate(-4 137.20 176.20)"/>
<ellipse cx="137.20" cy="176.20" rx="11.6" ry="4.3" fill="none" stroke="#444" stroke-width="0.5" transform="rotate(-4 137.20 176.20)"/>
<ellipse cx="137.20" cy="176.20" rx="10" ry="3.7" fill="none" stroke="#333" stroke-width="0.5" transform="rotate(-4 137.20 176.20)"/>
<ellipse cx="137.20" cy="176.20" rx="8.6" ry="3.2" fill="none" stroke="#222" stroke-width="0.5" transform="rotate(-4 137.20 176.20)"/>
<ellipse cx="137.20" cy="176.20" rx="7" ry="2.6" fill="none" stroke="#111" stroke-width="0.5" transform="rotate(-4 137.20 176.20)"/>
<ellipse cx="136.40" cy="176.40" rx="7.6" ry="3.2" fill="#111" opacity="0.85" filter="url(#blur05)"/>
<line x1="133.70" y1="176.80" x2="140.20" y2="176.40" stroke="#fff" stroke-width="0.4" opacity="0.7"/>
<rect x="92.2" y="123.8" width="63.10" height="61.20" fill="none" stroke="#555" stroke-width="0.75"/>
<line x1="124.80" y1="123.80" x2="124.80" y2="185.00" stroke="#666" stroke-width="0.65" />
<line x1="92.20" y1="157.00" x2="155.30" y2="157.00" stroke="#666" stroke-width="0.65" />
<text x="94.20" y="127.00" font-size="3.4" font-weight="bold" text-anchor="start" fill="#111"  stroke="#111" stroke-width="0.3">0.547</text>
<text x="153.80" y="127.00" font-size="3.4" font-weight="bold" text-anchor="end" fill="#111"  stroke="#111" stroke-width="0.3">0.453</text>
<text x="94.20" y="183.80" font-size="3.4" font-weight="bold" text-anchor="start" fill="#111"  stroke="#111" stroke-width="0.3">16.327</text>
<text x="153.80" y="183.80" font-size="3.4" font-weight="bold" text-anchor="end" fill="#111"  stroke="#111" stroke-width="0.3">83.182</text>
<text x="90.20" y="128.00" font-size="3.6" font-weight="bold" text-anchor="end" fill="#111"  stroke="#111" stroke-width="0.3">10<tspan font-size="2.6" dy="-1.5">5</tspan></text>
<text x="90.20" y="143.60" font-size="3.6" font-weight="bold" text-anchor="end" fill="#111"  stroke="#111" stroke-width="0.3">10<tspan font-size="2.6" dy="-1.5">4</tspan></text>
<text x="90.20" y="157.00" font-size="3.6" font-weight="bold" text-anchor="end" fill="#111"  stroke="#111" stroke-width="0.3">10<tspan font-size="2.6" dy="-1.5">3</tspan></text>
<text x="90.20" y="172.30" font-size="3.6" font-weight="bold" text-anchor="end" fill="#111"  stroke="#111" stroke-width="0.3">10<tspan font-size="2.6" dy="-1.5">2</tspan></text>
<text x="90.20" y="179.80" font-size="3.6" font-weight="bold" text-anchor="end" fill="#111"  stroke="#111" stroke-width="0.3">0</text>
<text x="103.70" y="189.60" font-size="3.6" font-weight="bold" text-anchor="middle" fill="#111"  stroke="#111" stroke-width="0.3">0</text>
<text x="119.70" y="189.60" font-size="3.6" font-weight="bold" text-anchor="middle" fill="#111"  stroke="#111" stroke-width="0.3">10<tspan font-size="2.6" dy="-1.5">3</tspan></text>
<text x="135.70" y="189.60" font-size="3.6" font-weight="bold" text-anchor="middle" fill="#111"  stroke="#111" stroke-width="0.3">10<tspan font-size="2.6" dy="-1.5">4</tspan></text>
<text x="148.70" y="189.60" font-size="3.6" font-weight="bold" text-anchor="middle" fill="#111"  stroke="#111" stroke-width="0.3">10<tspan font-size="2.6" dy="-1.5">5</tspan></text>
<text transform="translate(4.6,153.9) rotate(-90)" font-size="6.7" font-weight="bold" text-anchor="middle" fill="#111" stroke="#111" stroke-width="0.25">YFP</text>
<text x="19.10" y="199.20" font-size="6.2" font-weight="bold" text-anchor="start" fill="#111"  stroke="#111" stroke-width="0.3">CD8α</text>
<line x1="42.00" y1="196.90" x2="154.50" y2="196.90" stroke="#222" stroke-width="1.0" />
<line x1="151.30" y1="198.40" x2="154.80" y2="196.90" stroke="#222" stroke-width="0.95" stroke-linecap="round"/>
<line x1="151.30" y1="195.40" x2="154.80" y2="196.90" stroke="#222" stroke-width="0.95" stroke-linecap="round"/>
<text x="185.00" y="113.30" font-size="11.6" font-weight="bold" text-anchor="start" fill="#111" stroke="#111" stroke-width="0.5">D</text>
<rect x="220.2" y="126.24" width="12.9" height="55.46" fill="#000"/>
<line x1="226.65" y1="126.24" x2="226.65" y2="119.91" stroke="#000" stroke-width="0.8" />
<line x1="224.40" y1="119.91" x2="228.90" y2="119.91" stroke="#000" stroke-width="0.8" />
<rect x="235.5" y="143.75" width="11.6" height="37.95" fill="#a8a8a8" stroke="#000" stroke-width="0.8"/>
<line x1="241.30" y1="143.75" x2="241.30" y2="141.32" stroke="#000" stroke-width="0.8" />
<line x1="239.00" y1="141.32" x2="243.60" y2="141.32" stroke="#000" stroke-width="0.8" />
<rect x="249.9" y="178.78" width="12.2" height="2.92" fill="#fff" stroke="#000" stroke-width="0.8"/>
<line x1="256.00" y1="178.78" x2="256.00" y2="175.86" stroke="#000" stroke-width="0.8" />
<line x1="253.70" y1="175.86" x2="258.30" y2="175.86" stroke="#000" stroke-width="0.8" />
<line x1="219.40" y1="113.80" x2="219.40" y2="182.10" stroke="#222" stroke-width="0.8" />
<line x1="219.40" y1="181.70" x2="263.70" y2="181.70" stroke="#222" stroke-width="0.8" />
<line x1="217.80" y1="181.70" x2="219.40" y2="181.70" stroke="#222" stroke-width="0.7" />
<text x="216.80" y="183.70" font-size="5.6" font-weight="bold" text-anchor="end" fill="#111"  stroke="#111" stroke-width="0.3">0</text>
<line x1="217.80" y1="162.24" x2="219.40" y2="162.24" stroke="#222" stroke-width="0.7" />
<text x="216.80" y="164.24" font-size="5.6" font-weight="bold" text-anchor="end" fill="#111"  stroke="#111" stroke-width="0.3">2</text>
<line x1="217.80" y1="142.78" x2="219.40" y2="142.78" stroke="#222" stroke-width="0.7" />
<text x="216.80" y="144.78" font-size="5.6" font-weight="bold" text-anchor="end" fill="#111"  stroke="#111" stroke-width="0.3">4</text>
<line x1="217.80" y1="123.32" x2="219.40" y2="123.32" stroke="#222" stroke-width="0.7" />
<text x="216.80" y="125.32" font-size="5.6" font-weight="bold" text-anchor="end" fill="#111"  stroke="#111" stroke-width="0.3">6</text>
<line x1="226.50" y1="113.80" x2="245.20" y2="113.80" stroke="#222" stroke-width="0.8" />
<text x="235.90" y="114.60" font-size="6.8" font-weight="bold" text-anchor="middle" fill="#111"  stroke="#111" stroke-width="0.3">*</text>
<text transform="translate(207.4,146) rotate(-90)" font-size="5.6" font-weight="bold" text-anchor="middle" fill="#111" stroke="#111" stroke-width="0.25">colon GVHD score</text>
<text transform="translate(228.20,188.70) rotate(-45)" font-size="5.7" font-weight="bold" text-anchor="end" fill="#111" stroke="#111" stroke-width="0.3">Tc17 intact</text>
<text transform="translate(242.90,188.70) rotate(-45)" font-size="5.7" font-weight="bold" text-anchor="end" fill="#111" stroke="#111" stroke-width="0.3">Tc17 depleted</text>
<text transform="translate(257.60,188.70) rotate(-45)" font-size="5.7" font-weight="bold" text-anchor="end" fill="#111" stroke="#111" stroke-width="0.3">TCD</text>
<g clip-path="url(#clip1)">
<rect x="281.2" y="117.5" width="75.30" height="63.90" fill="#000" filter="url(#hL1)"/>
<rect x="281.2" y="171.40" width="75.30" height="10" fill="#f0c0f0" opacity="0.65" filter="url(#blur1)"/>
<rect x="281.2" y="117.5" width="75.30" height="63.90" fill="#000" filter="url(#hDots1)"/>
<rect x="281.2" y="117.5" width="75.30" height="63.90" fill="#000" filter="url(#hD1)" mask="url(#mask1)"/>
<g filter="url(#warp1)" fill="none" stroke="#5a2ea4" stroke-width="1.4" opacity="0.5">
<ellipse cx="287.00" cy="122.00" rx="3.89" ry="3.55"/>
<ellipse cx="301.00" cy="124.00" rx="5.24" ry="4.80"/>
<ellipse cx="314.00" cy="123.00" rx="4.70" ry="4.30"/>
<ellipse cx="325.00" cy="122.00" rx="4.70" ry="4.30"/>
<ellipse cx="336.00" cy="123.00" rx="4.70" ry="4.30"/>
<ellipse cx="348.00" cy="124.00" rx="5.24" ry="4.80"/>
<ellipse cx="290.00" cy="140.00" rx="6.59" ry="9.80"/>
<ellipse cx="302.00" cy="140.00" rx="6.59" ry="11.05"/>
<ellipse cx="312.00" cy="136.00" rx="5.24" ry="7.30"/>
<ellipse cx="322.00" cy="144.00" rx="6.59" ry="6.05"/>
<ellipse cx="339.00" cy="146.00" rx="7.94" ry="11.05"/>
<ellipse cx="349.00" cy="142.00" rx="5.24" ry="7.30"/>
<ellipse cx="288.00" cy="165.00" rx="5.24" ry="7.30"/>
<ellipse cx="297.00" cy="159.00" rx="5.24" ry="6.05"/>
<ellipse cx="307.00" cy="162.00" rx="7.94" ry="9.80"/>
<ellipse cx="319.00" cy="158.00" rx="5.24" ry="4.80"/>
<ellipse cx="331.00" cy="160.00" rx="6.59" ry="7.30"/>
<ellipse cx="348.00" cy="157.00" rx="5.24" ry="7.30"/>
<ellipse cx="320.00" cy="131.00" rx="3.35" ry="3.05"/>
<ellipse cx="330.00" cy="134.00" rx="3.89" ry="3.55"/>
</g>
<g filter="url(#lwarp1)">
<ellipse cx="288.00" cy="166.00" rx="1.60" ry="2.50" fill="#faf4fc" opacity="0.7"/>
<ellipse cx="307.00" cy="163.00" rx="2.20" ry="3.50" fill="#faf4fc" opacity="0.85"/>
<ellipse cx="331.00" cy="161.00" rx="1.80" ry="2.50" fill="#faf4fc" opacity="0.6"/>
<ellipse cx="340.00" cy="148.00" rx="1.20" ry="4.00" fill="#faf4fc" opacity="0.6"/>
<ellipse cx="302.00" cy="142.00" rx="1.00" ry="3.00" fill="#faf4fc" opacity="0.4"/>
<ellipse cx="290.00" cy="142.00" rx="1.00" ry="3.00" fill="#faf4fc" opacity="0.4"/>
</g>
</g>
<rect x="281.2" y="117.5" width="75.30" height="63.90" fill="none" stroke="#666" stroke-width="0.8"/>
<g clip-path="url(#clip2)">
<rect x="359.3" y="117.8" width="74.50" height="63.30" fill="#000" filter="url(#hL2)"/>
<rect x="359.3" y="174.10" width="74.50" height="7" fill="#e47ada" opacity="0.85" filter="url(#blur1)"/>
<rect x="359.3" y="117.8" width="74.50" height="63.30" fill="#000" filter="url(#hDots2)"/>
<rect x="359.3" y="117.8" width="74.50" height="63.30" fill="#000" filter="url(#hD2)" mask="url(#mask2)"/>
<g filter="url(#warp2)" fill="none" stroke="#5a2ea4" stroke-width="1.4" opacity="0.7">
<ellipse cx="364.00" cy="152.50" rx="5.50" ry="21.30"/>
<ellipse cx="374.50" cy="152.50" rx="5.50" ry="21.30"/>
<ellipse cx="385.00" cy="152.50" rx="5.50" ry="21.30"/>
<ellipse cx="396.00" cy="152.50" rx="5.50" ry="21.30"/>
<ellipse cx="407.00" cy="152.50" rx="5.50" ry="21.30"/>
<ellipse cx="418.00" cy="152.50" rx="5.50" ry="21.30"/>
<ellipse cx="428.50" cy="152.50" rx="5.50" ry="21.30"/>
<ellipse cx="364.00" cy="122.00" rx="3.30" ry="2.50"/>
<ellipse cx="376.00" cy="122.00" rx="3.30" ry="2.50"/>
<ellipse cx="388.00" cy="122.00" rx="3.30" ry="2.50"/>
<ellipse cx="400.00" cy="122.00" rx="3.30" ry="2.50"/>
<ellipse cx="412.00" cy="122.00" rx="3.30" ry="2.50"/>
<ellipse cx="424.00" cy="122.00" rx="3.30" ry="2.50"/>
<ellipse cx="433.00" cy="122.00" rx="3.30" ry="2.50"/>
</g>
<g filter="url(#lwarp2)">
<ellipse cx="364.50" cy="133.00" rx="2.80" ry="9.00" fill="#faf4fc" opacity="0.95"/>
<ellipse cx="385.20" cy="148.00" rx="1.80" ry="12.50" fill="#faf4fc" opacity="0.85"/>
<ellipse cx="397.00" cy="139.00" rx="1.90" ry="11.00" fill="#faf4fc" opacity="0.9"/>
<ellipse cx="407.00" cy="142.00" rx="1.40" ry="10.00" fill="#faf4fc" opacity="0.7"/>
<ellipse cx="418.50" cy="150.00" rx="1.80" ry="12.00" fill="#faf4fc" opacity="0.9"/>
<ellipse cx="429.20" cy="154.00" rx="1.80" ry="12.00" fill="#faf4fc" opacity="0.85"/>
<ellipse cx="374.50" cy="146.00" rx="1.20" ry="10.00" fill="#faf4fc" opacity="0.5"/>
<ellipse cx="367.70" cy="121.50" rx="2.00" ry="2.00" fill="#faf4fc" opacity="0.8"/>
<ellipse cx="381.00" cy="122.00" rx="1.80" ry="1.80" fill="#faf4fc" opacity="0.6"/>
<ellipse cx="393.00" cy="122.50" rx="2.00" ry="2.00" fill="#faf4fc" opacity="0.75"/>
<ellipse cx="406.00" cy="122.00" rx="1.80" ry="1.80" fill="#faf4fc" opacity="0.6"/>
<ellipse cx="420.00" cy="122.50" rx="2.00" ry="2.00" fill="#faf4fc" opacity="0.75"/>
</g>
</g>
<rect x="359.3" y="117.8" width="74.50" height="63.30" fill="none" stroke="#666" stroke-width="0.8"/>
<g clip-path="url(#clip3)">
<rect x="436.3" y="118.6" width="76.20" height="62.70" fill="#000" filter="url(#hL3)"/>
<rect x="436.3" y="174.30" width="76.20" height="7" fill="#eaa2ea" opacity="0.7" filter="url(#blur1)"/>
<rect x="436.3" y="118.6" width="76.20" height="62.70" fill="#000" filter="url(#hDots3)"/>
<rect x="436.3" y="118.6" width="76.20" height="62.70" fill="#000" filter="url(#hD3)" mask="url(#mask3)"/>
<g filter="url(#warp3)" fill="none" stroke="#5a2ea4" stroke-width="1.4" opacity="0.38">
<ellipse cx="443.90" cy="123.00" rx="5.40" ry="5.70"/>
<ellipse cx="456.60" cy="127.90" rx="4.90" ry="5.20"/>
<ellipse cx="467.70" cy="135.80" rx="5.70" ry="7.70"/>
<ellipse cx="480.40" cy="142.20" rx="5.50" ry="7.70"/>
<ellipse cx="494.70" cy="131.00" rx="5.70" ry="9.20"/>
<ellipse cx="442.30" cy="151.60" rx="5.50" ry="10.70"/>
<ellipse cx="453.40" cy="147.00" rx="5.40" ry="9.20"/>
<ellipse cx="472.50" cy="153.30" rx="5.40" ry="9.20"/>
<ellipse cx="459.80" cy="166.00" rx="5.70" ry="9.20"/>
<ellipse cx="483.60" cy="162.70" rx="5.70" ry="9.20"/>
<ellipse cx="497.90" cy="159.60" rx="5.50" ry="9.20"/>
<ellipse cx="507.40" cy="148.50" rx="5.30" ry="10.70"/>
<ellipse cx="450.20" cy="170.70" rx="5.10" ry="7.20"/>
<ellipse cx="441.00" cy="148.00" rx="4.50" ry="26.30"/>
<ellipse cx="452.00" cy="148.00" rx="4.50" ry="26.30"/>
<ellipse cx="463.00" cy="148.00" rx="4.50" ry="26.30"/>
<ellipse cx="474.00" cy="148.00" rx="4.50" ry="26.30"/>
<ellipse cx="485.00" cy="148.00" rx="4.50" ry="26.30"/>
<ellipse cx="496.00" cy="148.00" rx="4.50" ry="26.30"/>
<ellipse cx="507.00" cy="148.00" rx="4.50" ry="26.30"/>
</g>
<g filter="url(#lwarp3)">
<ellipse cx="443.90" cy="123.00" rx="2.62" ry="3.15" fill="#faf4fc" opacity="0.97"/>
<ellipse cx="456.60" cy="127.90" rx="2.10" ry="2.62" fill="#faf4fc" opacity="0.97"/>
<ellipse cx="467.70" cy="135.80" rx="2.94" ry="5.25" fill="#faf4fc" opacity="0.97"/>
<ellipse cx="480.40" cy="142.20" rx="2.73" ry="5.25" fill="#faf4fc" opacity="0.97"/>
<ellipse cx="494.70" cy="131.00" rx="2.94" ry="6.83" fill="#faf4fc" opacity="0.97"/>
<ellipse cx="442.30" cy="151.60" rx="2.73" ry="8.40" fill="#faf4fc" opacity="0.97"/>
<ellipse cx="453.40" cy="147.00" rx="2.62" ry="6.83" fill="#faf4fc" opacity="0.97"/>
<ellipse cx="472.50" cy="153.30" rx="2.62" ry="6.83" fill="#faf4fc" opacity="0.97"/>
<ellipse cx="459.80" cy="166.00" rx="2.94" ry="6.83" fill="#faf4fc" opacity="0.97"/>
<ellipse cx="483.60" cy="162.70" rx="2.94" ry="6.83" fill="#faf4fc" opacity="0.97"/>
<ellipse cx="497.90" cy="159.60" rx="2.73" ry="6.83" fill="#faf4fc" opacity="0.97"/>
<ellipse cx="507.40" cy="148.50" rx="2.52" ry="8.40" fill="#faf4fc" opacity="0.97"/>
<ellipse cx="450.20" cy="170.70" rx="2.31" ry="4.73" fill="#faf4fc" opacity="0.97"/>
<ellipse cx="448.00" cy="121.00" rx="3.00" ry="1.80" fill="#faf4fc" opacity="0.7"/>
<ellipse cx="470.00" cy="121.50" rx="3.00" ry="1.80" fill="#faf4fc" opacity="0.6"/>
<ellipse cx="490.00" cy="121.00" rx="3.00" ry="1.80" fill="#faf4fc" opacity="0.6"/>
<ellipse cx="505.00" cy="122.00" rx="2.50" ry="1.80" fill="#faf4fc" opacity="0.6"/>
</g>
</g>
<rect x="436.3" y="118.6" width="76.20" height="62.70" fill="none" stroke="#666" stroke-width="0.8"/>
<line x1="483.00" y1="177.20" x2="509.00" y2="177.20" stroke="#222" stroke-width="1.0" />
<text x="319.20" y="114.00" font-size="6.4" font-weight="bold" text-anchor="middle" fill="#111"  stroke="#111" stroke-width="0.3">Tc17 intact</text>
<text x="397.20" y="114.20" font-size="6.3" font-weight="bold" text-anchor="middle" fill="#111"  stroke="#111" stroke-width="0.3">Tc17 depleted</text>
<text x="474.90" y="115.00" font-size="6.2" font-weight="bold" text-anchor="middle" fill="#111"  stroke="#111" stroke-width="0.3">TCD</text>
<line x1="280.60" y1="189.70" x2="380.00" y2="189.70" stroke="#444" stroke-width="1.1" />
<line x1="413.00" y1="189.70" x2="512.00" y2="189.70" stroke="#444" stroke-width="1.1" />
<text x="397.00" y="192.30" font-size="6.4" font-weight="bold" text-anchor="middle" fill="#111"  stroke="#111" stroke-width="0.3">D7 colon</text>
<text x="0.50" y="231.90" font-size="11.6" font-weight="bold" text-anchor="start" fill="#111" stroke="#111" stroke-width="0.5">E</text>
<text x="41.40" y="230.60" font-size="6" font-weight="bold" text-anchor="start" fill="#111"  stroke="#111" stroke-width="0.3">B6</text>
<line x1="51.90" y1="228.60" x2="57.10" y2="228.60" stroke="#111" stroke-width="0.6" />
<polygon points="57.70,228.6 55.70,227.5 55.70,229.7" fill="#111"/>
<text x="60.40" y="230.60" font-size="6" font-weight="bold" text-anchor="start" fill="#111"  stroke="#111" stroke-width="0.3">B6D2F1</text>
<line x1="21.40" y1="244.20" x2="92.59" y2="244.20" stroke="#aaaaaa" stroke-width="1.0" />
<path d="M21.40,244.20 H30.99 V245.26 H37.60 V247.64 H48.18 V250.03 H53.03 V251.88 H66.03 V254.96 H72.75 V260.21 H75.62 V264.98 H77.60 V267.89 H82.34 V270.81 H92.59 V270.81" fill="none" stroke="#2a2a2a" stroke-width="1.1"/>
<path d="M21.40,244.20 H33.52 V246.32 H37.93 V247.64 H42.34 V250.56 H45.64 V253.21 H47.85 V255.86 H51.15 V258.19 H53.91 V261.16 H56.66 V263.81 H62.73 V266.67 H66.03 V269.64 H68.79 V273.35 H72.09 V275.47 H75.40 V276.53 H92.59 V276.53" fill="none" stroke="#2a2a2a" stroke-width="1.1"/>
<path d="M21.40,244.20 H30.22 V245.79 H35.73 V247.64 H41.24 V249.50 H43.44 V251.09 H45.31 V255.33 H47.30 V259.04 H49.17 V262.96 H51.15 V266.99 H52.04 V270.70 H53.03 V273.62 H54.90 V275.47 H56.66 V277.59 H62.50 V279.34 H65.04 V281.19 H68.90 V282.20 H72.75 V286.12 H75.62 V290.36 H92.59 V290.36" fill="none" stroke="#2a2a2a" stroke-width="1.1"/>
<line x1="21.40" y1="241.50" x2="21.40" y2="297.60" stroke="#222" stroke-width="0.85" />
<line x1="21.40" y1="297.20" x2="110.50" y2="297.20" stroke="#222" stroke-width="0.85" />
<line x1="19.80" y1="297.20" x2="21.40" y2="297.20" stroke="#222" stroke-width="0.7" />
<text x="19.00" y="299.10" font-size="5.3" font-weight="bold" text-anchor="end" fill="#111"  stroke="#111" stroke-width="0.3">0</text>
<line x1="19.80" y1="283.95" x2="21.40" y2="283.95" stroke="#222" stroke-width="0.7" />
<text x="19.00" y="285.85" font-size="5.3" font-weight="bold" text-anchor="end" fill="#111"  stroke="#111" stroke-width="0.3">25</text>
<line x1="19.80" y1="270.70" x2="21.40" y2="270.70" stroke="#222" stroke-width="0.7" />
<text x="19.00" y="272.60" font-size="5.3" font-weight="bold" text-anchor="end" fill="#111"  stroke="#111" stroke-width="0.3">50</text>
<line x1="19.80" y1="257.45" x2="21.40" y2="257.45" stroke="#222" stroke-width="0.7" />
<text x="19.00" y="259.35" font-size="5.3" font-weight="bold" text-anchor="end" fill="#111"  stroke="#111" stroke-width="0.3">75</text>
<line x1="19.80" y1="244.20" x2="21.40" y2="244.20" stroke="#222" stroke-width="0.7" />
<text x="19.00" y="246.10" font-size="5.3" font-weight="bold" text-anchor="end" fill="#111"  stroke="#111" stroke-width="0.3">100</text>
<line x1="21.40" y1="297.20" x2="21.40" y2="298.80" stroke="#222" stroke-width="0.7" />
<text x="21.40" y="305.00" font-size="5.3" font-weight="bold" text-anchor="middle" fill="#111"  stroke="#111" stroke-width="0.3">0</text>
<line x1="43.44" y1="297.20" x2="43.44" y2="298.80" stroke="#222" stroke-width="0.7" />
<text x="43.44" y="305.00" font-size="5.3" font-weight="bold" text-anchor="middle" fill="#111"  stroke="#111" stroke-width="0.3">20</text>
<line x1="65.48" y1="297.20" x2="65.48" y2="298.80" stroke="#222" stroke-width="0.7" />
<text x="65.48" y="305.00" font-size="5.3" font-weight="bold" text-anchor="middle" fill="#111"  stroke="#111" stroke-width="0.3">40</text>
<line x1="87.52" y1="297.20" x2="87.52" y2="298.80" stroke="#222" stroke-width="0.7" />
<text x="87.52" y="305.00" font-size="5.3" font-weight="bold" text-anchor="middle" fill="#111"  stroke="#111" stroke-width="0.3">60</text>
<line x1="109.56" y1="297.20" x2="109.56" y2="298.80" stroke="#222" stroke-width="0.7" />
<text x="109.56" y="305.00" font-size="5.3" font-weight="bold" text-anchor="middle" fill="#111"  stroke="#111" stroke-width="0.3">80</text>
<text x="65.95" y="312.00" font-size="5.8" font-weight="bold" text-anchor="middle" fill="#111"  stroke="#111" stroke-width="0.3">Days post Tx</text>
<text transform="translate(6.60,269.20) rotate(-90)" font-size="5.4" font-weight="bold" text-anchor="middle" fill="#111" stroke="#111" stroke-width="0.25">Percent survival</text>
<polygon points="90.59,242.60 94.59,242.60 92.59,246.00" fill="#a0a0a0"/>
<polygon points="90.29,270.81 92.59,268.61 94.89,270.81 92.59,273.01" fill="#2a1a5a"/>
<rect x="90.49" y="274.43" width="4.2" height="4.2" rx="0.9" fill="#d0703c" stroke="#5a2410" stroke-width="0.8"/>
<ellipse cx="92.59" cy="291.58" rx="2.2" ry="2.1" fill="#1a1ae0"/>
<line x1="99.20" y1="270.60" x2="99.20" y2="276.70" stroke="#222" stroke-width="0.8" />
<text x="101.70" y="276.20" font-size="5.3" font-weight="bold" text-anchor="start" fill="#111"  stroke="#111" stroke-width="0.3">n.s.</text>
<line x1="99.20" y1="277.80" x2="99.20" y2="292.00" stroke="#222" stroke-width="0.8" />
<text x="101.70" y="286.30" font-size="5.3" font-weight="bold" text-anchor="start" fill="#111"  stroke="#111" stroke-width="0.3">**</text>
<polygon points="114.60,235.90 116.70,234.00 117.90,234.00 120.00,235.90 117.90,237.80 116.70,237.80" fill="#1a1ae0"/>
<text x="123.90" y="238.00" font-size="5.9" font-weight="bold" text-anchor="start" fill="#111"  stroke="#111" stroke-width="0.3">Tc17 intact</text>
<rect x="115.20" y="241.60" width="4.2" height="4.2" rx="0.9" fill="#d0703c" stroke="#5a2410" stroke-width="0.8"/>
<text x="123.90" y="245.80" font-size="5.9" font-weight="bold" text-anchor="start" fill="#111"  stroke="#111" stroke-width="0.3">Tc17 depleted</text>
<polygon points="115.00,251.50 117.30,249.30 119.60,251.50 117.30,253.70" fill="#2a1a5a"/>
<text x="123.90" y="253.60" font-size="5.9" font-weight="bold" text-anchor="start" fill="#111"  stroke="#111" stroke-width="0.3">Tc17 ko</text>
<polygon points="115.30,257.70 119.30,257.70 117.30,261.10" fill="#a0a0a0"/>
<text x="123.90" y="261.40" font-size="5.9" font-weight="bold" text-anchor="start" fill="#111"  stroke="#111" stroke-width="0.3">TCD</text>
<text x="185.20" y="232.00" font-size="11.6" font-weight="bold" text-anchor="start" fill="#111" stroke="#111" stroke-width="0.5">F</text>
<text x="232.20" y="230.60" font-size="6" font-weight="bold" text-anchor="start" fill="#111"  stroke="#111" stroke-width="0.3">B6</text>
<line x1="242.30" y1="228.60" x2="247.50" y2="228.60" stroke="#111" stroke-width="0.6" />
<polygon points="248.10,228.6 246.10,227.5 246.10,229.7" fill="#111"/>
<text x="251.00" y="230.60" font-size="6" font-weight="bold" text-anchor="start" fill="#111"  stroke="#111" stroke-width="0.3">Balb/c</text>
<line x1="204.70" y1="244.20" x2="281.35" y2="244.20" stroke="#aaaaaa" stroke-width="1.0" />
<path d="M204.70,244.20 H224.52 V248.57 H231.20 V254.32 H239.85 V258.96 H243.57 V264.75 H247.40 V270.55 H267.22 V275.45 H281.02 V275.45" fill="none" stroke="#2a2a2a" stroke-width="1.1"/>
<path d="M204.70,244.20 H219.81 V248.57 H227.37 V258.96 H234.05 V264.75 H236.89 V268.60 H238.75 V275.29 H239.85 V280.04 H243.57 V286.68 H250.25 V296.90" fill="none" stroke="#2a2a2a" stroke-width="1.1"/>
<line x1="204.70" y1="241.50" x2="204.70" y2="297.30" stroke="#222" stroke-width="0.85" />
<line x1="204.70" y1="296.90" x2="292.60" y2="296.90" stroke="#222" stroke-width="0.85" />
<line x1="203.10" y1="296.90" x2="204.70" y2="296.90" stroke="#222" stroke-width="0.7" />
<text x="202.30" y="298.80" font-size="5.3" font-weight="bold" text-anchor="end" fill="#111"  stroke="#111" stroke-width="0.3">0</text>
<line x1="203.10" y1="283.72" x2="204.70" y2="283.72" stroke="#222" stroke-width="0.7" />
<text x="202.30" y="285.62" font-size="5.3" font-weight="bold" text-anchor="end" fill="#111"  stroke="#111" stroke-width="0.3">25</text>
<line x1="203.10" y1="270.55" x2="204.70" y2="270.55" stroke="#222" stroke-width="0.7" />
<text x="202.30" y="272.45" font-size="5.3" font-weight="bold" text-anchor="end" fill="#111"  stroke="#111" stroke-width="0.3">50</text>
<line x1="203.10" y1="257.38" x2="204.70" y2="257.38" stroke="#222" stroke-width="0.7" />
<text x="202.30" y="259.27" font-size="5.3" font-weight="bold" text-anchor="end" fill="#111"  stroke="#111" stroke-width="0.3">75</text>
<line x1="203.10" y1="244.20" x2="204.70" y2="244.20" stroke="#222" stroke-width="0.7" />
<text x="202.30" y="246.10" font-size="5.3" font-weight="bold" text-anchor="end" fill="#111"  stroke="#111" stroke-width="0.3">100</text>
<line x1="204.70" y1="296.90" x2="204.70" y2="298.50" stroke="#222" stroke-width="0.7" />
<text x="204.70" y="304.70" font-size="5.3" font-weight="bold" text-anchor="middle" fill="#111"  stroke="#111" stroke-width="0.3">0</text>
<line x1="226.60" y1="296.90" x2="226.60" y2="298.50" stroke="#222" stroke-width="0.7" />
<text x="226.60" y="304.70" font-size="5.3" font-weight="bold" text-anchor="middle" fill="#111"  stroke="#111" stroke-width="0.3">20</text>
<line x1="248.50" y1="296.90" x2="248.50" y2="298.50" stroke="#222" stroke-width="0.7" />
<text x="248.50" y="304.70" font-size="5.3" font-weight="bold" text-anchor="middle" fill="#111"  stroke="#111" stroke-width="0.3">40</text>
<line x1="270.40" y1="296.90" x2="270.40" y2="298.50" stroke="#222" stroke-width="0.7" />
<text x="270.40" y="304.70" font-size="5.3" font-weight="bold" text-anchor="middle" fill="#111"  stroke="#111" stroke-width="0.3">60</text>
<line x1="292.30" y1="296.90" x2="292.30" y2="298.50" stroke="#222" stroke-width="0.7" />
<text x="292.30" y="304.70" font-size="5.3" font-weight="bold" text-anchor="middle" fill="#111"  stroke="#111" stroke-width="0.3">80</text>
<text x="248.65" y="312.00" font-size="5.8" font-weight="bold" text-anchor="middle" fill="#111"  stroke="#111" stroke-width="0.3">Days post Tx</text>
<text transform="translate(189.90,269.05) rotate(-90)" font-size="5.4" font-weight="bold" text-anchor="middle" fill="#111" stroke="#111" stroke-width="0.25">Percent survival</text>
<polygon points="279.35,245.80 283.35,245.80 281.35,242.40" fill="#a8a8a8"/>
<rect x="278.92" y="273.35" width="4.2" height="4.2" rx="0.9" fill="#d0703c" stroke="#5a2410" stroke-width="0.8"/>
<polygon points="247.55,296.37 249.65,294.47 250.85,294.47 252.95,296.37 250.85,298.27 249.65,298.27" fill="#1a1ae0"/>
<line x1="288.70" y1="273.30" x2="288.70" y2="296.90" stroke="#222" stroke-width="0.8" />
<text x="291.20" y="285.00" font-size="5.3" font-weight="bold" text-anchor="start" fill="#111"  stroke="#111" stroke-width="0.3">*</text>
<polygon points="293.20,236.40 295.30,234.50 296.50,234.50 298.60,236.40 296.50,238.30 295.30,238.30" fill="#1a1ae0"/>
<text x="302.50" y="238.50" font-size="5.9" font-weight="bold" text-anchor="start" fill="#111"  stroke="#111" stroke-width="0.3">Tc17 intact</text>
<rect x="293.80" y="242.10" width="4.2" height="4.2" rx="0.9" fill="#d0703c" stroke="#5a2410" stroke-width="0.8"/>
<text x="302.50" y="246.30" font-size="5.9" font-weight="bold" text-anchor="start" fill="#111"  stroke="#111" stroke-width="0.3">Tc17 depleted</text>
<polygon points="295.90,249.40 296.61,251.03 298.37,251.20 297.04,252.37 297.43,254.10 295.90,253.20 294.37,254.10 294.76,252.37 293.43,251.20 295.19,251.03" fill="#a0a8b8"/>
<text x="302.50" y="254.10" font-size="5.9" font-weight="bold" text-anchor="start" fill="#111"  stroke="#111" stroke-width="0.3">TCD</text>
<text x="364.20" y="232.00" font-size="11.6" font-weight="bold" text-anchor="start" fill="#111" stroke="#111" stroke-width="0.5">G</text>
<text x="405.20" y="230.60" font-size="6" font-weight="bold" text-anchor="start" fill="#111"  stroke="#111" stroke-width="0.3">B6</text>
<line x1="415.30" y1="228.60" x2="420.50" y2="228.60" stroke="#111" stroke-width="0.6" />
<polygon points="421.10,228.6 419.10,227.5 419.10,229.7" fill="#111"/>
<text x="423.50" y="230.60" font-size="6" font-weight="bold" text-anchor="start" fill="#111"  stroke="#111" stroke-width="0.3">Bm1</text>
<line x1="382.90" y1="245.00" x2="460.87" y2="245.00" stroke="#aaaaaa" stroke-width="1.0" />
<path d="M382.90,245.00 H432.16 V256.94 H435.35 V262.80 H439.25 V268.72 H445.45 V274.58 H446.51 V285.90 H460.87 V285.90" fill="none" stroke="#606060" stroke-width="1.1"/>
<path d="M382.90,245.00 H416.21 V250.29 H426.14 V256.42 H428.62 V285.48 H431.28 V291.40 H448.11 V291.40 H448.11 V296.90" fill="none" stroke="#606060" stroke-width="1.1"/>
<line x1="382.90" y1="241.50" x2="382.90" y2="297.30" stroke="#222" stroke-width="0.85" />
<line x1="382.90" y1="296.90" x2="471.80" y2="296.90" stroke="#222" stroke-width="0.85" />
<line x1="381.30" y1="296.90" x2="382.90" y2="296.90" stroke="#222" stroke-width="0.7" />
<text x="380.50" y="298.80" font-size="5.3" font-weight="bold" text-anchor="end" fill="#111"  stroke="#111" stroke-width="0.3">0</text>
<line x1="381.30" y1="283.92" x2="382.90" y2="283.92" stroke="#222" stroke-width="0.7" />
<text x="380.50" y="285.82" font-size="5.3" font-weight="bold" text-anchor="end" fill="#111"  stroke="#111" stroke-width="0.3">25</text>
<line x1="381.30" y1="270.95" x2="382.90" y2="270.95" stroke="#222" stroke-width="0.7" />
<text x="380.50" y="272.85" font-size="5.3" font-weight="bold" text-anchor="end" fill="#111"  stroke="#111" stroke-width="0.3">50</text>
<line x1="381.30" y1="257.97" x2="382.90" y2="257.97" stroke="#222" stroke-width="0.7" />
<text x="380.50" y="259.87" font-size="5.3" font-weight="bold" text-anchor="end" fill="#111"  stroke="#111" stroke-width="0.3">75</text>
<line x1="381.30" y1="245.00" x2="382.90" y2="245.00" stroke="#222" stroke-width="0.7" />
<text x="380.50" y="246.90" font-size="5.3" font-weight="bold" text-anchor="end" fill="#111"  stroke="#111" stroke-width="0.3">100</text>
<line x1="382.90" y1="296.90" x2="382.90" y2="298.50" stroke="#222" stroke-width="0.7" />
<text x="382.90" y="304.70" font-size="5.3" font-weight="bold" text-anchor="middle" fill="#111"  stroke="#111" stroke-width="0.3">0</text>
<line x1="400.62" y1="296.90" x2="400.62" y2="298.50" stroke="#222" stroke-width="0.7" />
<text x="400.62" y="304.70" font-size="5.3" font-weight="bold" text-anchor="middle" fill="#111"  stroke="#111" stroke-width="0.3">10</text>
<line x1="418.34" y1="296.90" x2="418.34" y2="298.50" stroke="#222" stroke-width="0.7" />
<text x="418.34" y="304.70" font-size="5.3" font-weight="bold" text-anchor="middle" fill="#111"  stroke="#111" stroke-width="0.3">20</text>
<line x1="436.06" y1="296.90" x2="436.06" y2="298.50" stroke="#222" stroke-width="0.7" />
<text x="436.06" y="304.70" font-size="5.3" font-weight="bold" text-anchor="middle" fill="#111"  stroke="#111" stroke-width="0.3">30</text>
<line x1="453.78" y1="296.90" x2="453.78" y2="298.50" stroke="#222" stroke-width="0.7" />
<text x="453.78" y="304.70" font-size="5.3" font-weight="bold" text-anchor="middle" fill="#111"  stroke="#111" stroke-width="0.3">40</text>
<line x1="471.50" y1="296.90" x2="471.50" y2="298.50" stroke="#222" stroke-width="0.7" />
<text x="471.50" y="304.70" font-size="5.3" font-weight="bold" text-anchor="middle" fill="#111"  stroke="#111" stroke-width="0.3">50</text>
<text x="427.35" y="312.00" font-size="5.8" font-weight="bold" text-anchor="middle" fill="#111"  stroke="#111" stroke-width="0.3">Days post Tx</text>
<text transform="translate(368.10,269.45) rotate(-90)" font-size="5.4" font-weight="bold" text-anchor="middle" fill="#111" stroke="#111" stroke-width="0.25">Percent survival</text>
<polygon points="458.87,246.60 462.87,246.60 460.87,243.20" fill="#a8a8a8"/>
<rect x="458.77" y="283.80" width="4.2" height="4.2" rx="0.9" fill="#d0703c" stroke="#5a2410" stroke-width="0.8"/>
<polygon points="445.81,296.90 448.11,294.60 450.41,296.90 448.11,299.20" fill="#1a1ae0"/>
<line x1="465.10" y1="285.80" x2="465.10" y2="296.90" stroke="#222" stroke-width="0.8" />
<text x="467.60" y="292.50" font-size="5.3" font-weight="bold" text-anchor="start" fill="#111"  stroke="#111" stroke-width="0.3">*</text>
<ellipse cx="475.90" cy="236.20" rx="2.2" ry="2.1" fill="#1a1ae0"/>
<text x="482.50" y="238.30" font-size="5.9" font-weight="bold" text-anchor="start" fill="#111"  stroke="#111" stroke-width="0.3">Tc17 intact</text>
<rect x="473.80" y="241.90" width="4.2" height="4.2" rx="0.9" fill="#d0703c" stroke="#5a2410" stroke-width="0.8"/>
<text x="482.50" y="246.10" font-size="5.9" font-weight="bold" text-anchor="start" fill="#111"  stroke="#111" stroke-width="0.3">Tc17 depleted</text>
<polygon points="475.90,249.20 476.61,250.83 478.37,251.00 477.04,252.17 477.43,253.90 475.90,253.00 474.37,253.90 474.76,252.17 473.43,251.00 475.19,250.83" fill="#a0a8b8"/>
<text x="482.50" y="253.90" font-size="5.9" font-weight="bold" text-anchor="start" fill="#111"  stroke="#111" stroke-width="0.3">TCD</text>
</svg></body></html>
